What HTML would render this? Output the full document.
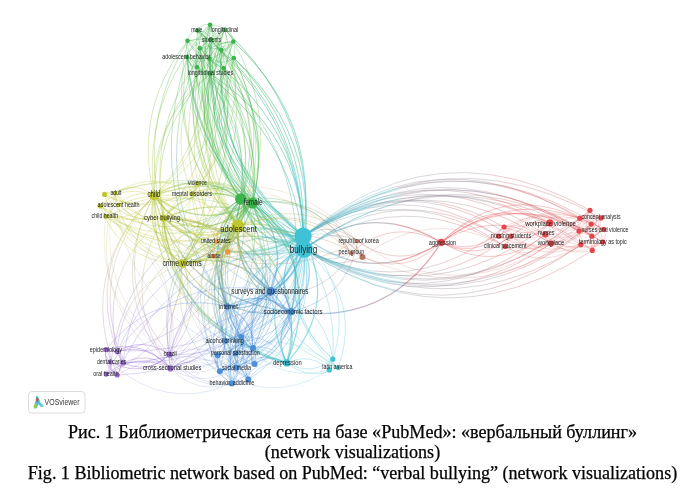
<!DOCTYPE html>
<html><head><meta charset="utf-8">
<style>
html,body{margin:0;padding:0;background:#fff;}
body{width:698px;height:502px;position:relative;overflow:hidden;}
svg{position:absolute;left:0;top:0;}
#net{filter:blur(0.65px);}
.cap{position:absolute;left:3.5px;width:698px;text-align:center;font-family:"Liberation Serif",serif;font-size:18.1px;line-height:20px;color:#000;white-space:nowrap;filter:blur(0.3px);-webkit-text-stroke:0.25px #000;}
</style></head><body>
<svg id="net" width="698" height="420" viewBox="0 0 698 420">
<g fill="none" stroke-width="0.7" stroke-opacity="0.28">
<path d="M210.1 24.7Q207.3 24.2 205 24.7" stroke="#3cb44b" stroke-opacity="0.42"/>
<path d="M205 24.7Q202.7 25.2 200.8 26.7" stroke="#3cb44b" stroke-opacity="0.42"/>
<path d="M200.8 26.7Q198.9 28.1 197.5 30.5" stroke="#3cb44b" stroke-opacity="0.42"/>
<path d="M210.1 24.7Q208.2 30 205 33.5" stroke="#3cb44b" stroke-opacity="0.42"/>
<path d="M205 33.5Q201.9 37.1 197.5 38.9" stroke="#3cb44b" stroke-opacity="0.42"/>
<path d="M197.5 38.9Q193.1 40.7 187.5 40.8" stroke="#3cb44b" stroke-opacity="0.42"/>
<path d="M210.1 24.7Q211.9 27.1 212.6 29.5" stroke="#3cb44b" stroke-opacity="0.42"/>
<path d="M212.6 29.5Q213.3 31.9 212.9 34.4" stroke="#3cb44b" stroke-opacity="0.42"/>
<path d="M212.9 34.4Q212.4 36.9 210.9 39.4" stroke="#3cb44b" stroke-opacity="0.42"/>
<path d="M210.1 24.7Q215.7 25.1 220.2 27" stroke="#3cb44b" stroke-opacity="0.42"/>
<path d="M220.2 27Q224.7 29 228 32.6" stroke="#3cb44b" stroke-opacity="0.42"/>
<path d="M228 32.6Q231.3 36.3 233.4 41.5" stroke="#3cb44b" stroke-opacity="0.42"/>
<path d="M210.1 24.7Q205.8 27.5 203.3 31" stroke="#3cb44b" stroke-opacity="0.42"/>
<path d="M203.3 31Q200.7 34.6 199.8 38.9" stroke="#3cb44b" stroke-opacity="0.42"/>
<path d="M199.8 38.9Q199 43.2 199.8 48.2" stroke="#3cb44b" stroke-opacity="0.42"/>
<path d="M210.1 24.7Q214.8 27.7 217.6 31.5" stroke="#3cb44b" stroke-opacity="0.42"/>
<path d="M217.6 31.5Q220.3 35.4 221.3 40" stroke="#3cb44b" stroke-opacity="0.42"/>
<path d="M221.3 40Q222.2 44.6 221.3 50.1" stroke="#3cb44b" stroke-opacity="0.42"/>
<path d="M210.1 24.7Q206.1 30.3 204.6 35.9" stroke="#3cb44b" stroke-opacity="0.42"/>
<path d="M204.6 35.9Q203.2 41.6 204.4 47.3" stroke="#3cb44b" stroke-opacity="0.42"/>
<path d="M204.4 47.3Q205.6 53 209.4 58.7" stroke="#3cb44b" stroke-opacity="0.42"/>
<path d="M210.1 24.7Q215.5 32.9 217.3 41" stroke="#3cb44b" stroke-opacity="0.42"/>
<path d="M217.3 41Q219.1 49.2 217.3 57.4" stroke="#3cb44b" stroke-opacity="0.42"/>
<path d="M217.3 57.4Q215.5 65.5 210.1 73.7" stroke="#3cb44b" stroke-opacity="0.42"/>
<path d="M210.1 24.7Q201.4 56.2 201.9 86" stroke="#3cb44b" stroke-width="0.8" stroke-opacity="0.42"/>
<path d="M201.9 86Q202.5 115.9 212.2 144.1" stroke="#3cb44b" stroke-width="0.8" stroke-opacity="0.42"/>
<path d="M212.2 144.1Q221.9 172.4 240.8 199" stroke="#3cb44b" stroke-width="0.8" stroke-opacity="0.42"/>
<path d="M210.1 24.7Q202.1 58 204.1 88.9" stroke="#3cb44b" stroke-width="0.8" stroke-opacity="0.42"/>
<path d="M204.1 88.9Q206.2 119.8 218.3 148.3" stroke="#3cb44b" stroke-width="0.8" stroke-opacity="0.42"/>
<path d="M218.3 148.3Q230.4 176.9 252.5 203" stroke="#3cb44b" stroke-width="0.8" stroke-opacity="0.42"/>
<path d="M210.1 24.7Q187.6 48.9 173.8 75.9" stroke="#52b746" stroke-width="0.8" stroke-opacity="0.42"/>
<path d="M173.8 75.9Q160 102.9 155.1 132.9" stroke="#7ebe3c" stroke-width="0.8" stroke-opacity="0.42"/>
<path d="M155.1 132.9Q150.1 162.8 153.9 195.6" stroke="#a9c431" stroke-width="0.8" stroke-opacity="0.42"/>
<path d="M210.1 24.7Q196.8 60.7 195.5 95.1" stroke="#52b746" stroke-width="0.8" stroke-opacity="0.42"/>
<path d="M195.5 95.1Q194.1 129.5 204.8 162.2" stroke="#7ebe3c" stroke-width="0.8" stroke-opacity="0.42"/>
<path d="M204.8 162.2Q215.4 194.9 238 226" stroke="#a9c431" stroke-width="0.8" stroke-opacity="0.42"/>
<path d="M210.1 24.7Q225.3 66.8 227.3 107.4" stroke="#52b746" stroke-width="0.8" stroke-opacity="0.42"/>
<path d="M227.3 107.4Q229.2 148 217.9 187" stroke="#7ebe3c" stroke-width="0.8" stroke-opacity="0.42"/>
<path d="M217.9 187Q206.6 226 182.1 263.5" stroke="#a9c431" stroke-width="0.8" stroke-opacity="0.42"/>
<path d="M210.1 24.7Q206.9 68.2 216.2 106.1" stroke="#3cb662" stroke-width="1.0" stroke-opacity="0.5"/>
<path d="M216.2 106.1Q225.4 144.1 247.2 176.6" stroke="#3ebb90" stroke-width="1.0" stroke-opacity="0.5"/>
<path d="M247.2 176.6Q268.9 209.1 303.1 236.1" stroke="#3ec0bf" stroke-width="1.0" stroke-opacity="0.5"/>
<path d="M197.5 30.5Q194.7 31.1 192.6 32.4" stroke="#3cb44b" stroke-opacity="0.42"/>
<path d="M192.6 32.4Q190.5 33.7 189.3 35.8" stroke="#3cb44b" stroke-opacity="0.42"/>
<path d="M189.3 35.8Q188 37.9 187.5 40.8" stroke="#3cb44b" stroke-opacity="0.42"/>
<path d="M197.5 30.5Q200.7 30.5 203.3 31.5" stroke="#3cb44b" stroke-opacity="0.42"/>
<path d="M203.3 31.5Q205.8 32.5 207.7 34.5" stroke="#3cb44b" stroke-opacity="0.42"/>
<path d="M207.7 34.5Q209.6 36.4 210.9 39.4" stroke="#3cb44b" stroke-opacity="0.42"/>
<path d="M197.5 30.5Q202.3 36.2 207.9 39.3" stroke="#3cb44b" stroke-opacity="0.42"/>
<path d="M207.9 39.3Q213.5 42.5 219.8 43" stroke="#3cb44b" stroke-opacity="0.42"/>
<path d="M219.8 43Q226.2 43.5 233.4 41.5" stroke="#3cb44b" stroke-opacity="0.42"/>
<path d="M197.5 30.5Q199.2 36.5 202.4 40.7" stroke="#3cb44b" stroke-opacity="0.42"/>
<path d="M202.4 40.7Q205.6 44.9 210.3 47.2" stroke="#3cb44b" stroke-opacity="0.42"/>
<path d="M210.3 47.2Q215.1 49.6 221.3 50.1" stroke="#3cb44b" stroke-opacity="0.42"/>
<path d="M197.5 30.5Q197.6 39.8 200.6 47.1" stroke="#3cb44b" stroke-opacity="0.42"/>
<path d="M200.6 47.1Q203.5 54.3 209.3 59.7" stroke="#3cb44b" stroke-opacity="0.42"/>
<path d="M209.3 59.7Q215.2 65 223.8 68.3" stroke="#3cb44b" stroke-opacity="0.42"/>
<path d="M197.5 30.5Q218.4 55.1 230.2 82" stroke="#3cb44b" stroke-width="0.8" stroke-opacity="0.42"/>
<path d="M230.2 82Q242 108.9 244.6 138.1" stroke="#3cb44b" stroke-width="0.8" stroke-opacity="0.42"/>
<path d="M244.6 138.1Q247.3 167.4 240.8 199" stroke="#3cb44b" stroke-width="0.8" stroke-opacity="0.42"/>
<path d="M197.5 30.5Q193.8 63.4 198.7 93.5" stroke="#3cb44b" stroke-width="0.8" stroke-opacity="0.42"/>
<path d="M198.7 93.5Q203.6 123.6 217 151" stroke="#3cb44b" stroke-width="0.8" stroke-opacity="0.42"/>
<path d="M217 151Q230.5 178.4 252.5 203" stroke="#3cb44b" stroke-width="0.8" stroke-opacity="0.42"/>
<path d="M197.5 30.5Q220.1 59.8 232.1 91.3" stroke="#52b746" stroke-width="0.8" stroke-opacity="0.42"/>
<path d="M232.1 91.3Q244.1 122.8 245.6 156.5" stroke="#7ebe3c" stroke-width="0.8" stroke-opacity="0.42"/>
<path d="M245.6 156.5Q247.1 190.1 238 226" stroke="#a9c431" stroke-width="0.8" stroke-opacity="0.42"/>
<path d="M197.5 30.5Q232.2 56 255.4 87.4" stroke="#3cb662" stroke-width="1.0" stroke-opacity="0.5"/>
<path d="M255.4 87.4Q278.7 118.7 290.6 155.9" stroke="#3ebb90" stroke-width="1.0" stroke-opacity="0.5"/>
<path d="M290.6 155.9Q302.6 193.1 303.1 236.1" stroke="#3ec0bf" stroke-width="1.0" stroke-opacity="0.5"/>
<path d="M197.5 30.5Q232.8 58.4 256.4 92" stroke="#3cb662" stroke-width="1.0" stroke-opacity="0.5"/>
<path d="M256.4 92Q280 125.6 291.9 164.8" stroke="#3ebb90" stroke-width="1.0" stroke-opacity="0.5"/>
<path d="M291.9 164.8Q303.9 204.1 304.1 249.1" stroke="#3ec0bf" stroke-width="1.0" stroke-opacity="0.5"/>
<path d="M224.5 29.6Q223.3 32.8 221.5 34.9" stroke="#3cb44b" stroke-opacity="0.42"/>
<path d="M221.5 34.9Q219.6 37.1 216.9 38.2" stroke="#3cb44b" stroke-opacity="0.42"/>
<path d="M216.9 38.2Q214.3 39.3 210.9 39.4" stroke="#3cb44b" stroke-opacity="0.42"/>
<path d="M224.5 29.6Q227.2 30.6 229.1 32.3" stroke="#3cb44b" stroke-opacity="0.42"/>
<path d="M229.1 32.3Q231 34 232.1 36.3" stroke="#3cb44b" stroke-opacity="0.42"/>
<path d="M232.1 36.3Q233.2 38.6 233.4 41.5" stroke="#3cb44b" stroke-opacity="0.42"/>
<path d="M224.5 29.6Q226.1 33.4 226.3 36.9" stroke="#3cb44b" stroke-opacity="0.42"/>
<path d="M226.3 36.9Q226.5 40.4 225.2 43.7" stroke="#3cb44b" stroke-opacity="0.42"/>
<path d="M225.2 43.7Q224 47 221.3 50.1" stroke="#3cb44b" stroke-opacity="0.42"/>
<path d="M224.5 29.6Q218.9 32.9 215.4 37.2" stroke="#3cb44b" stroke-opacity="0.42"/>
<path d="M215.4 37.2Q211.9 41.5 210.4 46.9" stroke="#3cb44b" stroke-opacity="0.42"/>
<path d="M210.4 46.9Q208.9 52.3 209.4 58.7" stroke="#3cb44b" stroke-opacity="0.42"/>
<path d="M224.5 29.6Q229 33.4 231.5 37.8" stroke="#3cb44b" stroke-opacity="0.42"/>
<path d="M231.5 37.8Q234.1 42.2 234.6 47.2" stroke="#3cb44b" stroke-opacity="0.42"/>
<path d="M234.6 47.2Q235.2 52.3 233.8 58" stroke="#3cb44b" stroke-opacity="0.42"/>
<path d="M224.5 29.6Q215.8 32.9 209.8 38.2" stroke="#3cb44b" stroke-opacity="0.42"/>
<path d="M209.8 38.2Q203.9 43.4 200.7 50.7" stroke="#3cb44b" stroke-opacity="0.42"/>
<path d="M200.7 50.7Q197.5 58 197 67.3" stroke="#3cb44b" stroke-opacity="0.42"/>
<path d="M224.5 29.6Q217.4 35.4 213.5 42.3" stroke="#3cb44b" stroke-opacity="0.42"/>
<path d="M213.5 42.3Q209.5 49.1 208.7 57" stroke="#3cb44b" stroke-opacity="0.42"/>
<path d="M208.7 57Q207.8 64.8 210.1 73.7" stroke="#3cb44b" stroke-opacity="0.42"/>
<path d="M224.5 29.6Q211.4 59.4 208.9 88.1" stroke="#3cb44b" stroke-width="0.8" stroke-opacity="0.42"/>
<path d="M208.9 88.1Q206.3 116.8 214.3 144.6" stroke="#3cb44b" stroke-width="0.8" stroke-opacity="0.42"/>
<path d="M214.3 144.6Q222.3 172.3 240.8 199" stroke="#3cb44b" stroke-width="0.8" stroke-opacity="0.42"/>
<path d="M224.5 29.6Q213.7 61 213.1 90.7" stroke="#3cb44b" stroke-width="0.8" stroke-opacity="0.42"/>
<path d="M213.1 90.7Q212.6 120.5 222.5 148.5" stroke="#3cb44b" stroke-width="0.8" stroke-opacity="0.42"/>
<path d="M222.5 148.5Q232.3 176.6 252.5 203" stroke="#3cb44b" stroke-width="0.8" stroke-opacity="0.42"/>
<path d="M224.5 29.6Q197.8 55.6 182.1 85.2" stroke="#52b746" stroke-width="0.8" stroke-opacity="0.42"/>
<path d="M182.1 85.2Q166.4 114.9 161.7 148" stroke="#7ebe3c" stroke-width="0.8" stroke-opacity="0.42"/>
<path d="M161.7 148Q157 181.2 163.4 218" stroke="#a9c431" stroke-width="0.8" stroke-opacity="0.42"/>
<path d="M224.5 29.6Q209.1 63.5 205.5 96.7" stroke="#52b746" stroke-width="0.8" stroke-opacity="0.42"/>
<path d="M205.5 96.7Q201.8 129.8 210 162.2" stroke="#7ebe3c" stroke-width="0.8" stroke-opacity="0.42"/>
<path d="M210 162.2Q218.1 194.5 238 226" stroke="#a9c431" stroke-width="0.8" stroke-opacity="0.42"/>
<path d="M224.5 29.6Q236.9 72.1 236.4 112.3" stroke="#52b746" stroke-width="0.8" stroke-opacity="0.42"/>
<path d="M236.4 112.3Q235.8 152.4 222.2 190.2" stroke="#7ebe3c" stroke-width="0.8" stroke-opacity="0.42"/>
<path d="M222.2 190.2Q208.7 228.1 182.1 263.5" stroke="#a9c431" stroke-width="0.8" stroke-opacity="0.42"/>
<path d="M224.5 29.6Q256.4 59.4 275.9 93.7" stroke="#3cb662" stroke-width="1.0" stroke-opacity="0.5"/>
<path d="M275.9 93.7Q295.4 128.1 302.4 166.9" stroke="#3ebb90" stroke-width="1.0" stroke-opacity="0.5"/>
<path d="M302.4 166.9Q309.5 205.8 304.1 249.1" stroke="#3ec0bf" stroke-width="1.0" stroke-opacity="0.5"/>
<path d="M187.5 40.8Q195.1 46.2 202.7 48.1" stroke="#3cb44b" stroke-opacity="0.42"/>
<path d="M202.7 48.1Q210.3 49.9 218 48.3" stroke="#3cb44b" stroke-opacity="0.42"/>
<path d="M218 48.3Q225.7 46.7 233.4 41.5" stroke="#3cb44b" stroke-opacity="0.42"/>
<path d="M187.5 40.8Q190.4 40.7 192.7 41.4" stroke="#3cb44b" stroke-opacity="0.42"/>
<path d="M192.7 41.4Q195 42.2 196.8 43.9" stroke="#3cb44b" stroke-opacity="0.42"/>
<path d="M196.8 43.9Q198.6 45.6 199.8 48.2" stroke="#3cb44b" stroke-opacity="0.42"/>
<path d="M187.5 40.8Q197.1 38.6 205.5 39.8" stroke="#3cb44b" stroke-opacity="0.42"/>
<path d="M205.5 39.8Q213.8 40.9 220.9 45.5" stroke="#3cb44b" stroke-opacity="0.42"/>
<path d="M220.9 45.5Q228 50 233.8 58" stroke="#3cb44b" stroke-opacity="0.42"/>
<path d="M187.5 40.8Q186.3 46.2 187 50.9" stroke="#3cb44b" stroke-opacity="0.42"/>
<path d="M187 50.9Q187.7 55.7 190.2 59.8" stroke="#3cb44b" stroke-opacity="0.42"/>
<path d="M190.2 59.8Q192.7 63.9 197 67.3" stroke="#3cb44b" stroke-opacity="0.42"/>
<path d="M187.5 40.8Q187.5 48.9 190 55.2" stroke="#3cb44b" stroke-opacity="0.42"/>
<path d="M190 55.2Q192.5 61.6 197.5 66.2" stroke="#3cb44b" stroke-opacity="0.42"/>
<path d="M197.5 66.2Q202.5 70.8 210.1 73.7" stroke="#3cb44b" stroke-opacity="0.42"/>
<path d="M187.5 40.8Q208.7 63 221.7 88" stroke="#3cb44b" stroke-width="0.8" stroke-opacity="0.42"/>
<path d="M221.7 88Q234.7 113 239.4 140.7" stroke="#3cb44b" stroke-width="0.8" stroke-opacity="0.42"/>
<path d="M239.4 140.7Q244.2 168.5 240.8 199" stroke="#3cb44b" stroke-width="0.8" stroke-opacity="0.42"/>
<path d="M187.5 40.8Q169.4 63.9 159.7 88.8" stroke="#52b746" stroke-width="0.8" stroke-opacity="0.42"/>
<path d="M159.7 88.8Q149.9 113.7 148.5 140.4" stroke="#7ebe3c" stroke-width="0.8" stroke-opacity="0.42"/>
<path d="M148.5 140.4Q147 167.1 153.9 195.6" stroke="#a9c431" stroke-width="0.8" stroke-opacity="0.42"/>
<path d="M187.5 40.8Q179.4 76.2 182.3 108.5" stroke="#52b746" stroke-width="0.8" stroke-opacity="0.42"/>
<path d="M182.3 108.5Q185.2 140.9 199.2 170.3" stroke="#7ebe3c" stroke-width="0.8" stroke-opacity="0.42"/>
<path d="M199.2 170.3Q213.1 199.6 238 226" stroke="#a9c431" stroke-width="0.8" stroke-opacity="0.42"/>
<path d="M187.5 40.8Q166.2 77.4 158.5 114.4" stroke="#52b746" stroke-width="0.8" stroke-opacity="0.42"/>
<path d="M158.5 114.4Q150.9 151.3 156.7 188.6" stroke="#7ebe3c" stroke-width="0.8" stroke-opacity="0.42"/>
<path d="M156.7 188.6Q162.6 225.9 182.1 263.5" stroke="#a9c431" stroke-width="0.8" stroke-opacity="0.42"/>
<path d="M187.5 40.8Q217.3 81.6 231.7 124.7" stroke="#3eae62" stroke-width="0.8" stroke-opacity="0.42"/>
<path d="M231.7 124.7Q246.1 167.8 245.1 213.2" stroke="#44a292" stroke-width="0.8" stroke-opacity="0.42"/>
<path d="M245.1 213.2Q244 258.6 227.6 306.4" stroke="#4895c0" stroke-width="0.8" stroke-opacity="0.42"/>
<path d="M210.9 39.4Q213.9 40 216 41.4" stroke="#3cb44b" stroke-opacity="0.42"/>
<path d="M216 41.4Q218.2 42.8 219.5 44.9" stroke="#3cb44b" stroke-opacity="0.42"/>
<path d="M219.5 44.9Q220.8 47.1 221.3 50.1" stroke="#3cb44b" stroke-opacity="0.42"/>
<path d="M210.9 39.4Q205 39.7 200.3 41.9" stroke="#3cb44b" stroke-opacity="0.42"/>
<path d="M200.3 41.9Q195.7 44 192.4 47.8" stroke="#3cb44b" stroke-opacity="0.42"/>
<path d="M192.4 47.8Q189.2 51.7 187.2 57.3" stroke="#3cb44b" stroke-opacity="0.42"/>
<path d="M210.9 39.4Q205.3 42.4 202 46.6" stroke="#3cb44b" stroke-opacity="0.42"/>
<path d="M202 46.6Q198.6 50.7 197.3 55.9" stroke="#3cb44b" stroke-opacity="0.42"/>
<path d="M197.3 55.9Q196.1 61 197 67.3" stroke="#3cb44b" stroke-opacity="0.42"/>
<path d="M210.9 39.4Q230.4 63.3 240.2 89" stroke="#3cb44b" stroke-width="0.8" stroke-opacity="0.42"/>
<path d="M240.2 89Q250 114.7 250.2 142.2" stroke="#3cb44b" stroke-width="0.8" stroke-opacity="0.42"/>
<path d="M250.2 142.2Q250.3 169.7 240.8 199" stroke="#3cb44b" stroke-width="0.8" stroke-opacity="0.42"/>
<path d="M210.9 39.4Q232.6 62.9 244.4 88.9" stroke="#3cb44b" stroke-width="0.8" stroke-opacity="0.42"/>
<path d="M244.4 88.9Q256.3 114.9 258.3 143.5" stroke="#3cb44b" stroke-width="0.8" stroke-opacity="0.42"/>
<path d="M258.3 143.5Q260.3 172 252.5 203" stroke="#3cb44b" stroke-width="0.8" stroke-opacity="0.42"/>
<path d="M210.9 39.4Q198.4 73 197.3 104.9" stroke="#52b746" stroke-width="0.8" stroke-opacity="0.42"/>
<path d="M197.3 104.9Q196.2 136.8 206.3 167.1" stroke="#7ebe3c" stroke-width="0.8" stroke-opacity="0.42"/>
<path d="M206.3 167.1Q216.5 197.4 238 226" stroke="#a9c431" stroke-width="0.8" stroke-opacity="0.42"/>
<path d="M210.9 39.4Q195.1 73.6 190.4 107.5" stroke="#5aae48" stroke-opacity="0.42"/>
<path d="M190.4 107.5Q185.8 141.4 192.3 175" stroke="#96a342" stroke-opacity="0.42"/>
<path d="M192.3 175Q198.8 208.5 216.5 241.8" stroke="#d2983d" stroke-opacity="0.42"/>
<path d="M210.9 39.4Q211.3 79.2 221.6 114.3" stroke="#3cb662" stroke-width="1.0" stroke-opacity="0.5"/>
<path d="M221.6 114.3Q232 149.5 252.4 179.9" stroke="#3ebb90" stroke-width="1.0" stroke-opacity="0.5"/>
<path d="M252.4 179.9Q272.7 210.3 303.1 236.1" stroke="#3ec0bf" stroke-width="1.0" stroke-opacity="0.5"/>
<path d="M210.9 39.4Q208.4 82.4 217.9 120" stroke="#3cb662" stroke-width="1.0" stroke-opacity="0.5"/>
<path d="M217.9 120Q227.5 157.6 249 189.9" stroke="#3ebb90" stroke-width="1.0" stroke-opacity="0.5"/>
<path d="M249 189.9Q270.5 222.2 304.1 249.1" stroke="#3ec0bf" stroke-width="1.0" stroke-opacity="0.5"/>
<path d="M233.4 41.5Q232.3 44.3 230.6 46.1" stroke="#3cb44b" stroke-opacity="0.42"/>
<path d="M230.6 46.1Q228.9 48 226.6 49" stroke="#3cb44b" stroke-opacity="0.42"/>
<path d="M226.6 49Q224.3 50 221.3 50.1" stroke="#3cb44b" stroke-opacity="0.42"/>
<path d="M233.4 41.5Q227.5 49.4 220.4 53.8" stroke="#3cb44b" stroke-opacity="0.42"/>
<path d="M220.4 53.8Q213.3 58.1 205 59" stroke="#3cb44b" stroke-opacity="0.42"/>
<path d="M205 59Q196.7 59.9 187.2 57.3" stroke="#3cb44b" stroke-opacity="0.42"/>
<path d="M233.4 41.5Q227.4 41.6 222.8 43.6" stroke="#3cb44b" stroke-opacity="0.42"/>
<path d="M222.8 43.6Q218.1 45.5 214.8 49.3" stroke="#3cb44b" stroke-opacity="0.42"/>
<path d="M214.8 49.3Q211.4 53.1 209.4 58.7" stroke="#3cb44b" stroke-opacity="0.42"/>
<path d="M233.4 41.5Q224.5 41.8 217.5 44.8" stroke="#3cb44b" stroke-opacity="0.42"/>
<path d="M217.5 44.8Q210.5 47.8 205.4 53.4" stroke="#3cb44b" stroke-opacity="0.42"/>
<path d="M205.4 53.4Q200.3 59 197 67.3" stroke="#3cb44b" stroke-opacity="0.42"/>
<path d="M233.4 41.5Q228.8 44.9 226.2 49" stroke="#3cb44b" stroke-opacity="0.42"/>
<path d="M226.2 49Q223.6 53.1 223 57.9" stroke="#3cb44b" stroke-opacity="0.42"/>
<path d="M223 57.9Q222.4 62.7 223.8 68.3" stroke="#3cb44b" stroke-opacity="0.42"/>
<path d="M233.4 41.5Q222.8 68.3 220.1 94.7" stroke="#3cb44b" stroke-width="0.8" stroke-opacity="0.42"/>
<path d="M220.1 94.7Q217.4 121.2 222.6 147.2" stroke="#3cb44b" stroke-width="0.8" stroke-opacity="0.42"/>
<path d="M222.6 147.2Q227.8 173.3 240.8 199" stroke="#3cb44b" stroke-width="0.8" stroke-opacity="0.42"/>
<path d="M233.4 41.5Q222.5 70.1 221 97.6" stroke="#3cb44b" stroke-width="0.8" stroke-opacity="0.42"/>
<path d="M221 97.6Q219.5 125 227.4 151.4" stroke="#3cb44b" stroke-width="0.8" stroke-opacity="0.42"/>
<path d="M227.4 151.4Q235.2 177.7 252.5 203" stroke="#3cb44b" stroke-width="0.8" stroke-opacity="0.42"/>
<path d="M233.4 41.5Q208 60.9 190.7 84.5" stroke="#52b746" stroke-width="0.8" stroke-opacity="0.42"/>
<path d="M190.7 84.5Q173.4 108.1 164.2 135.9" stroke="#7ebe3c" stroke-width="0.8" stroke-opacity="0.42"/>
<path d="M164.2 135.9Q155 163.7 153.9 195.6" stroke="#a9c431" stroke-width="0.8" stroke-opacity="0.42"/>
<path d="M233.4 41.5Q216.5 62.4 206.9 85.1" stroke="#52b746" stroke-opacity="0.42"/>
<path d="M206.9 85.1Q197.3 107.9 195 132.4" stroke="#7ebe3c" stroke-opacity="0.42"/>
<path d="M195 132.4Q192.8 157 197.8 183.4" stroke="#a9c431" stroke-opacity="0.42"/>
<path d="M233.4 41.5Q250.7 71.8 257 102.4" stroke="#52b746" stroke-width="0.8" stroke-opacity="0.42"/>
<path d="M257 102.4Q263.3 133.1 258.5 163.9" stroke="#7ebe3c" stroke-width="0.8" stroke-opacity="0.42"/>
<path d="M258.5 163.9Q253.8 194.8 238 226" stroke="#a9c431" stroke-width="0.8" stroke-opacity="0.42"/>
<path d="M233.4 41.5Q262.2 67.8 279.5 98.2" stroke="#3cb662" stroke-width="1.0" stroke-opacity="0.5"/>
<path d="M279.5 98.2Q296.9 128.5 302.8 163" stroke="#3ebb90" stroke-width="1.0" stroke-opacity="0.5"/>
<path d="M302.8 163Q308.7 197.5 303.1 236.1" stroke="#3ec0bf" stroke-width="1.0" stroke-opacity="0.5"/>
<path d="M199.8 48.2Q202.6 48.9 204.6 50.3" stroke="#3cb44b" stroke-opacity="0.42"/>
<path d="M204.6 50.3Q206.6 51.6 207.8 53.8" stroke="#3cb44b" stroke-opacity="0.42"/>
<path d="M207.8 53.8Q209 55.9 209.4 58.7" stroke="#3cb44b" stroke-opacity="0.42"/>
<path d="M199.8 48.2Q206.6 46 212.6 46.4" stroke="#3cb44b" stroke-opacity="0.42"/>
<path d="M212.6 46.4Q218.6 46.8 223.9 49.7" stroke="#3cb44b" stroke-opacity="0.42"/>
<path d="M223.9 49.7Q229.2 52.6 233.8 58" stroke="#3cb44b" stroke-opacity="0.42"/>
<path d="M199.8 48.2Q197.1 51.1 195.9 54.1" stroke="#3cb44b" stroke-opacity="0.42"/>
<path d="M195.9 54.1Q194.7 57.2 195 60.5" stroke="#3cb44b" stroke-opacity="0.42"/>
<path d="M195 60.5Q195.3 63.8 197 67.3" stroke="#3cb44b" stroke-opacity="0.42"/>
<path d="M199.8 48.2Q204.2 51.4 206.8 55.3" stroke="#3cb44b" stroke-opacity="0.42"/>
<path d="M206.8 55.3Q209.4 59.2 210.2 63.8" stroke="#3cb44b" stroke-opacity="0.42"/>
<path d="M210.2 63.8Q211 68.4 210.1 73.7" stroke="#3cb44b" stroke-opacity="0.42"/>
<path d="M199.8 48.2Q221 69.8 233.9 94.2" stroke="#3cb44b" stroke-width="0.8" stroke-opacity="0.42"/>
<path d="M233.9 94.2Q246.8 118.6 251.5 145.8" stroke="#3cb44b" stroke-width="0.8" stroke-opacity="0.42"/>
<path d="M251.5 145.8Q256.1 173 252.5 203" stroke="#3cb44b" stroke-width="0.8" stroke-opacity="0.42"/>
<path d="M199.8 48.2Q204.9 76.7 201.5 102.6" stroke="#52b746" stroke-width="0.8" stroke-opacity="0.42"/>
<path d="M201.5 102.6Q198.1 128.5 186.2 151.8" stroke="#7ebe3c" stroke-width="0.8" stroke-opacity="0.42"/>
<path d="M186.2 151.8Q174.3 175 153.9 195.6" stroke="#a9c431" stroke-width="0.8" stroke-opacity="0.42"/>
<path d="M199.8 48.2Q209.3 79.8 208.4 109.2" stroke="#52b746" stroke-width="0.8" stroke-opacity="0.42"/>
<path d="M208.4 109.2Q207.5 138.6 196.2 165.8" stroke="#7ebe3c" stroke-width="0.8" stroke-opacity="0.42"/>
<path d="M196.2 165.8Q185 193 163.4 218" stroke="#a9c431" stroke-width="0.8" stroke-opacity="0.42"/>
<path d="M199.8 48.2Q191.6 81 193.1 111.6" stroke="#52b746" stroke-width="0.8" stroke-opacity="0.42"/>
<path d="M193.1 111.6Q194.6 142.3 205.9 170.9" stroke="#7ebe3c" stroke-width="0.8" stroke-opacity="0.42"/>
<path d="M205.9 170.9Q217.1 199.5 238 226" stroke="#a9c431" stroke-width="0.8" stroke-opacity="0.42"/>
<path d="M199.8 48.2Q202.5 87.5 214.8 121.5" stroke="#3cb662" stroke-width="1.0" stroke-opacity="0.5"/>
<path d="M214.8 121.5Q227.2 155.5 249.3 184.1" stroke="#3ebb90" stroke-width="1.0" stroke-opacity="0.5"/>
<path d="M249.3 184.1Q271.3 212.8 303.1 236.1" stroke="#3ec0bf" stroke-width="1.0" stroke-opacity="0.5"/>
<path d="M199.8 48.2Q180.5 93.8 177.2 137.7" stroke="#3eae62" stroke-width="0.8" stroke-opacity="0.42"/>
<path d="M177.2 137.7Q173.8 181.6 186.4 223.8" stroke="#44a292" stroke-width="0.8" stroke-opacity="0.42"/>
<path d="M186.4 223.8Q199 265.9 227.6 306.4" stroke="#4895c0" stroke-width="0.8" stroke-opacity="0.42"/>
<path d="M221.3 50.1Q222.5 52.8 224.3 54.6" stroke="#3cb44b" stroke-opacity="0.42"/>
<path d="M224.3 54.6Q226 56.4 228.4 57.3" stroke="#3cb44b" stroke-opacity="0.42"/>
<path d="M228.4 57.3Q230.8 58.1 233.8 58" stroke="#3cb44b" stroke-opacity="0.42"/>
<path d="M221.3 50.1Q219.8 53.4 219.6 56.5" stroke="#3cb44b" stroke-opacity="0.42"/>
<path d="M219.6 56.5Q219.4 59.6 220.5 62.6" stroke="#3cb44b" stroke-opacity="0.42"/>
<path d="M220.5 62.6Q221.5 65.5 223.8 68.3" stroke="#3cb44b" stroke-opacity="0.42"/>
<path d="M221.3 50.1Q211.3 76.7 210.1 102.1" stroke="#3cb44b" stroke-width="0.8" stroke-opacity="0.42"/>
<path d="M210.1 102.1Q208.9 127.4 216.6 151.7" stroke="#3cb44b" stroke-width="0.8" stroke-opacity="0.42"/>
<path d="M216.6 151.7Q224.3 175.9 240.8 199" stroke="#3cb44b" stroke-width="0.8" stroke-opacity="0.42"/>
<path d="M221.3 50.1Q239.1 73 248.5 97.6" stroke="#3cb44b" stroke-width="0.8" stroke-opacity="0.42"/>
<path d="M248.5 97.6Q257.9 122.3 258.9 148.6" stroke="#3cb44b" stroke-width="0.8" stroke-opacity="0.42"/>
<path d="M258.9 148.6Q259.9 174.9 252.5 203" stroke="#3cb44b" stroke-width="0.8" stroke-opacity="0.42"/>
<path d="M221.3 50.1Q228.9 76.7 228.1 101.5" stroke="#52b746" stroke-opacity="0.42"/>
<path d="M228.1 101.5Q227.4 126.4 218.3 149.5" stroke="#7ebe3c" stroke-opacity="0.42"/>
<path d="M218.3 149.5Q209.2 172.7 191.8 194.1" stroke="#a9c431" stroke-opacity="0.42"/>
<path d="M221.3 50.1Q238.5 78.1 246.1 106.9" stroke="#52b746" stroke-width="0.8" stroke-opacity="0.42"/>
<path d="M246.1 106.9Q253.6 135.8 251.6 165.5" stroke="#7ebe3c" stroke-width="0.8" stroke-opacity="0.42"/>
<path d="M251.6 165.5Q249.6 195.3 238 226" stroke="#a9c431" stroke-width="0.8" stroke-opacity="0.42"/>
<path d="M221.3 50.1Q218.3 88.4 226.4 121.8" stroke="#3cb662" stroke-width="1.0" stroke-opacity="0.5"/>
<path d="M226.4 121.8Q234.5 155.3 253.7 183.8" stroke="#3ebb90" stroke-width="1.0" stroke-opacity="0.5"/>
<path d="M253.7 183.8Q272.9 212.4 303.1 236.1" stroke="#3ec0bf" stroke-width="1.0" stroke-opacity="0.5"/>
<path d="M221.3 50.1Q219.3 89.9 227.8 125.2" stroke="#3cb662" stroke-width="1.0" stroke-opacity="0.5"/>
<path d="M227.8 125.2Q236.3 160.6 255.4 191.6" stroke="#3ebb90" stroke-width="1.0" stroke-opacity="0.5"/>
<path d="M255.4 191.6Q274.5 222.5 304.1 249.1" stroke="#3ec0bf" stroke-width="1.0" stroke-opacity="0.5"/>
<path d="M187.2 57.3Q190.7 60 194.4 61.1" stroke="#3cb44b" stroke-opacity="0.42"/>
<path d="M194.4 61.1Q198 62.1 201.8 61.5" stroke="#3cb44b" stroke-opacity="0.42"/>
<path d="M201.8 61.5Q205.5 60.9 209.4 58.7" stroke="#3cb44b" stroke-opacity="0.42"/>
<path d="M187.2 57.3Q187.8 60 189 62" stroke="#3cb44b" stroke-opacity="0.42"/>
<path d="M189 62Q190.3 64 192.3 65.4" stroke="#3cb44b" stroke-opacity="0.42"/>
<path d="M192.3 65.4Q194.3 66.7 197 67.3" stroke="#3cb44b" stroke-opacity="0.42"/>
<path d="M187.2 57.3Q189.1 62.6 192.3 66.2" stroke="#3cb44b" stroke-opacity="0.42"/>
<path d="M192.3 66.2Q195.5 69.9 200 71.7" stroke="#3cb44b" stroke-opacity="0.42"/>
<path d="M200 71.7Q204.4 73.6 210.1 73.7" stroke="#3cb44b" stroke-opacity="0.42"/>
<path d="M187.2 57.3Q187.3 86.4 194.6 112.3" stroke="#3cb44b" stroke-width="0.8" stroke-opacity="0.42"/>
<path d="M194.6 112.3Q201.9 138.2 216.4 160.9" stroke="#3cb44b" stroke-width="0.8" stroke-opacity="0.42"/>
<path d="M216.4 160.9Q230.8 183.6 252.5 203" stroke="#3cb44b" stroke-width="0.8" stroke-opacity="0.42"/>
<path d="M187.2 57.3Q199.9 79.7 204.6 102.4" stroke="#52b746" stroke-opacity="0.42"/>
<path d="M204.6 102.4Q209.4 125 206.2 148" stroke="#7ebe3c" stroke-opacity="0.42"/>
<path d="M206.2 148Q203 170.9 191.8 194.1" stroke="#a9c431" stroke-opacity="0.42"/>
<path d="M187.2 57.3Q181.3 89.7 185 119.3" stroke="#52b746" stroke-width="0.8" stroke-opacity="0.42"/>
<path d="M185 119.3Q188.6 148.9 201.9 175.5" stroke="#7ebe3c" stroke-width="0.8" stroke-opacity="0.42"/>
<path d="M201.9 175.5Q215.2 202.2 238 226" stroke="#a9c431" stroke-width="0.8" stroke-opacity="0.42"/>
<path d="M187.2 57.3Q203.4 92.1 208.3 126.6" stroke="#52b746" stroke-width="0.8" stroke-opacity="0.42"/>
<path d="M208.3 126.6Q213.1 161.1 206.6 195.3" stroke="#7ebe3c" stroke-width="0.8" stroke-opacity="0.42"/>
<path d="M206.6 195.3Q200 229.6 182.1 263.5" stroke="#a9c431" stroke-width="0.8" stroke-opacity="0.42"/>
<path d="M187.2 57.3Q190.1 97.8 203.9 131.1" stroke="#3cb662" stroke-width="1.0" stroke-opacity="0.5"/>
<path d="M203.9 131.1Q217.8 164.5 242.6 190.7" stroke="#3ebb90" stroke-width="1.0" stroke-opacity="0.5"/>
<path d="M242.6 190.7Q267.4 217 303.1 236.1" stroke="#3ec0bf" stroke-width="1.0" stroke-opacity="0.5"/>
<path d="M187.2 57.3Q191.5 98.5 205.9 133.6" stroke="#3cb662" stroke-width="1.0" stroke-opacity="0.5"/>
<path d="M205.9 133.6Q220.3 168.7 244.8 197.5" stroke="#3ebb90" stroke-width="1.0" stroke-opacity="0.5"/>
<path d="M244.8 197.5Q269.4 226.4 304.1 249.1" stroke="#3ec0bf" stroke-width="1.0" stroke-opacity="0.5"/>
<path d="M187.2 57.3Q171.9 102.4 171.3 145.1" stroke="#3eae62" stroke-width="0.8" stroke-opacity="0.42"/>
<path d="M171.3 145.1Q170.7 187.8 184.8 228.1" stroke="#44a292" stroke-width="0.8" stroke-opacity="0.42"/>
<path d="M184.8 228.1Q198.8 268.5 227.6 306.4" stroke="#4895c0" stroke-width="0.8" stroke-opacity="0.42"/>
<path d="M209.4 58.7Q213.5 61.3 217.6 62" stroke="#3cb44b" stroke-opacity="0.42"/>
<path d="M217.6 62Q221.7 62.8 225.8 61.8" stroke="#3cb44b" stroke-opacity="0.42"/>
<path d="M225.8 61.8Q229.8 60.8 233.8 58" stroke="#3cb44b" stroke-opacity="0.42"/>
<path d="M209.4 58.7Q212.8 58.8 215.6 59.9" stroke="#3cb44b" stroke-opacity="0.42"/>
<path d="M215.6 59.9Q218.3 60.9 220.4 63.1" stroke="#3cb44b" stroke-opacity="0.42"/>
<path d="M220.4 63.1Q222.4 65.2 223.8 68.3" stroke="#3cb44b" stroke-opacity="0.42"/>
<path d="M209.4 58.7Q207.8 61.3 207.4 63.8" stroke="#3cb44b" stroke-opacity="0.42"/>
<path d="M207.4 63.8Q206.9 66.3 207.6 68.8" stroke="#3cb44b" stroke-opacity="0.42"/>
<path d="M207.6 68.8Q208.3 71.3 210.1 73.7" stroke="#3cb44b" stroke-opacity="0.42"/>
<path d="M209.4 58.7Q202.7 84.8 203.9 109" stroke="#3cb44b" stroke-width="0.8" stroke-opacity="0.42"/>
<path d="M203.9 109Q205.1 133.3 214.4 155.8" stroke="#3cb44b" stroke-width="0.8" stroke-opacity="0.42"/>
<path d="M214.4 155.8Q223.6 178.3 240.8 199" stroke="#3cb44b" stroke-width="0.8" stroke-opacity="0.42"/>
<path d="M209.4 58.7Q211.4 86.1 205.9 110.4" stroke="#52b746" stroke-width="0.8" stroke-opacity="0.42"/>
<path d="M205.9 110.4Q200.4 134.8 187.4 156.1" stroke="#7ebe3c" stroke-width="0.8" stroke-opacity="0.42"/>
<path d="M187.4 156.1Q174.4 177.4 153.9 195.6" stroke="#a9c431" stroke-width="0.8" stroke-opacity="0.42"/>
<path d="M209.4 58.7Q216.7 80.3 217.9 101.4" stroke="#52b746" stroke-opacity="0.42"/>
<path d="M217.9 101.4Q219 122.5 214 143" stroke="#7ebe3c" stroke-opacity="0.42"/>
<path d="M214 143Q209 163.5 197.8 183.4" stroke="#a9c431" stroke-opacity="0.42"/>
<path d="M209.4 58.7Q194.1 79.7 187 101.7" stroke="#52b746" stroke-opacity="0.42"/>
<path d="M187 101.7Q179.9 123.7 181.1 146.8" stroke="#7ebe3c" stroke-opacity="0.42"/>
<path d="M181.1 146.8Q182.3 169.9 191.8 194.1" stroke="#a9c431" stroke-opacity="0.42"/>
<path d="M209.4 58.7Q239.7 80.5 260.3 107.5" stroke="#3cb662" stroke-width="1.0" stroke-opacity="0.5"/>
<path d="M260.3 107.5Q280.8 134.4 291.5 166.6" stroke="#3ebb90" stroke-width="1.0" stroke-opacity="0.5"/>
<path d="M291.5 166.6Q302.2 198.8 303.1 236.1" stroke="#3ec0bf" stroke-width="1.0" stroke-opacity="0.5"/>
<path d="M209.4 58.7Q209.1 98.4 219.6 132.8" stroke="#3cb662" stroke-width="1.0" stroke-opacity="0.5"/>
<path d="M219.6 132.8Q230 167.2 251.1 196.3" stroke="#3ebb90" stroke-width="1.0" stroke-opacity="0.5"/>
<path d="M251.1 196.3Q272.3 225.4 304.1 249.1" stroke="#3ec0bf" stroke-width="1.0" stroke-opacity="0.5"/>
<path d="M209.4 58.7Q246.1 93.4 267.4 133.1" stroke="#3eae62" stroke-width="0.8" stroke-opacity="0.42"/>
<path d="M267.4 133.1Q288.7 172.8 294.7 217.4" stroke="#44a292" stroke-width="0.8" stroke-opacity="0.42"/>
<path d="M294.7 217.4Q300.7 262.1 291.3 311.7" stroke="#4895c0" stroke-width="0.8" stroke-opacity="0.42"/>
<path d="M233.8 58Q245.9 81 250.8 104.3" stroke="#3cb44b" stroke-width="0.8" stroke-opacity="0.42"/>
<path d="M250.8 104.3Q255.6 127.6 253.1 151.3" stroke="#3cb44b" stroke-width="0.8" stroke-opacity="0.42"/>
<path d="M253.1 151.3Q250.6 175 240.8 199" stroke="#3cb44b" stroke-width="0.8" stroke-opacity="0.42"/>
<path d="M233.8 58Q224.9 83.7 224 108.4" stroke="#3cb44b" stroke-width="0.8" stroke-opacity="0.42"/>
<path d="M224 108.4Q223.1 133.1 230.3 156.7" stroke="#3cb44b" stroke-width="0.8" stroke-opacity="0.42"/>
<path d="M230.3 156.7Q237.4 180.4 252.5 203" stroke="#3cb44b" stroke-width="0.8" stroke-opacity="0.42"/>
<path d="M233.8 58Q231 87 221.2 112" stroke="#52b746" stroke-width="0.8" stroke-opacity="0.42"/>
<path d="M221.2 112Q211.4 137 194.6 157.9" stroke="#7ebe3c" stroke-width="0.8" stroke-opacity="0.42"/>
<path d="M194.6 157.9Q177.7 178.8 153.9 195.6" stroke="#a9c431" stroke-width="0.8" stroke-opacity="0.42"/>
<path d="M233.8 58Q237.1 83.9 233.5 107.6" stroke="#52b746" stroke-opacity="0.42"/>
<path d="M233.5 107.6Q230 131.3 219.5 153" stroke="#7ebe3c" stroke-opacity="0.42"/>
<path d="M219.5 153Q209.1 174.6 191.8 194.1" stroke="#a9c431" stroke-opacity="0.42"/>
<path d="M233.8 58Q247.8 85.7 253 113.6" stroke="#52b746" stroke-width="0.8" stroke-opacity="0.42"/>
<path d="M253 113.6Q258.1 141.4 254.4 169.6" stroke="#7ebe3c" stroke-width="0.8" stroke-opacity="0.42"/>
<path d="M254.4 169.6Q250.6 197.7 238 226" stroke="#a9c431" stroke-width="0.8" stroke-opacity="0.42"/>
<path d="M233.8 58Q258.4 82.6 274.3 110.6" stroke="#3cb662" stroke-width="1.0" stroke-opacity="0.5"/>
<path d="M274.3 110.6Q290.2 138.6 297.4 170" stroke="#3ebb90" stroke-width="1.0" stroke-opacity="0.5"/>
<path d="M297.4 170Q304.6 201.3 303.1 236.1" stroke="#3ec0bf" stroke-width="1.0" stroke-opacity="0.5"/>
<path d="M233.8 58Q261.9 83.8 279.1 113.7" stroke="#3cb662" stroke-width="1.0" stroke-opacity="0.5"/>
<path d="M279.1 113.7Q296.2 143.5 302.5 177.4" stroke="#3ebb90" stroke-width="1.0" stroke-opacity="0.5"/>
<path d="M302.5 177.4Q308.8 211.2 304.1 249.1" stroke="#3ec0bf" stroke-width="1.0" stroke-opacity="0.5"/>
<path d="M197 67.3Q201.4 70.6 205.8 71.8" stroke="#3cb44b" stroke-opacity="0.42"/>
<path d="M205.8 71.8Q210.2 73 214.7 72.1" stroke="#3cb44b" stroke-opacity="0.42"/>
<path d="M214.7 72.1Q219.2 71.2 223.8 68.3" stroke="#3cb44b" stroke-opacity="0.42"/>
<path d="M197 67.3Q215 85.7 225.8 106.5" stroke="#3cb44b" stroke-width="0.8" stroke-opacity="0.42"/>
<path d="M225.8 106.5Q236.7 127.2 240.4 150.4" stroke="#3cb44b" stroke-width="0.8" stroke-opacity="0.42"/>
<path d="M240.4 150.4Q244.2 173.5 240.8 199" stroke="#3cb44b" stroke-width="0.8" stroke-opacity="0.42"/>
<path d="M197 67.3Q217.9 85.1 231.1 106.2" stroke="#3cb44b" stroke-width="0.8" stroke-opacity="0.42"/>
<path d="M231.1 106.2Q244.2 127.2 249.6 151.4" stroke="#3cb44b" stroke-width="0.8" stroke-opacity="0.42"/>
<path d="M249.6 151.4Q254.9 175.6 252.5 203" stroke="#3cb44b" stroke-width="0.8" stroke-opacity="0.42"/>
<path d="M197 67.3Q191 97.1 193.6 124.6" stroke="#52b746" stroke-width="0.8" stroke-opacity="0.42"/>
<path d="M193.6 124.6Q196.2 152.2 207.3 177.5" stroke="#7ebe3c" stroke-width="0.8" stroke-opacity="0.42"/>
<path d="M207.3 177.5Q218.4 202.9 238 226" stroke="#a9c431" stroke-width="0.8" stroke-opacity="0.42"/>
<path d="M197 67.3Q229.1 89.2 251.7 116.7" stroke="#3cb662" stroke-width="1.0" stroke-opacity="0.5"/>
<path d="M251.7 116.7Q274.3 144.2 287.4 177.3" stroke="#3ebb90" stroke-width="1.0" stroke-opacity="0.5"/>
<path d="M287.4 177.3Q300.5 210.4 304.1 249.1" stroke="#3ec0bf" stroke-width="1.0" stroke-opacity="0.5"/>
<path d="M223.8 68.3Q215.3 91.6 214.4 113.8" stroke="#3cb44b" stroke-width="0.8" stroke-opacity="0.42"/>
<path d="M214.4 113.8Q213.5 136.1 220.1 157.4" stroke="#3cb44b" stroke-width="0.8" stroke-opacity="0.42"/>
<path d="M220.1 157.4Q226.7 178.7 240.8 199" stroke="#3cb44b" stroke-width="0.8" stroke-opacity="0.42"/>
<path d="M223.8 68.3Q240.1 88.3 248.7 109.9" stroke="#3cb44b" stroke-width="0.8" stroke-opacity="0.42"/>
<path d="M248.7 109.9Q257.3 131.6 258.3 154.8" stroke="#3cb44b" stroke-width="0.8" stroke-opacity="0.42"/>
<path d="M258.3 154.8Q259.2 178.1 252.5 203" stroke="#3cb44b" stroke-width="0.8" stroke-opacity="0.42"/>
<path d="M223.8 68.3Q229.6 92.1 227.9 114" stroke="#52b746" stroke-opacity="0.42"/>
<path d="M227.9 114Q226.3 135.9 217.3 155.9" stroke="#7ebe3c" stroke-opacity="0.42"/>
<path d="M217.3 155.9Q208.2 176 191.8 194.1" stroke="#a9c431" stroke-opacity="0.42"/>
<path d="M223.8 68.3Q214 95.7 212.4 122.3" stroke="#52b746" stroke-width="0.8" stroke-opacity="0.42"/>
<path d="M212.4 122.3Q210.7 149 217.1 174.9" stroke="#7ebe3c" stroke-width="0.8" stroke-opacity="0.42"/>
<path d="M217.1 174.9Q223.5 200.8 238 226" stroke="#a9c431" stroke-width="0.8" stroke-opacity="0.42"/>
<path d="M210.1 73.7Q205.9 96.9 207.9 118.5" stroke="#3cb44b" stroke-width="0.8" stroke-opacity="0.42"/>
<path d="M207.9 118.5Q210 140.1 218.2 160.3" stroke="#3cb44b" stroke-width="0.8" stroke-opacity="0.42"/>
<path d="M218.2 160.3Q226.4 180.4 240.8 199" stroke="#3cb44b" stroke-width="0.8" stroke-opacity="0.42"/>
<path d="M210.1 73.7Q228.2 91.6 238.9 112" stroke="#3cb44b" stroke-width="0.8" stroke-opacity="0.42"/>
<path d="M238.9 112Q249.6 132.3 253 155.1" stroke="#3cb44b" stroke-width="0.8" stroke-opacity="0.42"/>
<path d="M253 155.1Q256.4 177.8 252.5 203" stroke="#3cb44b" stroke-width="0.8" stroke-opacity="0.42"/>
<path d="M210.1 73.7Q190.5 89.3 177.7 108" stroke="#52b746" stroke-width="0.8" stroke-opacity="0.42"/>
<path d="M177.7 108Q164.9 126.8 159 148.7" stroke="#7ebe3c" stroke-width="0.8" stroke-opacity="0.42"/>
<path d="M159 148.7Q153 170.6 153.9 195.6" stroke="#a9c431" stroke-width="0.8" stroke-opacity="0.42"/>
<path d="M210.1 73.7Q189 93.4 176.8 116.1" stroke="#52b746" stroke-width="0.8" stroke-opacity="0.42"/>
<path d="M176.8 116.1Q164.5 138.7 161.2 164.2" stroke="#7ebe3c" stroke-width="0.8" stroke-opacity="0.42"/>
<path d="M161.2 164.2Q157.9 189.6 163.4 218" stroke="#a9c431" stroke-width="0.8" stroke-opacity="0.42"/>
<path d="M210.1 73.7Q203.3 101.2 204.1 127.3" stroke="#52b746" stroke-width="0.8" stroke-opacity="0.42"/>
<path d="M204.1 127.3Q204.9 153.4 213.4 178" stroke="#7ebe3c" stroke-width="0.8" stroke-opacity="0.42"/>
<path d="M213.4 178Q221.9 202.7 238 226" stroke="#a9c431" stroke-width="0.8" stroke-opacity="0.42"/>
<path d="M210.1 73.7Q241.8 94.3 262.8 120.7" stroke="#3cb662" stroke-width="1.0" stroke-opacity="0.5"/>
<path d="M262.8 120.7Q283.9 147.1 294.2 179.2" stroke="#3ebb90" stroke-width="1.0" stroke-opacity="0.5"/>
<path d="M294.2 179.2Q304.5 211.3 304.1 249.1" stroke="#3ec0bf" stroke-width="1.0" stroke-opacity="0.5"/>
<path d="M240.8 199Q243.2 198.4 245.3 198.7" stroke="#3cb44b" stroke-width="1.3" stroke-opacity="0.5"/>
<path d="M245.3 198.7Q247.4 198.9 249.2 200" stroke="#3cb44b" stroke-width="1.3" stroke-opacity="0.5"/>
<path d="M249.2 200Q251 201.1 252.5 203" stroke="#3cb44b" stroke-width="1.3" stroke-opacity="0.5"/>
<path d="M240.8 199Q226.7 188.9 212.3 185.2" stroke="#52b746" stroke-width="1.3" stroke-opacity="0.5"/>
<path d="M212.3 185.2Q198 181.4 183.4 184" stroke="#7ebe3c" stroke-width="1.3" stroke-opacity="0.5"/>
<path d="M183.4 184Q168.8 186.6 153.9 195.6" stroke="#a9c431" stroke-width="1.3" stroke-opacity="0.5"/>
<path d="M240.8 199Q218.2 216.1 195 222.6" stroke="#52b746" stroke-width="0.8" stroke-opacity="0.38"/>
<path d="M195 222.6Q171.9 229.1 148.2 224.9" stroke="#7ebe3c" stroke-width="0.8" stroke-opacity="0.38"/>
<path d="M148.2 224.9Q124.5 220.8 100.3 206" stroke="#a9c431" stroke-width="0.8" stroke-opacity="0.38"/>
<path d="M240.8 199Q225.7 193.4 212.1 193.6" stroke="#52b746" stroke-width="1.3" stroke-opacity="0.5"/>
<path d="M212.1 193.6Q198.5 193.9 186.3 200" stroke="#7ebe3c" stroke-width="1.3" stroke-opacity="0.5"/>
<path d="M186.3 200Q174.1 206.1 163.4 218" stroke="#a9c431" stroke-width="1.3" stroke-opacity="0.5"/>
<path d="M240.8 199Q235.3 191.8 228.7 187.7" stroke="#52b746" stroke-width="0.8" stroke-opacity="0.38"/>
<path d="M228.7 187.7Q222.1 183.6 214.3 182.5" stroke="#7ebe3c" stroke-width="0.8" stroke-opacity="0.38"/>
<path d="M214.3 182.5Q206.6 181.4 197.8 183.4" stroke="#a9c431" stroke-width="0.8" stroke-opacity="0.38"/>
<path d="M240.8 199Q233.2 192.7 225.2 190.1" stroke="#52b746" stroke-width="0.8" stroke-opacity="0.38"/>
<path d="M225.2 190.1Q217.2 187.4 208.9 188.4" stroke="#7ebe3c" stroke-width="0.8" stroke-opacity="0.38"/>
<path d="M208.9 188.4Q200.5 189.5 191.8 194.1" stroke="#a9c431" stroke-width="0.8" stroke-opacity="0.38"/>
<path d="M240.8 199Q243.2 203.8 243.6 208.4" stroke="#52b746" stroke-width="1.3" stroke-opacity="0.5"/>
<path d="M243.6 208.4Q244.1 213 242.7 217.4" stroke="#7ebe3c" stroke-width="1.3" stroke-opacity="0.5"/>
<path d="M242.7 217.4Q241.3 221.8 238 226" stroke="#a9c431" stroke-width="1.3" stroke-opacity="0.5"/>
<path d="M240.8 199Q238.5 216.5 231.2 229.5" stroke="#52b746" stroke-width="1.3" stroke-opacity="0.5"/>
<path d="M231.2 229.5Q223.9 242.6 211.6 251" stroke="#7ebe3c" stroke-width="1.3" stroke-opacity="0.5"/>
<path d="M211.6 251Q199.3 259.5 182.1 263.5" stroke="#a9c431" stroke-width="1.3" stroke-opacity="0.5"/>
<path d="M240.8 199Q233.1 206.5 229.1 214.9" stroke="#5aae48" stroke-width="0.8" stroke-opacity="0.38"/>
<path d="M229.1 214.9Q225.1 223.2 224.8 232.5" stroke="#96a342" stroke-width="0.8" stroke-opacity="0.38"/>
<path d="M224.8 232.5Q224.4 241.8 227.8 252" stroke="#d2983d" stroke-width="0.8" stroke-opacity="0.38"/>
<path d="M240.8 199Q229.9 205.5 223.3 214.1" stroke="#5aae48" stroke-width="0.8" stroke-opacity="0.38"/>
<path d="M223.3 214.1Q216.6 222.6 214.2 233.2" stroke="#96a342" stroke-width="0.8" stroke-opacity="0.38"/>
<path d="M214.2 233.2Q211.8 243.7 213.6 256.3" stroke="#d2983d" stroke-width="0.8" stroke-opacity="0.38"/>
<path d="M240.8 199Q247.1 212 256.1 220.5" stroke="#3cb662" stroke-width="1.3" stroke-opacity="0.5"/>
<path d="M256.1 220.5Q265.1 229 276.9 232.9" stroke="#3ebb90" stroke-width="1.3" stroke-opacity="0.5"/>
<path d="M276.9 232.9Q288.6 236.8 303.1 236.1" stroke="#3ec0bf" stroke-width="1.3" stroke-opacity="0.5"/>
<path d="M240.8 199Q245.7 214.5 254.4 225.2" stroke="#3cb662" stroke-width="1.3" stroke-opacity="0.5"/>
<path d="M254.4 225.2Q263 235.9 275.5 241.9" stroke="#3ebb90" stroke-width="1.3" stroke-opacity="0.5"/>
<path d="M275.5 241.9Q287.9 247.9 304.1 249.1" stroke="#3ec0bf" stroke-width="1.3" stroke-opacity="0.5"/>
<path d="M240.8 199Q273.7 215.6 294.8 239" stroke="#3cb662" stroke-width="0.8" stroke-opacity="0.38"/>
<path d="M294.8 239Q316 262.3 325.5 292.4" stroke="#3ebb90" stroke-width="0.8" stroke-opacity="0.38"/>
<path d="M325.5 292.4Q335 322.4 332.8 359.2" stroke="#3ec0bf" stroke-width="0.8" stroke-opacity="0.38"/>
<path d="M240.8 199Q235.6 217.7 237.2 234.2" stroke="#3eae62" stroke-width="1.3" stroke-opacity="0.5"/>
<path d="M237.2 234.2Q238.8 250.6 247.2 264.9" stroke="#44a292" stroke-width="1.3" stroke-opacity="0.5"/>
<path d="M247.2 264.9Q255.6 279.2 270.8 291.2" stroke="#4895c0" stroke-width="1.3" stroke-opacity="0.5"/>
<path d="M240.8 199Q227.5 215.5 221.6 233" stroke="#3eae62" stroke-width="1.3" stroke-opacity="0.5"/>
<path d="M221.6 233Q215.6 250.4 217.2 268.8" stroke="#44a292" stroke-width="1.3" stroke-opacity="0.5"/>
<path d="M217.2 268.8Q218.7 287.1 227.6 306.4" stroke="#4895c0" stroke-width="1.3" stroke-opacity="0.5"/>
<path d="M240.8 199Q255.5 222 260.5 245" stroke="#3eae62" stroke-width="0.8" stroke-opacity="0.38"/>
<path d="M260.5 245Q265.4 268 260.6 291" stroke="#44a292" stroke-width="0.8" stroke-opacity="0.38"/>
<path d="M260.6 291Q255.8 314 241.2 337.1" stroke="#4895c0" stroke-width="0.8" stroke-opacity="0.38"/>
<path d="M240.8 199Q226.1 225.2 222.5 250.5" stroke="#3eae62" stroke-width="0.8" stroke-opacity="0.38"/>
<path d="M222.5 250.5Q219 275.8 226.6 300.2" stroke="#44a292" stroke-width="0.8" stroke-opacity="0.38"/>
<path d="M226.6 300.2Q234.2 324.6 253 348.1" stroke="#4895c0" stroke-width="0.8" stroke-opacity="0.38"/>
<path d="M240.8 199Q218.1 225.4 208.2 253.3" stroke="#3eae62" stroke-width="0.8" stroke-opacity="0.38"/>
<path d="M208.2 253.3Q198.3 281.3 201.3 310.8" stroke="#44a292" stroke-width="0.8" stroke-opacity="0.38"/>
<path d="M201.3 310.8Q204.2 340.3 219.9 371.3" stroke="#4895c0" stroke-width="0.8" stroke-opacity="0.38"/>
<path d="M240.8 199Q222.1 229.9 216.7 260.3" stroke="#3eae62" stroke-width="0.8" stroke-opacity="0.38"/>
<path d="M216.7 260.3Q211.3 290.7 219.2 320.5" stroke="#44a292" stroke-width="0.8" stroke-opacity="0.38"/>
<path d="M219.2 320.5Q227.1 350.3 248.3 379.6" stroke="#4895c0" stroke-width="0.8" stroke-opacity="0.38"/>
<path d="M240.8 199Q260 230.8 265.5 261.9" stroke="#3eae62" stroke-width="0.8" stroke-opacity="0.38"/>
<path d="M265.5 261.9Q270.9 293 262.5 323.4" stroke="#44a292" stroke-width="0.8" stroke-opacity="0.38"/>
<path d="M262.5 323.4Q254 353.8 231.8 383.6" stroke="#4895c0" stroke-width="0.8" stroke-opacity="0.38"/>
<path d="M240.8 199Q211.3 216.9 193.5 240.1" stroke="#4ca862" stroke-width="0.8" stroke-opacity="0.38"/>
<path d="M193.5 240.1Q175.8 263.3 169.7 292" stroke="#6c9090" stroke-width="0.8" stroke-opacity="0.38"/>
<path d="M169.7 292Q163.7 320.6 169.4 354.6" stroke="#8c78bd" stroke-width="0.8" stroke-opacity="0.38"/>
<path d="M240.8 199Q211.3 219.9 193.7 245.7" stroke="#4ca862" stroke-width="0.8" stroke-opacity="0.38"/>
<path d="M193.7 245.7Q176 271.5 170.2 302.2" stroke="#6c9090" stroke-width="0.8" stroke-opacity="0.38"/>
<path d="M170.2 302.2Q164.3 332.9 170.3 368.5" stroke="#8c78bd" stroke-width="0.8" stroke-opacity="0.38"/>
<path d="M240.8 199Q265.2 195.8 285.5 200.7" stroke="#51a94f" stroke-width="0.8" stroke-opacity="0.38"/>
<path d="M285.5 200.7Q305.9 205.7 322.3 218.8" stroke="#7a9456" stroke-width="0.8" stroke-opacity="0.38"/>
<path d="M322.3 218.8Q338.6 231.9 351 253.1" stroke="#a37f5e" stroke-width="0.8" stroke-opacity="0.38"/>
<path d="M252.5 203Q235.3 212.4 218.6 214.6" stroke="#52b746" stroke-width="1.3" stroke-opacity="0.5"/>
<path d="M218.6 214.6Q201.9 216.9 185.7 212.2" stroke="#7ebe3c" stroke-width="1.3" stroke-opacity="0.5"/>
<path d="M185.7 212.2Q169.5 207.4 153.9 195.6" stroke="#a9c431" stroke-width="1.3" stroke-opacity="0.5"/>
<path d="M252.5 203Q229.5 220.7 205.5 228" stroke="#52b746" stroke-width="0.8" stroke-opacity="0.38"/>
<path d="M205.5 228Q181.5 235.4 156.6 232.5" stroke="#7ebe3c" stroke-width="0.8" stroke-opacity="0.38"/>
<path d="M156.6 232.5Q131.7 229.5 105.8 216.3" stroke="#a9c431" stroke-width="0.8" stroke-opacity="0.38"/>
<path d="M252.5 203Q239.4 215.6 225.1 221.5" stroke="#52b746" stroke-width="1.3" stroke-opacity="0.5"/>
<path d="M225.1 221.5Q210.8 227.4 195.4 226.5" stroke="#7ebe3c" stroke-width="1.3" stroke-opacity="0.5"/>
<path d="M195.4 226.5Q180 225.6 163.4 218" stroke="#a9c431" stroke-width="1.3" stroke-opacity="0.5"/>
<path d="M252.5 203Q245.4 194 237 188.9" stroke="#52b746" stroke-width="0.8" stroke-opacity="0.38"/>
<path d="M237 188.9Q228.6 183.7 218.8 182.3" stroke="#7ebe3c" stroke-width="0.8" stroke-opacity="0.38"/>
<path d="M218.8 182.3Q209 181 197.8 183.4" stroke="#a9c431" stroke-width="0.8" stroke-opacity="0.38"/>
<path d="M252.5 203Q243.3 195.2 233.5 191.5" stroke="#52b746" stroke-width="0.8" stroke-opacity="0.38"/>
<path d="M233.5 191.5Q223.7 187.9 213.3 188.6" stroke="#7ebe3c" stroke-width="0.8" stroke-opacity="0.38"/>
<path d="M213.3 188.6Q202.8 189.2 191.8 194.1" stroke="#a9c431" stroke-width="0.8" stroke-opacity="0.38"/>
<path d="M252.5 203Q247.5 205.2 244.3 208.5" stroke="#52b746" stroke-width="1.3" stroke-opacity="0.5"/>
<path d="M244.3 208.5Q241 211.8 239.5 216.2" stroke="#7ebe3c" stroke-width="1.3" stroke-opacity="0.5"/>
<path d="M239.5 216.2Q237.9 220.6 238 226" stroke="#a9c431" stroke-width="1.3" stroke-opacity="0.5"/>
<path d="M252.5 203Q247.8 221.3 238.4 234.1" stroke="#52b746" stroke-width="1.3" stroke-opacity="0.5"/>
<path d="M238.4 234.1Q229 246.9 215 254.3" stroke="#7ebe3c" stroke-width="1.3" stroke-opacity="0.5"/>
<path d="M215 254.3Q200.9 261.6 182.1 263.5" stroke="#a9c431" stroke-width="1.3" stroke-opacity="0.5"/>
<path d="M252.5 203Q242 205.3 234.5 210.4" stroke="#5aae48" stroke-width="0.8" stroke-opacity="0.38"/>
<path d="M234.5 210.4Q227 215.5 222.5 223.3" stroke="#96a342" stroke-width="0.8" stroke-opacity="0.38"/>
<path d="M222.5 223.3Q218 231.2 216.5 241.8" stroke="#d2983d" stroke-width="0.8" stroke-opacity="0.38"/>
<path d="M252.5 203Q242.7 208.3 236.7 215.5" stroke="#5aae48" stroke-width="0.8" stroke-opacity="0.38"/>
<path d="M236.7 215.5Q230.7 222.7 228.5 231.9" stroke="#96a342" stroke-width="0.8" stroke-opacity="0.38"/>
<path d="M228.5 231.9Q226.3 241 227.8 252" stroke="#d2983d" stroke-width="0.8" stroke-opacity="0.38"/>
<path d="M252.5 203Q240 207.5 231.5 214.9" stroke="#5aae48" stroke-width="0.8" stroke-opacity="0.38"/>
<path d="M231.5 214.9Q223 222.3 218.5 232.7" stroke="#96a342" stroke-width="0.8" stroke-opacity="0.38"/>
<path d="M218.5 232.7Q214.1 243 213.6 256.3" stroke="#d2983d" stroke-width="0.8" stroke-opacity="0.38"/>
<path d="M252.5 203Q257.2 214.2 264.4 221.6" stroke="#3cb662" stroke-width="1.3" stroke-opacity="0.5"/>
<path d="M264.4 221.6Q271.6 229 281.3 232.6" stroke="#3ebb90" stroke-width="1.3" stroke-opacity="0.5"/>
<path d="M281.3 232.6Q291 236.3 303.1 236.1" stroke="#3ec0bf" stroke-width="1.3" stroke-opacity="0.5"/>
<path d="M252.5 203Q255.8 216.6 262.7 226.3" stroke="#3cb662" stroke-width="1.3" stroke-opacity="0.5"/>
<path d="M262.7 226.3Q269.5 235.9 279.9 241.6" stroke="#3ebb90" stroke-width="1.3" stroke-opacity="0.5"/>
<path d="M279.9 241.6Q290.2 247.3 304.1 249.1" stroke="#3ec0bf" stroke-width="1.3" stroke-opacity="0.5"/>
<path d="M252.5 203Q276.4 225.7 288.2 251.1" stroke="#3cb662" stroke-width="1.3" stroke-opacity="0.5"/>
<path d="M288.2 251.1Q300 276.4 299.7 304.4" stroke="#3ebb90" stroke-width="1.3" stroke-opacity="0.5"/>
<path d="M299.7 304.4Q299.3 332.3 286.8 362.9" stroke="#3ec0bf" stroke-width="1.3" stroke-opacity="0.5"/>
<path d="M252.5 203Q249.4 239.6 257.8 270.1" stroke="#3cb662" stroke-width="0.8" stroke-opacity="0.38"/>
<path d="M257.8 270.1Q266.3 300.6 286.4 325.1" stroke="#3ebb90" stroke-width="0.8" stroke-opacity="0.38"/>
<path d="M286.4 325.1Q306.6 349.6 338.3 368" stroke="#3ec0bf" stroke-width="0.8" stroke-opacity="0.38"/>
<path d="M252.5 203Q265.2 215.7 271.4 229.7" stroke="#3eae62" stroke-width="1.3" stroke-opacity="0.5"/>
<path d="M271.4 229.7Q277.7 243.8 277.5 259.1" stroke="#44a292" stroke-width="1.3" stroke-opacity="0.5"/>
<path d="M277.5 259.1Q277.4 274.5 270.8 291.2" stroke="#4895c0" stroke-width="1.3" stroke-opacity="0.5"/>
<path d="M252.5 203Q237.3 217.6 229.5 233.9" stroke="#3eae62" stroke-width="1.3" stroke-opacity="0.5"/>
<path d="M229.5 233.9Q221.7 250.3 221.2 268.4" stroke="#44a292" stroke-width="1.3" stroke-opacity="0.5"/>
<path d="M221.2 268.4Q220.7 286.5 227.6 306.4" stroke="#4895c0" stroke-width="1.3" stroke-opacity="0.5"/>
<path d="M252.5 203Q271.4 216.7 282 233.3" stroke="#3eae62" stroke-width="1.3" stroke-opacity="0.5"/>
<path d="M282 233.3Q292.7 249.9 295 269.5" stroke="#44a292" stroke-width="1.3" stroke-opacity="0.5"/>
<path d="M295 269.5Q297.3 289.1 291.3 311.7" stroke="#4895c0" stroke-width="1.3" stroke-opacity="0.5"/>
<path d="M252.5 203Q233.1 223 223.6 245" stroke="#3eae62" stroke-width="0.8" stroke-opacity="0.38"/>
<path d="M223.6 245Q214 266.9 214.4 290.9" stroke="#44a292" stroke-width="0.8" stroke-opacity="0.38"/>
<path d="M214.4 290.9Q214.8 314.8 225 340.7" stroke="#4895c0" stroke-width="0.8" stroke-opacity="0.38"/>
<path d="M252.5 203Q236.5 224.2 229.9 246.1" stroke="#3eae62" stroke-width="0.8" stroke-opacity="0.38"/>
<path d="M229.9 246.1Q223.3 268.1 226.1 290.8" stroke="#44a292" stroke-width="0.8" stroke-opacity="0.38"/>
<path d="M226.1 290.8Q228.9 313.6 241.2 337.1" stroke="#4895c0" stroke-width="0.8" stroke-opacity="0.38"/>
<path d="M252.5 203Q235.7 227.2 230.1 251.4" stroke="#3eae62" stroke-width="0.8" stroke-opacity="0.38"/>
<path d="M230.1 251.4Q224.6 275.6 230.3 299.8" stroke="#44a292" stroke-width="0.8" stroke-opacity="0.38"/>
<path d="M230.3 299.8Q236 324 253 348.1" stroke="#4895c0" stroke-width="0.8" stroke-opacity="0.38"/>
<path d="M252.5 203Q266.8 230 269.6 255.6" stroke="#3eae62" stroke-width="0.8" stroke-opacity="0.38"/>
<path d="M269.6 255.6Q272.5 281.3 264 305.7" stroke="#44a292" stroke-width="0.8" stroke-opacity="0.38"/>
<path d="M264 305.7Q255.6 330.2 235.7 353.3" stroke="#4895c0" stroke-width="0.8" stroke-opacity="0.38"/>
<path d="M252.5 203Q265.1 234.5 265.6 263.8" stroke="#3eae62" stroke-width="0.8" stroke-opacity="0.38"/>
<path d="M265.6 263.8Q266.2 293 254.8 319.9" stroke="#44a292" stroke-width="0.8" stroke-opacity="0.38"/>
<path d="M254.8 319.9Q243.3 346.7 219.9 371.3" stroke="#4895c0" stroke-width="0.8" stroke-opacity="0.38"/>
<path d="M252.5 203Q232.8 228.8 224.4 255.7" stroke="#3eae62" stroke-width="0.8" stroke-opacity="0.38"/>
<path d="M224.4 255.7Q216.1 282.6 219.1 310.7" stroke="#44a292" stroke-width="0.8" stroke-opacity="0.38"/>
<path d="M219.1 310.7Q222.1 338.7 236.5 367.8" stroke="#4895c0" stroke-width="0.8" stroke-opacity="0.38"/>
<path d="M252.5 203Q211.7 214.2 182.4 235.6" stroke="#4ca862" stroke-width="0.8" stroke-opacity="0.38"/>
<path d="M182.4 235.6Q153 257 135.1 288.6" stroke="#6c9090" stroke-width="0.8" stroke-opacity="0.38"/>
<path d="M135.1 288.6Q117.2 320.2 110.7 362" stroke="#8c78bd" stroke-width="0.8" stroke-opacity="0.38"/>
<path d="M252.5 203Q257.9 240.1 250.6 270.8" stroke="#4ca862" stroke-width="0.8" stroke-opacity="0.38"/>
<path d="M250.6 270.8Q243.3 301.6 223.2 326" stroke="#6c9090" stroke-width="0.8" stroke-opacity="0.38"/>
<path d="M223.2 326Q203.1 350.4 170.3 368.5" stroke="#8c78bd" stroke-width="0.8" stroke-opacity="0.38"/>
<path d="M252.5 203Q274.7 200.1 293 204.7" stroke="#51a94f" stroke-width="0.8" stroke-opacity="0.38"/>
<path d="M293 204.7Q311.3 209.3 325.8 221.4" stroke="#7a9456" stroke-width="0.8" stroke-opacity="0.38"/>
<path d="M325.8 221.4Q340.3 233.5 351 253.1" stroke="#a37f5e" stroke-width="0.8" stroke-opacity="0.38"/>
<path d="M252.5 203Q277 199.4 297.4 204.2" stroke="#51a94f" stroke-width="0.8" stroke-opacity="0.38"/>
<path d="M297.4 204.2Q317.8 209 334.1 222.2" stroke="#7a9456" stroke-width="0.8" stroke-opacity="0.38"/>
<path d="M334.1 222.2Q350.4 235.4 362.5 257" stroke="#a37f5e" stroke-width="0.8" stroke-opacity="0.38"/>
<path d="M153.9 195.6Q145.6 200.5 137.3 202" stroke="#bfc72c" stroke-width="0.8" stroke-opacity="0.42"/>
<path d="M137.3 202Q129 203.5 120.9 201.6" stroke="#bfc72c" stroke-width="0.8" stroke-opacity="0.42"/>
<path d="M120.9 201.6Q112.7 199.7 104.6 194.4" stroke="#bfc72c" stroke-width="0.8" stroke-opacity="0.42"/>
<path d="M153.9 195.6Q147.7 190.7 141.4 188.8" stroke="#bfc72c" stroke-width="0.8" stroke-opacity="0.42"/>
<path d="M141.4 188.8Q135 186.9 128.5 187.9" stroke="#bfc72c" stroke-width="0.8" stroke-opacity="0.42"/>
<path d="M128.5 187.9Q121.9 189 115.2 193" stroke="#bfc72c" stroke-width="0.8" stroke-opacity="0.42"/>
<path d="M153.9 195.6Q143.8 191.4 134.5 191.2" stroke="#bfc72c" stroke-width="0.8" stroke-opacity="0.42"/>
<path d="M134.5 191.2Q125.2 190.9 116.6 194.6" stroke="#bfc72c" stroke-width="0.8" stroke-opacity="0.42"/>
<path d="M116.6 194.6Q108.1 198.3 100.3 206" stroke="#bfc72c" stroke-width="0.8" stroke-opacity="0.42"/>
<path d="M153.9 195.6Q147.1 193.4 140.9 193.7" stroke="#bfc72c" stroke-width="0.8" stroke-opacity="0.42"/>
<path d="M140.9 193.7Q134.7 194 129.2 196.7" stroke="#bfc72c" stroke-width="0.8" stroke-opacity="0.42"/>
<path d="M129.2 196.7Q123.6 199.4 118.7 204.6" stroke="#bfc72c" stroke-width="0.8" stroke-opacity="0.42"/>
<path d="M153.9 195.6Q148.1 204.3 140.9 209.5" stroke="#bfc72c" stroke-width="0.8" stroke-opacity="0.42"/>
<path d="M140.9 209.5Q133.6 214.7 124.8 216.4" stroke="#bfc72c" stroke-width="0.8" stroke-opacity="0.42"/>
<path d="M124.8 216.4Q116.1 218.1 105.8 216.3" stroke="#bfc72c" stroke-width="0.8" stroke-opacity="0.42"/>
<path d="M153.9 195.6Q157.9 198.3 160.3 201.7" stroke="#bfc72c" stroke-width="1.3" stroke-opacity="0.5"/>
<path d="M160.3 201.7Q162.7 205.1 163.5 209.2" stroke="#bfc72c" stroke-width="1.3" stroke-opacity="0.5"/>
<path d="M163.5 209.2Q164.2 213.2 163.4 218" stroke="#bfc72c" stroke-width="1.3" stroke-opacity="0.5"/>
<path d="M153.9 195.6Q162.6 198.7 170.4 198.3" stroke="#bfc72c" stroke-width="0.8" stroke-opacity="0.42"/>
<path d="M170.4 198.3Q178.2 198 185.1 194.3" stroke="#bfc72c" stroke-width="0.8" stroke-opacity="0.42"/>
<path d="M185.1 194.3Q191.9 190.5 197.8 183.4" stroke="#bfc72c" stroke-width="0.8" stroke-opacity="0.42"/>
<path d="M153.9 195.6Q160.4 199.4 166.7 200.5" stroke="#bfc72c" stroke-width="0.8" stroke-opacity="0.42"/>
<path d="M166.7 200.5Q173.1 201.6 179.4 200" stroke="#bfc72c" stroke-width="0.8" stroke-opacity="0.42"/>
<path d="M179.4 200Q185.6 198.4 191.8 194.1" stroke="#bfc72c" stroke-width="0.8" stroke-opacity="0.42"/>
<path d="M153.9 195.6Q164.5 210.1 177.4 218.3" stroke="#bfc72c" stroke-width="1.3" stroke-opacity="0.5"/>
<path d="M177.4 218.3Q190.3 226.5 205.4 228.4" stroke="#bfc72c" stroke-width="1.3" stroke-opacity="0.5"/>
<path d="M205.4 228.4Q220.6 230.4 238 226" stroke="#bfc72c" stroke-width="1.3" stroke-opacity="0.5"/>
<path d="M153.9 195.6Q150.7 210.2 152.8 222.6" stroke="#bfc72c" stroke-width="1.3" stroke-opacity="0.5"/>
<path d="M152.8 222.6Q154.9 235 162.2 245.2" stroke="#bfc72c" stroke-width="1.3" stroke-opacity="0.5"/>
<path d="M162.2 245.2Q169.5 255.5 182.1 263.5" stroke="#bfc72c" stroke-width="1.3" stroke-opacity="0.5"/>
<path d="M153.9 195.6Q183.5 185.1 209.9 186.1" stroke="#aac648" stroke-width="1.3" stroke-opacity="0.5"/>
<path d="M209.9 186.1Q236.3 187.1 259.6 199.6" stroke="#7fc481" stroke-width="1.3" stroke-opacity="0.5"/>
<path d="M259.6 199.6Q282.9 212.1 303.1 236.1" stroke="#54c3ba" stroke-width="1.3" stroke-opacity="0.5"/>
<path d="M153.9 195.6Q172.9 221.3 196 235.9" stroke="#aac648" stroke-width="1.3" stroke-opacity="0.5"/>
<path d="M196 235.9Q219 250.4 246 253.7" stroke="#7fc481" stroke-width="1.3" stroke-opacity="0.5"/>
<path d="M246 253.7Q273.1 257 304.1 249.1" stroke="#54c3ba" stroke-width="1.3" stroke-opacity="0.5"/>
<path d="M153.9 195.6Q158.1 237.7 174.3 270.4" stroke="#aac648" stroke-width="1.3" stroke-opacity="0.5"/>
<path d="M174.3 270.4Q190.5 303 218.6 326.1" stroke="#7fc481" stroke-width="1.3" stroke-opacity="0.5"/>
<path d="M218.6 326.1Q246.7 349.3 286.8 362.9" stroke="#54c3ba" stroke-width="1.3" stroke-opacity="0.5"/>
<path d="M153.9 195.6Q163.7 230.5 182.2 255" stroke="#acbe49" stroke-width="1.3" stroke-opacity="0.5"/>
<path d="M182.2 255Q200.8 279.5 228 293.7" stroke="#85ab82" stroke-width="1.3" stroke-opacity="0.5"/>
<path d="M228 293.7Q255.3 307.9 291.3 311.7" stroke="#5e98bb" stroke-width="1.3" stroke-opacity="0.5"/>
<path d="M153.9 195.6Q182.1 211.8 199.4 233.3" stroke="#acbe49" stroke-width="0.8" stroke-opacity="0.38"/>
<path d="M199.4 233.3Q216.7 254.8 223.1 281.6" stroke="#85ab82" stroke-width="0.8" stroke-opacity="0.38"/>
<path d="M223.1 281.6Q229.5 308.5 225 340.7" stroke="#5e98bb" stroke-width="0.8" stroke-opacity="0.38"/>
<path d="M153.9 195.6Q152.7 228.9 162 255.7" stroke="#acbe49" stroke-width="0.8" stroke-opacity="0.38"/>
<path d="M162 255.7Q171.3 282.6 191.1 302.9" stroke="#85ab82" stroke-width="0.8" stroke-opacity="0.38"/>
<path d="M191.1 302.9Q210.9 323.2 241.2 337.1" stroke="#5e98bb" stroke-width="0.8" stroke-opacity="0.38"/>
<path d="M153.9 195.6Q153.3 232.2 164 261.3" stroke="#acbe49" stroke-width="0.8" stroke-opacity="0.38"/>
<path d="M164 261.3Q174.8 290.4 197.1 312.1" stroke="#85ab82" stroke-width="0.8" stroke-opacity="0.38"/>
<path d="M197.1 312.1Q219.3 333.8 253 348.1" stroke="#5e98bb" stroke-width="0.8" stroke-opacity="0.38"/>
<path d="M153.9 195.6Q184.8 217.4 202.5 244.2" stroke="#acbe49" stroke-width="0.8" stroke-opacity="0.38"/>
<path d="M202.5 244.2Q220.1 271 224.5 302.8" stroke="#85ab82" stroke-width="0.8" stroke-opacity="0.38"/>
<path d="M224.5 302.8Q228.8 334.5 219.9 371.3" stroke="#5e98bb" stroke-width="0.8" stroke-opacity="0.38"/>
<path d="M153.9 195.6Q131 217.6 119.3 242.3" stroke="#b9b848" stroke-width="0.8" stroke-opacity="0.38"/>
<path d="M119.3 242.3Q107.5 266.9 107 294.2" stroke="#ae9a80" stroke-width="0.8" stroke-opacity="0.38"/>
<path d="M107 294.2Q106.5 321.5 117.2 351.4" stroke="#a27bb8" stroke-width="0.8" stroke-opacity="0.38"/>
<path d="M153.9 195.6Q131.3 220.3 120.3 247.1" stroke="#b9b848" stroke-width="0.8" stroke-opacity="0.38"/>
<path d="M120.3 247.1Q109.4 273.9 110.1 302.9" stroke="#ae9a80" stroke-width="0.8" stroke-opacity="0.38"/>
<path d="M110.1 302.9Q110.8 331.8 123.2 362.9" stroke="#a27bb8" stroke-width="0.8" stroke-opacity="0.38"/>
<path d="M153.9 195.6Q127.7 221.4 114.9 249.9" stroke="#b9b848" stroke-width="0.8" stroke-opacity="0.38"/>
<path d="M114.9 249.9Q102.1 278.5 102.7 309.7" stroke="#ae9a80" stroke-width="0.8" stroke-opacity="0.38"/>
<path d="M102.7 309.7Q103.2 341 117.2 375" stroke="#a27bb8" stroke-width="0.8" stroke-opacity="0.38"/>
<path d="M153.9 195.6Q138.7 223.8 135.3 250.9" stroke="#b9b848" stroke-width="0.8" stroke-opacity="0.38"/>
<path d="M135.3 250.9Q131.9 278 140.5 303.9" stroke="#ae9a80" stroke-width="0.8" stroke-opacity="0.38"/>
<path d="M140.5 303.9Q149 329.8 169.4 354.6" stroke="#a27bb8" stroke-width="0.8" stroke-opacity="0.38"/>
<path d="M153.9 195.6Q137.2 226.3 133.4 255.7" stroke="#b9b848" stroke-width="0.8" stroke-opacity="0.38"/>
<path d="M133.4 255.7Q129.7 285.1 138.9 313.3" stroke="#ae9a80" stroke-width="0.8" stroke-opacity="0.38"/>
<path d="M138.9 313.3Q148.1 341.5 170.3 368.5" stroke="#a27bb8" stroke-width="0.8" stroke-opacity="0.38"/>
<path d="M104.6 194.4Q106.2 193.1 107.9 192.5" stroke="#bfc72c" stroke-opacity="0.42"/>
<path d="M107.9 192.5Q109.7 191.9 111.5 192" stroke="#bfc72c" stroke-opacity="0.42"/>
<path d="M111.5 192Q113.3 192.1 115.2 193" stroke="#bfc72c" stroke-opacity="0.42"/>
<path d="M104.6 194.4Q111.8 204.8 120.7 210.9" stroke="#bfc72c" stroke-width="0.8" stroke-opacity="0.42"/>
<path d="M120.7 210.9Q129.7 217 140.3 218.8" stroke="#bfc72c" stroke-width="0.8" stroke-opacity="0.42"/>
<path d="M140.3 218.8Q151 220.6 163.4 218" stroke="#bfc72c" stroke-width="0.8" stroke-opacity="0.42"/>
<path d="M104.6 194.4Q121.3 202.6 137.3 204.2" stroke="#bfc72c" stroke-opacity="0.42"/>
<path d="M137.3 204.2Q153.2 205.7 168.3 200.5" stroke="#bfc72c" stroke-opacity="0.42"/>
<path d="M168.3 200.5Q183.5 195.3 197.8 183.4" stroke="#bfc72c" stroke-opacity="0.42"/>
<path d="M104.6 194.4Q109.9 214.5 120.2 228.9" stroke="#bfc72c" stroke-width="0.8" stroke-opacity="0.42"/>
<path d="M120.2 228.9Q130.6 243.3 146.1 251.9" stroke="#bfc72c" stroke-width="0.8" stroke-opacity="0.42"/>
<path d="M146.1 251.9Q161.5 260.6 182.1 263.5" stroke="#bfc72c" stroke-width="0.8" stroke-opacity="0.42"/>
<path d="M104.6 194.4Q144 181.2 179.3 182.8" stroke="#aac648" stroke-width="0.8" stroke-opacity="0.38"/>
<path d="M179.3 182.8Q214.6 184.5 245.8 201.1" stroke="#7fc481" stroke-width="0.8" stroke-opacity="0.38"/>
<path d="M245.8 201.1Q277 217.6 304.1 249.1" stroke="#54c3ba" stroke-width="0.8" stroke-opacity="0.38"/>
<path d="M115.2 193Q114.2 196.9 112.2 199.6" stroke="#bfc72c" stroke-opacity="0.42"/>
<path d="M112.2 199.6Q110.3 202.4 107.3 204" stroke="#bfc72c" stroke-opacity="0.42"/>
<path d="M107.3 204Q104.3 205.6 100.3 206" stroke="#bfc72c" stroke-opacity="0.42"/>
<path d="M115.2 193Q116.1 197.9 115.4 202.1" stroke="#bfc72c" stroke-opacity="0.42"/>
<path d="M115.4 202.1Q114.6 206.3 112.2 209.9" stroke="#bfc72c" stroke-opacity="0.42"/>
<path d="M112.2 209.9Q109.8 213.4 105.8 216.3" stroke="#bfc72c" stroke-opacity="0.42"/>
<path d="M115.2 193Q120.6 202.3 127.7 208.2" stroke="#bfc72c" stroke-width="0.8" stroke-opacity="0.42"/>
<path d="M127.7 208.2Q134.9 214.1 143.8 216.5" stroke="#bfc72c" stroke-width="0.8" stroke-opacity="0.42"/>
<path d="M143.8 216.5Q152.7 219 163.4 218" stroke="#bfc72c" stroke-width="0.8" stroke-opacity="0.42"/>
<path d="M115.2 193Q128.1 184.9 140.9 182.3" stroke="#bfc72c" stroke-opacity="0.42"/>
<path d="M140.9 182.3Q153.7 179.7 166.4 182.6" stroke="#bfc72c" stroke-opacity="0.42"/>
<path d="M166.4 182.6Q179.2 185.6 191.8 194.1" stroke="#bfc72c" stroke-opacity="0.42"/>
<path d="M115.2 193Q132.1 211.9 151.3 221.9" stroke="#bfc72c" stroke-width="0.8" stroke-opacity="0.42"/>
<path d="M151.3 221.9Q170.6 231.9 192.3 232.9" stroke="#bfc72c" stroke-width="0.8" stroke-opacity="0.42"/>
<path d="M192.3 232.9Q213.9 233.9 238 226" stroke="#bfc72c" stroke-width="0.8" stroke-opacity="0.42"/>
<path d="M115.2 193Q118.3 212.4 126.7 226.7" stroke="#bfc72c" stroke-width="0.8" stroke-opacity="0.42"/>
<path d="M126.7 226.7Q135.2 241.1 149 250.2" stroke="#bfc72c" stroke-width="0.8" stroke-opacity="0.42"/>
<path d="M149 250.2Q162.9 259.4 182.1 263.5" stroke="#bfc72c" stroke-width="0.8" stroke-opacity="0.42"/>
<path d="M115.2 193Q151.2 179.9 184 180.3" stroke="#aac648" stroke-width="0.8" stroke-opacity="0.38"/>
<path d="M184 180.3Q216.9 180.8 246.7 194.7" stroke="#7fc481" stroke-width="0.8" stroke-opacity="0.38"/>
<path d="M246.7 194.7Q276.4 208.6 303.1 236.1" stroke="#54c3ba" stroke-width="0.8" stroke-opacity="0.38"/>
<path d="M115.2 193Q118.7 232.2 133.2 263.1" stroke="#acbe49"/>
<path d="M133.2 263.1Q147.7 294 173.4 316.5" stroke="#85ab82"/>
<path d="M173.4 316.5Q199 339.1 235.7 353.3" stroke="#5e98bb"/>
<path d="M115.2 193Q107.3 225.6 110.7 254.4" stroke="#b9b848"/>
<path d="M110.7 254.4Q114.1 283.3 128.8 308.3" stroke="#ae9a80"/>
<path d="M128.8 308.3Q143.4 333.3 169.4 354.6" stroke="#a27bb8"/>
<path d="M115.2 193Q104.4 228.5 106.9 259.9" stroke="#b9b848"/>
<path d="M106.9 259.9Q109.4 291.2 125.2 318.4" stroke="#ae9a80"/>
<path d="M125.2 318.4Q141.1 345.5 170.3 368.5" stroke="#a27bb8"/>
<path d="M100.3 206Q102.3 207.1 103.6 208.6" stroke="#bfc72c" stroke-opacity="0.42"/>
<path d="M103.6 208.6Q104.9 210.2 105.4 212.1" stroke="#bfc72c" stroke-opacity="0.42"/>
<path d="M105.4 212.1Q106 214 105.8 216.3" stroke="#bfc72c" stroke-opacity="0.42"/>
<path d="M100.3 206Q121 225.1 143.1 233.7" stroke="#bfc72c" stroke-width="0.8" stroke-opacity="0.42"/>
<path d="M143.1 233.7Q165.3 242.3 189 240.4" stroke="#bfc72c" stroke-width="0.8" stroke-opacity="0.42"/>
<path d="M189 240.4Q212.8 238.4 238 226" stroke="#bfc72c" stroke-width="0.8" stroke-opacity="0.42"/>
<path d="M100.3 206Q107.3 225 118.7 237.8" stroke="#bfc72c" stroke-width="0.8" stroke-opacity="0.42"/>
<path d="M118.7 237.8Q130.1 250.5 146 256.9" stroke="#bfc72c" stroke-width="0.8" stroke-opacity="0.42"/>
<path d="M146 256.9Q161.8 263.4 182.1 263.5" stroke="#bfc72c" stroke-width="0.8" stroke-opacity="0.42"/>
<path d="M100.3 206Q130.7 234.1 163.3 246.8" stroke="#aac648" stroke-width="0.8" stroke-opacity="0.38"/>
<path d="M163.3 246.8Q196 259.5 230.9 256.8" stroke="#7fc481" stroke-width="0.8" stroke-opacity="0.38"/>
<path d="M230.9 256.8Q265.9 254.2 303.1 236.1" stroke="#54c3ba" stroke-width="0.8" stroke-opacity="0.38"/>
<path d="M100.3 206Q128.5 223 145.6 245.2" stroke="#b9b848"/>
<path d="M145.6 245.2Q162.6 267.4 168.6 294.7" stroke="#ae9a80"/>
<path d="M168.6 294.7Q174.5 322.1 169.4 354.6" stroke="#a27bb8"/>
<path d="M118.7 204.6Q124.8 211.5 131.7 215.3" stroke="#bfc72c" stroke-width="0.8" stroke-opacity="0.42"/>
<path d="M131.7 215.3Q138.7 219 146.6 219.7" stroke="#bfc72c" stroke-width="0.8" stroke-opacity="0.42"/>
<path d="M146.6 219.7Q154.6 220.4 163.4 218" stroke="#bfc72c" stroke-width="0.8" stroke-opacity="0.42"/>
<path d="M118.7 204.6Q140.8 195.7 161.5 195.1" stroke="#bfc72c" stroke-width="0.8" stroke-opacity="0.42"/>
<path d="M161.5 195.1Q182.1 194.5 201.2 202.2" stroke="#bfc72c" stroke-width="0.8" stroke-opacity="0.42"/>
<path d="M201.2 202.2Q220.4 210 238 226" stroke="#bfc72c" stroke-width="0.8" stroke-opacity="0.42"/>
<path d="M118.7 204.6Q146 229.8 175.6 241.8" stroke="#aac648" stroke-width="0.8" stroke-opacity="0.38"/>
<path d="M175.6 241.8Q205.2 253.7 237.1 252.3" stroke="#7fc481" stroke-width="0.8" stroke-opacity="0.38"/>
<path d="M237.1 252.3Q269 250.8 303.1 236.1" stroke="#54c3ba" stroke-width="0.8" stroke-opacity="0.38"/>
<path d="M105.8 216.3Q124.8 221 141.3 218.9" stroke="#bfc72c" stroke-opacity="0.42"/>
<path d="M141.3 218.9Q157.9 216.9 172 208" stroke="#bfc72c" stroke-opacity="0.42"/>
<path d="M172 208Q186.1 199.1 197.8 183.4" stroke="#bfc72c" stroke-opacity="0.42"/>
<path d="M105.8 216.3Q126.8 231.7 148.5 237.9" stroke="#bfc72c" stroke-width="0.8" stroke-opacity="0.42"/>
<path d="M148.5 237.9Q170.2 244.1 192.6 241.1" stroke="#bfc72c" stroke-width="0.8" stroke-opacity="0.42"/>
<path d="M192.6 241.1Q215 238.2 238 226" stroke="#bfc72c" stroke-width="0.8" stroke-opacity="0.42"/>
<path d="M105.8 216.3Q123.4 216.3 137.7 221.5" stroke="#bfc72c" stroke-width="0.8" stroke-opacity="0.42"/>
<path d="M137.7 221.5Q152.1 226.7 163.2 237.2" stroke="#bfc72c" stroke-width="0.8" stroke-opacity="0.42"/>
<path d="M163.2 237.2Q174.3 247.7 182.1 263.5" stroke="#bfc72c" stroke-width="0.8" stroke-opacity="0.42"/>
<path d="M105.8 216.3Q136.4 242.5 168.5 253.4" stroke="#aac648" stroke-width="0.8" stroke-opacity="0.38"/>
<path d="M168.5 253.4Q200.6 264.3 234.3 260" stroke="#7fc481" stroke-width="0.8" stroke-opacity="0.38"/>
<path d="M234.3 260Q267.9 255.7 303.1 236.1" stroke="#54c3ba" stroke-width="0.8" stroke-opacity="0.38"/>
<path d="M105.8 216.3Q142.4 200.3 176.6 198.6" stroke="#aac648" stroke-width="0.8" stroke-opacity="0.38"/>
<path d="M176.6 198.6Q210.9 196.9 242.7 209.6" stroke="#7fc481" stroke-width="0.8" stroke-opacity="0.38"/>
<path d="M242.7 209.6Q274.6 222.2 304.1 249.1" stroke="#54c3ba" stroke-width="0.8" stroke-opacity="0.38"/>
<path d="M105.8 216.3Q101.9 246 107.6 271.3" stroke="#b9b848"/>
<path d="M107.6 271.3Q113.4 296.6 128.8 317.4" stroke="#ae9a80"/>
<path d="M128.8 317.4Q144.3 338.2 169.4 354.6" stroke="#a27bb8"/>
<path d="M105.8 216.3Q133 234.7 149.3 257.7" stroke="#b9b848"/>
<path d="M149.3 257.7Q165.5 280.8 170.8 308.5" stroke="#ae9a80"/>
<path d="M170.8 308.5Q176 336.1 170.3 368.5" stroke="#a27bb8"/>
<path d="M163.4 218Q170.8 217.1 176.4 214.2" stroke="#bfc72c" stroke-width="0.8" stroke-opacity="0.42"/>
<path d="M176.4 214.2Q182 211.3 185.8 206.2" stroke="#bfc72c" stroke-width="0.8" stroke-opacity="0.42"/>
<path d="M185.8 206.2Q189.7 201.2 191.8 194.1" stroke="#bfc72c" stroke-width="0.8" stroke-opacity="0.42"/>
<path d="M163.4 218Q174.9 227.9 187 232.1" stroke="#bfc72c" stroke-width="1.3" stroke-opacity="0.5"/>
<path d="M187 232.1Q199.2 236.3 211.9 234.8" stroke="#bfc72c" stroke-width="1.3" stroke-opacity="0.5"/>
<path d="M211.9 234.8Q224.6 233.2 238 226" stroke="#bfc72c" stroke-width="1.3" stroke-opacity="0.5"/>
<path d="M163.4 218Q161.6 227.6 163.1 235.8" stroke="#bfc72c" stroke-width="1.3" stroke-opacity="0.5"/>
<path d="M163.1 235.8Q164.6 244.1 169.4 251" stroke="#bfc72c" stroke-width="1.3" stroke-opacity="0.5"/>
<path d="M169.4 251Q174.1 257.9 182.1 263.5" stroke="#bfc72c" stroke-width="1.3" stroke-opacity="0.5"/>
<path d="M163.4 218Q178.1 216.2 190.1 219.4" stroke="#c7be2e" stroke-width="0.8" stroke-opacity="0.38"/>
<path d="M190.1 219.4Q202.2 222.6 211.6 230.7" stroke="#d8ac33" stroke-width="0.8" stroke-opacity="0.38"/>
<path d="M211.6 230.7Q221 238.9 227.8 252" stroke="#e89b38" stroke-width="0.8" stroke-opacity="0.38"/>
<path d="M163.4 218Q167.7 229.7 174.7 237.9" stroke="#c7be2e" stroke-width="0.8" stroke-opacity="0.38"/>
<path d="M174.7 237.9Q181.7 246 191.4 250.6" stroke="#d8ac33" stroke-width="0.8" stroke-opacity="0.38"/>
<path d="M191.4 250.6Q201.2 255.3 213.6 256.3" stroke="#e89b38" stroke-width="0.8" stroke-opacity="0.38"/>
<path d="M163.4 218Q184.6 237.1 207.2 245.5" stroke="#aac648" stroke-width="1.3" stroke-opacity="0.5"/>
<path d="M207.2 245.5Q229.8 253.9 253.8 251.5" stroke="#7fc481" stroke-width="1.3" stroke-opacity="0.5"/>
<path d="M253.8 251.5Q277.7 249.2 303.1 236.1" stroke="#54c3ba" stroke-width="1.3" stroke-opacity="0.5"/>
<path d="M163.4 218Q190.4 207 215.1 206.8" stroke="#aac648" stroke-width="1.3" stroke-opacity="0.5"/>
<path d="M215.1 206.8Q239.7 206.7 262 217.2" stroke="#7fc481" stroke-width="1.3" stroke-opacity="0.5"/>
<path d="M262 217.2Q284.2 227.8 304.1 249.1" stroke="#54c3ba" stroke-width="1.3" stroke-opacity="0.5"/>
<path d="M163.4 218Q167.8 256 182.9 284.7" stroke="#aac648" stroke-width="1.3" stroke-opacity="0.5"/>
<path d="M182.9 284.7Q198.1 313.5 224.1 333" stroke="#7fc481" stroke-width="1.3" stroke-opacity="0.5"/>
<path d="M224.1 333Q250 352.6 286.8 362.9" stroke="#54c3ba" stroke-width="1.3" stroke-opacity="0.5"/>
<path d="M163.4 218Q189.1 218.7 209.6 227.1" stroke="#acbe49" stroke-width="1.3" stroke-opacity="0.5"/>
<path d="M209.6 227.1Q230.1 235.5 245.4 251.5" stroke="#85ab82" stroke-width="1.3" stroke-opacity="0.5"/>
<path d="M245.4 251.5Q260.7 267.5 270.8 291.2" stroke="#5e98bb" stroke-width="1.3" stroke-opacity="0.5"/>
<path d="M163.4 218Q164.9 239.4 172.5 256.4" stroke="#acbe49" stroke-width="1.3" stroke-opacity="0.5"/>
<path d="M172.5 256.4Q180.2 273.3 193.9 285.8" stroke="#85ab82" stroke-width="1.3" stroke-opacity="0.5"/>
<path d="M193.9 285.8Q207.7 298.3 227.6 306.4" stroke="#5e98bb" stroke-width="1.3" stroke-opacity="0.5"/>
<path d="M163.4 218Q195.4 219 220.3 229.7" stroke="#acbe49" stroke-width="1.3" stroke-opacity="0.5"/>
<path d="M220.3 229.7Q245.2 240.4 263 260.9" stroke="#85ab82" stroke-width="1.3" stroke-opacity="0.5"/>
<path d="M263 260.9Q280.7 281.4 291.3 311.7" stroke="#5e98bb" stroke-width="1.3" stroke-opacity="0.5"/>
<path d="M163.4 218Q164.4 249.3 174.7 274.2" stroke="#acbe49" stroke-width="0.8" stroke-opacity="0.38"/>
<path d="M174.7 274.2Q185 299 204.6 317.5" stroke="#85ab82" stroke-width="0.8" stroke-opacity="0.38"/>
<path d="M204.6 317.5Q224.1 336 253 348.1" stroke="#5e98bb" stroke-width="0.8" stroke-opacity="0.38"/>
<path d="M163.4 218Q191.9 235 209.6 257.3" stroke="#acbe49" stroke-width="0.8" stroke-opacity="0.38"/>
<path d="M209.6 257.3Q227.2 279.6 233.9 307.2" stroke="#85ab82" stroke-width="0.8" stroke-opacity="0.38"/>
<path d="M233.9 307.2Q240.7 334.9 236.5 367.8" stroke="#5e98bb" stroke-width="0.8" stroke-opacity="0.38"/>
<path d="M163.4 218Q141.7 235.4 129.4 256" stroke="#b9b848" stroke-width="0.8" stroke-opacity="0.38"/>
<path d="M129.4 256Q117 276.6 114 300.5" stroke="#ae9a80" stroke-width="0.8" stroke-opacity="0.38"/>
<path d="M114 300.5Q110.9 324.3 117.2 351.4" stroke="#a27bb8" stroke-width="0.8" stroke-opacity="0.38"/>
<path d="M163.4 218Q178.7 240.1 184.4 262.7" stroke="#b9b848" stroke-width="0.8" stroke-opacity="0.38"/>
<path d="M184.4 262.7Q190.2 285.3 186.4 308.2" stroke="#ae9a80" stroke-width="0.8" stroke-opacity="0.38"/>
<path d="M186.4 308.2Q182.7 331.2 169.4 354.6" stroke="#a27bb8" stroke-width="0.8" stroke-opacity="0.38"/>
<path d="M163.4 218Q148 243.8 143.7 269.2" stroke="#b9b848" stroke-width="0.8" stroke-opacity="0.38"/>
<path d="M143.7 269.2Q139.3 294.5 146 319.3" stroke="#ae9a80" stroke-width="0.8" stroke-opacity="0.38"/>
<path d="M146 319.3Q152.6 344.2 170.3 368.5" stroke="#a27bb8" stroke-width="0.8" stroke-opacity="0.38"/>
<path d="M163.4 218Q193.1 244.3 224.6 255.6" stroke="#beb935" stroke-width="0.8" stroke-opacity="0.38"/>
<path d="M224.6 255.6Q256.1 266.9 289.4 263.3" stroke="#bc9e47" stroke-width="0.8" stroke-opacity="0.38"/>
<path d="M289.4 263.3Q322.6 259.7 357.7 241.1" stroke="#b98259" stroke-width="0.8" stroke-opacity="0.38"/>
<path d="M197.8 183.4Q198 185.8 197.4 187.8" stroke="#bfc72c" stroke-opacity="0.42"/>
<path d="M197.4 187.8Q196.7 189.8 195.4 191.4" stroke="#bfc72c" stroke-opacity="0.42"/>
<path d="M195.4 191.4Q194 193 191.8 194.1" stroke="#bfc72c" stroke-opacity="0.42"/>
<path d="M197.8 183.4Q200 194.8 205.2 203.3" stroke="#bfc72c" stroke-width="0.8" stroke-opacity="0.42"/>
<path d="M205.2 203.3Q210.4 211.8 218.6 217.5" stroke="#bfc72c" stroke-width="0.8" stroke-opacity="0.42"/>
<path d="M218.6 217.5Q226.8 223.2 238 226" stroke="#bfc72c" stroke-width="0.8" stroke-opacity="0.42"/>
<path d="M197.8 183.4Q203.8 198.4 204.1 212.4" stroke="#bfc72c" stroke-width="0.8" stroke-opacity="0.42"/>
<path d="M204.1 212.4Q204.4 226.3 198.9 239.1" stroke="#bfc72c" stroke-width="0.8" stroke-opacity="0.42"/>
<path d="M198.9 239.1Q193.4 251.8 182.1 263.5" stroke="#bfc72c" stroke-width="0.8" stroke-opacity="0.42"/>
<path d="M197.8 183.4Q210.1 191.6 217.5 202" stroke="#c7be2e"/>
<path d="M217.5 202Q225 212.4 227.5 224.9" stroke="#d8ac33"/>
<path d="M227.5 224.9Q230.1 237.4 227.8 252" stroke="#e89b38"/>
<path d="M197.8 183.4Q222.8 182.6 242.9 189.6" stroke="#aac648" stroke-width="0.8" stroke-opacity="0.38"/>
<path d="M242.9 189.6Q263.1 196.6 278.4 211.5" stroke="#7fc481" stroke-width="0.8" stroke-opacity="0.38"/>
<path d="M278.4 211.5Q293.7 226.4 304.1 249.1" stroke="#54c3ba" stroke-width="0.8" stroke-opacity="0.38"/>
<path d="M197.8 183.4Q182.2 214.2 179.2 243.6" stroke="#acbe49"/>
<path d="M179.2 243.6Q176.2 272.9 185.8 300.8" stroke="#85ab82"/>
<path d="M185.8 300.8Q195.4 328.7 217.6 355.2" stroke="#5e98bb"/>
<path d="M191.8 194.1Q203.1 194.2 212 197.8" stroke="#bfc72c" stroke-width="0.8" stroke-opacity="0.42"/>
<path d="M212 197.8Q220.9 201.3 227.4 208.4" stroke="#bfc72c" stroke-width="0.8" stroke-opacity="0.42"/>
<path d="M227.4 208.4Q233.9 215.5 238 226" stroke="#bfc72c" stroke-width="0.8" stroke-opacity="0.42"/>
<path d="M191.8 194.1Q197.5 206.7 198.3 218.6" stroke="#bfc72c" stroke-width="0.8" stroke-opacity="0.42"/>
<path d="M198.3 218.6Q199.1 230.5 195 241.7" stroke="#bfc72c" stroke-width="0.8" stroke-opacity="0.42"/>
<path d="M195 241.7Q191 252.9 182.1 263.5" stroke="#bfc72c" stroke-width="0.8" stroke-opacity="0.42"/>
<path d="M191.8 194.1Q201.2 199.3 207.1 206.4" stroke="#c7be2e"/>
<path d="M207.1 206.4Q212.9 213.4 215.3 222.3" stroke="#d8ac33"/>
<path d="M215.3 222.3Q217.6 231.1 216.5 241.8" stroke="#e89b38"/>
<path d="M191.8 194.1Q188.6 206.9 189.9 218" stroke="#c7be2e"/>
<path d="M189.9 218Q191.3 229.2 197.2 238.8" stroke="#d8ac33"/>
<path d="M197.2 238.8Q203.1 248.3 213.6 256.3" stroke="#e89b38"/>
<path d="M191.8 194.1Q216.4 191.3 237 196.5" stroke="#aac648" stroke-width="0.8" stroke-opacity="0.38"/>
<path d="M237 196.5Q257.7 201.7 274.5 214.9" stroke="#7fc481" stroke-width="0.8" stroke-opacity="0.38"/>
<path d="M274.5 214.9Q291.2 228 304.1 249.1" stroke="#54c3ba" stroke-width="0.8" stroke-opacity="0.38"/>
<path d="M191.8 194.1Q194.3 218.9 203.9 238" stroke="#acbe49" stroke-width="0.8" stroke-opacity="0.38"/>
<path d="M203.9 238Q213.5 257.1 230.3 270.4" stroke="#85ab82" stroke-width="0.8" stroke-opacity="0.38"/>
<path d="M230.3 270.4Q247 283.7 270.8 291.2" stroke="#5e98bb" stroke-width="0.8" stroke-opacity="0.38"/>
<path d="M191.8 194.1Q224.4 184.5 253.7 186.5" stroke="#beb935"/>
<path d="M253.7 186.5Q283 188.6 309 202.2" stroke="#bc9e47"/>
<path d="M309 202.2Q335 215.8 357.7 241.1" stroke="#b98259"/>
<path d="M191.8 194.1Q224.7 186.9 253.3 191" stroke="#beb935"/>
<path d="M253.3 191Q281.9 195.1 306.4 210.7" stroke="#bc9e47"/>
<path d="M306.4 210.7Q330.8 226.2 351 253.1" stroke="#b98259"/>
<path d="M238 226Q233 238.7 225.1 247.1" stroke="#bfc72c" stroke-width="1.3" stroke-opacity="0.5"/>
<path d="M225.1 247.1Q217.3 255.5 206.5 259.6" stroke="#bfc72c" stroke-width="1.3" stroke-opacity="0.5"/>
<path d="M206.5 259.6Q195.8 263.7 182.1 263.5" stroke="#bfc72c" stroke-width="1.3" stroke-opacity="0.5"/>
<path d="M238 226Q236.2 231.1 233.2 234.5" stroke="#c7be2e" stroke-width="0.8" stroke-opacity="0.38"/>
<path d="M233.2 234.5Q230.2 238 226.1 239.8" stroke="#d8ac33" stroke-width="0.8" stroke-opacity="0.38"/>
<path d="M226.1 239.8Q221.9 241.6 216.5 241.8" stroke="#e89b38" stroke-width="0.8" stroke-opacity="0.38"/>
<path d="M238 226Q233.6 229.3 231 233.2" stroke="#c7be2e" stroke-width="0.8" stroke-opacity="0.38"/>
<path d="M231 233.2Q228.4 237.2 227.6 241.9" stroke="#d8ac33" stroke-width="0.8" stroke-opacity="0.38"/>
<path d="M227.6 241.9Q226.8 246.6 227.8 252" stroke="#e89b38" stroke-width="0.8" stroke-opacity="0.38"/>
<path d="M238 226Q237.3 233.8 234.4 239.7" stroke="#c7be2e" stroke-width="0.8" stroke-opacity="0.38"/>
<path d="M234.4 239.7Q231.4 245.7 226.2 249.8" stroke="#d8ac33" stroke-width="0.8" stroke-opacity="0.38"/>
<path d="M226.2 249.8Q221.1 254 213.6 256.3" stroke="#e89b38" stroke-width="0.8" stroke-opacity="0.38"/>
<path d="M238 226Q247.8 234.6 258.3 238.6" stroke="#aac648" stroke-width="1.3" stroke-opacity="0.5"/>
<path d="M258.3 238.6Q268.8 242.6 280 241.9" stroke="#7fc481" stroke-width="1.3" stroke-opacity="0.5"/>
<path d="M280 241.9Q291.2 241.3 303.1 236.1" stroke="#54c3ba" stroke-width="1.3" stroke-opacity="0.5"/>
<path d="M238 226Q251.4 223 263.2 224.5" stroke="#aac648" stroke-width="1.3" stroke-opacity="0.5"/>
<path d="M263.2 224.5Q275.1 226.1 285.3 232.2" stroke="#7fc481" stroke-width="1.3" stroke-opacity="0.5"/>
<path d="M285.3 232.2Q295.5 238.4 304.1 249.1" stroke="#54c3ba" stroke-width="1.3" stroke-opacity="0.5"/>
<path d="M238 226Q261.2 243.5 274.3 264.5" stroke="#aac648" stroke-width="1.3" stroke-opacity="0.5"/>
<path d="M274.3 264.5Q287.4 285.5 290.6 310.1" stroke="#7fc481" stroke-width="1.3" stroke-opacity="0.5"/>
<path d="M290.6 310.1Q293.7 334.7 286.8 362.9" stroke="#54c3ba" stroke-width="1.3" stroke-opacity="0.5"/>
<path d="M238 226Q239.1 260.7 250.6 288.1" stroke="#aac648" stroke-width="0.8" stroke-opacity="0.38"/>
<path d="M250.6 288.1Q262.1 315.4 284 335.4" stroke="#7fc481" stroke-width="0.8" stroke-opacity="0.38"/>
<path d="M284 335.4Q305.9 355.4 338.3 368" stroke="#54c3ba" stroke-width="0.8" stroke-opacity="0.38"/>
<path d="M238 226Q236.2 240.5 239.2 252.6" stroke="#acbe49" stroke-width="1.3" stroke-opacity="0.5"/>
<path d="M239.2 252.6Q242.2 264.7 250.1 274.4" stroke="#85ab82" stroke-width="1.3" stroke-opacity="0.5"/>
<path d="M250.1 274.4Q258 284 270.8 291.2" stroke="#5e98bb" stroke-width="1.3" stroke-opacity="0.5"/>
<path d="M238 226Q227.4 238.3 222.7 251.3" stroke="#acbe49" stroke-width="1.3" stroke-opacity="0.5"/>
<path d="M222.7 251.3Q218 264.3 219.2 278.1" stroke="#85ab82" stroke-width="1.3" stroke-opacity="0.5"/>
<path d="M219.2 278.1Q220.4 291.9 227.6 306.4" stroke="#5e98bb" stroke-width="1.3" stroke-opacity="0.5"/>
<path d="M238 226Q237.1 246.3 242.8 262.6" stroke="#acbe49" stroke-width="1.3" stroke-opacity="0.5"/>
<path d="M242.8 262.6Q248.4 278.9 260.5 291.2" stroke="#85ab82" stroke-width="1.3" stroke-opacity="0.5"/>
<path d="M260.5 291.2Q272.7 303.5 291.3 311.7" stroke="#5e98bb" stroke-width="1.3" stroke-opacity="0.5"/>
<path d="M238 226Q223 243.7 216.5 262.3" stroke="#acbe49" stroke-width="0.8" stroke-opacity="0.38"/>
<path d="M216.5 262.3Q210.1 280.9 212.2 300.5" stroke="#85ab82" stroke-width="0.8" stroke-opacity="0.38"/>
<path d="M212.2 300.5Q214.3 320.1 225 340.7" stroke="#5e98bb" stroke-width="0.8" stroke-opacity="0.38"/>
<path d="M238 226Q226.5 244.9 223 263.5" stroke="#acbe49" stroke-width="0.8" stroke-opacity="0.38"/>
<path d="M223 263.5Q219.5 282.1 224.1 300.5" stroke="#85ab82" stroke-width="0.8" stroke-opacity="0.38"/>
<path d="M224.1 300.5Q228.6 318.9 241.2 337.1" stroke="#5e98bb" stroke-width="0.8" stroke-opacity="0.38"/>
<path d="M238 226Q254.3 244.7 261.4 264.4" stroke="#acbe49" stroke-width="0.8" stroke-opacity="0.38"/>
<path d="M261.4 264.4Q268.5 284.2 266.4 305.1" stroke="#85ab82" stroke-width="0.8" stroke-opacity="0.38"/>
<path d="M266.4 305.1Q264.3 326.1 253 348.1" stroke="#5e98bb" stroke-width="0.8" stroke-opacity="0.38"/>
<path d="M238 226Q251.9 247.5 256.3 268.8" stroke="#acbe49" stroke-width="0.8" stroke-opacity="0.38"/>
<path d="M256.3 268.8Q260.6 290.1 255.5 311.2" stroke="#85ab82" stroke-width="0.8" stroke-opacity="0.38"/>
<path d="M255.5 311.2Q250.4 332.3 235.7 353.3" stroke="#5e98bb" stroke-width="0.8" stroke-opacity="0.38"/>
<path d="M238 226Q225.2 250.9 222.8 274.5" stroke="#acbe49" stroke-width="0.8" stroke-opacity="0.38"/>
<path d="M222.8 274.5Q220.4 298.1 228.4 320.4" stroke="#85ab82" stroke-width="0.8" stroke-opacity="0.38"/>
<path d="M228.4 320.4Q236.3 342.8 254.6 363.9" stroke="#5e98bb" stroke-width="0.8" stroke-opacity="0.38"/>
<path d="M238 226Q218.8 248.2 210.4 271.7" stroke="#acbe49" stroke-width="0.8" stroke-opacity="0.38"/>
<path d="M210.4 271.7Q202 295.3 204.4 320.2" stroke="#85ab82" stroke-width="0.8" stroke-opacity="0.38"/>
<path d="M204.4 320.2Q206.7 345.1 219.9 371.3" stroke="#5e98bb" stroke-width="0.8" stroke-opacity="0.38"/>
<path d="M238 226Q222.2 249.5 216.8 273" stroke="#acbe49" stroke-width="0.8" stroke-opacity="0.38"/>
<path d="M216.8 273Q211.4 296.6 216.3 320.3" stroke="#85ab82" stroke-width="0.8" stroke-opacity="0.38"/>
<path d="M216.3 320.3Q221.2 344 236.5 367.8" stroke="#5e98bb" stroke-width="0.8" stroke-opacity="0.38"/>
<path d="M238 226Q223.3 252.7 219.5 278.7" stroke="#acbe49" stroke-width="0.8" stroke-opacity="0.38"/>
<path d="M219.5 278.7Q215.7 304.6 222.9 329.9" stroke="#85ab82" stroke-width="0.8" stroke-opacity="0.38"/>
<path d="M222.9 329.9Q230.1 355.1 248.3 379.6" stroke="#5e98bb" stroke-width="0.8" stroke-opacity="0.38"/>
<path d="M238 226Q218.9 251.6 211.9 277.6" stroke="#acbe49" stroke-width="0.8" stroke-opacity="0.38"/>
<path d="M211.9 277.6Q204.8 303.6 209.8 330.1" stroke="#85ab82" stroke-width="0.8" stroke-opacity="0.38"/>
<path d="M209.8 330.1Q214.8 356.6 231.8 383.6" stroke="#5e98bb" stroke-width="0.8" stroke-opacity="0.38"/>
<path d="M238 226Q232.1 260.6 216.7 286.1" stroke="#b9b848" stroke-width="0.8" stroke-opacity="0.38"/>
<path d="M216.7 286.1Q201.3 311.5 176.4 327.9" stroke="#ae9a80" stroke-width="0.8" stroke-opacity="0.38"/>
<path d="M176.4 327.9Q151.5 344.2 117.2 351.4" stroke="#a27bb8" stroke-width="0.8" stroke-opacity="0.38"/>
<path d="M238 226Q203 235.5 178.6 253.9" stroke="#b9b848" stroke-width="0.8" stroke-opacity="0.38"/>
<path d="M178.6 253.9Q154.2 272.3 140.3 299.5" stroke="#ae9a80" stroke-width="0.8" stroke-opacity="0.38"/>
<path d="M140.3 299.5Q126.5 326.8 123.2 362.9" stroke="#a27bb8" stroke-width="0.8" stroke-opacity="0.38"/>
<path d="M238 226Q239.9 254.5 232.9 278.3" stroke="#b9b848" stroke-width="0.8" stroke-opacity="0.38"/>
<path d="M232.9 278.3Q225.9 302.2 210 321.2" stroke="#ae9a80" stroke-width="0.8" stroke-opacity="0.38"/>
<path d="M210 321.2Q194.2 340.3 169.4 354.6" stroke="#a27bb8" stroke-width="0.8" stroke-opacity="0.38"/>
<path d="M238 226Q212 242.7 195.8 264.2" stroke="#b9b848" stroke-width="0.8" stroke-opacity="0.38"/>
<path d="M195.8 264.2Q179.6 285.6 173.2 311.7" stroke="#ae9a80" stroke-width="0.8" stroke-opacity="0.38"/>
<path d="M173.2 311.7Q166.8 337.7 170.3 368.5" stroke="#a27bb8" stroke-width="0.8" stroke-opacity="0.38"/>
<path d="M238 226Q259.6 215.8 280 214" stroke="#beb935" stroke-width="0.8" stroke-opacity="0.38"/>
<path d="M280 214Q300.5 212.3 319.9 219.1" stroke="#bc9e47" stroke-width="0.8" stroke-opacity="0.38"/>
<path d="M319.9 219.1Q339.4 225.8 357.7 241.1" stroke="#b98259" stroke-width="0.8" stroke-opacity="0.38"/>
<path d="M238 226Q259.8 218.3 279.6 218.7" stroke="#beb935" stroke-width="0.8" stroke-opacity="0.38"/>
<path d="M279.6 218.7Q299.4 219.2 317.2 227.7" stroke="#bc9e47" stroke-width="0.8" stroke-opacity="0.38"/>
<path d="M317.2 227.7Q335.1 236.3 351 253.1" stroke="#b98259" stroke-width="0.8" stroke-opacity="0.38"/>
<path d="M238 226Q262.2 217.2 284.1 217.7" stroke="#beb935" stroke-width="0.8" stroke-opacity="0.38"/>
<path d="M284.1 217.7Q306.1 218.2 325.6 228" stroke="#bc9e47" stroke-width="0.8" stroke-opacity="0.38"/>
<path d="M325.6 228Q345.2 237.9 362.5 257" stroke="#b98259" stroke-width="0.8" stroke-opacity="0.38"/>
<path d="M182.1 263.5Q190.3 263.7 196.8 261.4" stroke="#c7be2e" stroke-width="0.8" stroke-opacity="0.38"/>
<path d="M196.8 261.4Q203.3 259 208.3 254.2" stroke="#d8ac33" stroke-width="0.8" stroke-opacity="0.38"/>
<path d="M208.3 254.2Q213.2 249.3 216.5 241.8" stroke="#e89b38" stroke-width="0.8" stroke-opacity="0.38"/>
<path d="M182.1 263.5Q190.9 266.4 199 266.1" stroke="#c7be2e" stroke-width="0.8" stroke-opacity="0.38"/>
<path d="M199 266.1Q207 265.8 214.2 262.3" stroke="#d8ac33" stroke-width="0.8" stroke-opacity="0.38"/>
<path d="M214.2 262.3Q221.4 258.8 227.8 252" stroke="#e89b38" stroke-width="0.8" stroke-opacity="0.38"/>
<path d="M182.1 263.5Q199.4 246.1 218.6 237.3" stroke="#aac648" stroke-width="1.3" stroke-opacity="0.5"/>
<path d="M218.6 237.3Q237.8 228.4 258.9 228.1" stroke="#7fc481" stroke-width="1.3" stroke-opacity="0.5"/>
<path d="M258.9 228.1Q280 227.8 303.1 236.1" stroke="#54c3ba" stroke-width="1.3" stroke-opacity="0.5"/>
<path d="M182.1 263.5Q200.9 248.1 220.7 241.3" stroke="#aac648" stroke-width="1.3" stroke-opacity="0.5"/>
<path d="M220.7 241.3Q240.5 234.6 261.4 236.5" stroke="#7fc481" stroke-width="1.3" stroke-opacity="0.5"/>
<path d="M261.4 236.5Q282.2 238.5 304.1 249.1" stroke="#54c3ba" stroke-width="1.3" stroke-opacity="0.5"/>
<path d="M182.1 263.5Q199.8 258.9 215.5 260.5" stroke="#acbe49" stroke-width="1.3" stroke-opacity="0.5"/>
<path d="M215.5 260.5Q231.2 262 245.1 269.7" stroke="#85ab82" stroke-width="1.3" stroke-opacity="0.5"/>
<path d="M245.1 269.7Q258.9 277.4 270.8 291.2" stroke="#5e98bb" stroke-width="1.3" stroke-opacity="0.5"/>
<path d="M182.1 263.5Q195.1 283.3 211.6 295.3" stroke="#acbe49" stroke-width="1.3" stroke-opacity="0.5"/>
<path d="M211.6 295.3Q228 307.2 248 311.3" stroke="#85ab82" stroke-width="1.3" stroke-opacity="0.5"/>
<path d="M248 311.3Q267.9 315.5 291.3 311.7" stroke="#5e98bb" stroke-width="1.3" stroke-opacity="0.5"/>
<path d="M182.1 263.5Q180.7 281.1 185 295.6" stroke="#acbe49" stroke-width="0.8" stroke-opacity="0.38"/>
<path d="M185 295.6Q189.3 310 199.3 321.3" stroke="#85ab82" stroke-width="0.8" stroke-opacity="0.38"/>
<path d="M199.3 321.3Q209.3 332.6 225 340.7" stroke="#5e98bb" stroke-width="0.8" stroke-opacity="0.38"/>
<path d="M182.1 263.5Q177.6 288.8 181.6 310.6" stroke="#acbe49" stroke-width="0.8" stroke-opacity="0.38"/>
<path d="M181.6 310.6Q185.6 332.4 198.2 350.6" stroke="#85ab82" stroke-width="0.8" stroke-opacity="0.38"/>
<path d="M198.2 350.6Q210.7 368.9 231.8 383.6" stroke="#5e98bb" stroke-width="0.8" stroke-opacity="0.38"/>
<path d="M182.1 263.5Q162 271.3 148.1 283.7" stroke="#b9b848" stroke-width="0.8" stroke-opacity="0.38"/>
<path d="M148.1 283.7Q134.2 296 126.5 313" stroke="#ae9a80" stroke-width="0.8" stroke-opacity="0.38"/>
<path d="M126.5 313Q118.8 329.9 117.2 351.4" stroke="#a27bb8" stroke-width="0.8" stroke-opacity="0.38"/>
<path d="M182.1 263.5Q181.8 290.4 173.2 311.7" stroke="#b9b848" stroke-width="0.8" stroke-opacity="0.38"/>
<path d="M173.2 311.7Q164.6 332.9 147.9 348.5" stroke="#ae9a80" stroke-width="0.8" stroke-opacity="0.38"/>
<path d="M147.9 348.5Q131.1 364.1 106.1 374.1" stroke="#a27bb8" stroke-width="0.8" stroke-opacity="0.38"/>
<path d="M182.1 263.5Q190.1 280.1 191.3 295.7" stroke="#b9b848" stroke-width="0.8" stroke-opacity="0.38"/>
<path d="M191.3 295.7Q192.6 311.4 187.1 326.1" stroke="#ae9a80" stroke-width="0.8" stroke-opacity="0.38"/>
<path d="M187.1 326.1Q181.6 340.8 169.4 354.6" stroke="#a27bb8" stroke-width="0.8" stroke-opacity="0.38"/>
<path d="M182.1 263.5Q211.5 243.4 241.3 236" stroke="#beb935" stroke-width="0.8" stroke-opacity="0.38"/>
<path d="M241.3 236Q271.2 228.6 301.5 233.9" stroke="#bc9e47" stroke-width="0.8" stroke-opacity="0.38"/>
<path d="M301.5 233.9Q331.7 239.1 362.5 257" stroke="#b98259" stroke-width="0.8" stroke-opacity="0.38"/>
<path d="M216.5 241.8Q217.3 244.8 218.8 246.9" stroke="#f0923a"/>
<path d="M218.8 246.9Q220.3 249 222.5 250.3" stroke="#f0923a"/>
<path d="M222.5 250.3Q224.8 251.6 227.8 252" stroke="#f0923a"/>
<path d="M216.5 241.8Q217.7 244.6 217.8 247.1" stroke="#f0923a"/>
<path d="M217.8 247.1Q217.9 249.6 216.8 251.9" stroke="#f0923a"/>
<path d="M216.8 251.9Q215.8 254.2 213.6 256.3" stroke="#f0923a"/>
<path d="M216.5 241.8Q231.6 250.8 246.2 253.2" stroke="#d29a54" stroke-width="0.8" stroke-opacity="0.38"/>
<path d="M246.2 253.2Q260.9 255.6 275.1 251.3" stroke="#98aa88" stroke-width="0.8" stroke-opacity="0.38"/>
<path d="M275.1 251.3Q289.3 247 303.1 236.1" stroke="#5cbabc" stroke-width="0.8" stroke-opacity="0.38"/>
<path d="M216.5 241.8Q230.3 252.7 244.6 257.2" stroke="#d29a54" stroke-width="0.8" stroke-opacity="0.38"/>
<path d="M244.6 257.2Q258.9 261.7 273.8 259.6" stroke="#98aa88" stroke-width="0.8" stroke-opacity="0.38"/>
<path d="M273.8 259.6Q288.7 257.6 304.1 249.1" stroke="#5cbabc" stroke-width="0.8" stroke-opacity="0.38"/>
<path d="M216.5 241.8Q203.4 263.7 199.4 285.4" stroke="#d49254"/>
<path d="M199.4 285.4Q195.4 307.1 200.5 328.6" stroke="#9e9089"/>
<path d="M200.5 328.6Q205.7 350.1 219.9 371.3" stroke="#6690be"/>
<path d="M227.8 252Q225.9 254.2 223.7 255.4" stroke="#f0923a"/>
<path d="M223.7 255.4Q221.5 256.6 218.9 256.9" stroke="#f0923a"/>
<path d="M218.9 256.9Q216.4 257.1 213.6 256.3" stroke="#f0923a"/>
<path d="M227.8 252Q240.2 242.8 252.8 239.4" stroke="#d29a54" stroke-width="0.8" stroke-opacity="0.38"/>
<path d="M252.8 239.4Q265.4 236.1 278.2 238.5" stroke="#98aa88" stroke-width="0.8" stroke-opacity="0.38"/>
<path d="M278.2 238.5Q291.1 240.9 304.1 249.1" stroke="#5cbabc" stroke-width="0.8" stroke-opacity="0.38"/>
<path d="M213.6 256.3Q226.2 242.6 240.3 235.8" stroke="#d29a54" stroke-width="0.8" stroke-opacity="0.38"/>
<path d="M240.3 235.8Q254.5 229 270.2 229.1" stroke="#98aa88" stroke-width="0.8" stroke-opacity="0.38"/>
<path d="M270.2 229.1Q285.9 229.2 303.1 236.1" stroke="#5cbabc" stroke-width="0.8" stroke-opacity="0.38"/>
<path d="M213.6 256.3Q229.5 265.5 244.9 267.8" stroke="#d29a54" stroke-width="0.8" stroke-opacity="0.38"/>
<path d="M244.9 267.8Q260.2 270 275 265.4" stroke="#98aa88" stroke-width="0.8" stroke-opacity="0.38"/>
<path d="M275 265.4Q289.8 260.7 304.1 249.1" stroke="#5cbabc" stroke-width="0.8" stroke-opacity="0.38"/>
<path d="M213.6 256.3Q227.2 255.5 238.1 259.1" stroke="#d49254" stroke-width="0.8" stroke-opacity="0.38"/>
<path d="M238.1 259.1Q249 262.7 257.1 270.7" stroke="#9e9089" stroke-width="0.8" stroke-opacity="0.38"/>
<path d="M257.1 270.7Q265.3 278.7 270.8 291.2" stroke="#6690be" stroke-width="0.8" stroke-opacity="0.38"/>
<path d="M303.1 236.1Q304.6 238.2 305.2 240.3" stroke="#3fc2d6" stroke-width="1.3" stroke-opacity="0.5"/>
<path d="M305.2 240.3Q305.9 242.4 305.6 244.6" stroke="#3fc2d6" stroke-width="1.3" stroke-opacity="0.5"/>
<path d="M305.6 244.6Q305.3 246.8 304.1 249.1" stroke="#3fc2d6" stroke-width="1.3" stroke-opacity="0.5"/>
<path d="M303.1 236.1Q315 259.1 317.2 280.9" stroke="#3fc2d6" stroke-width="1.3" stroke-opacity="0.5"/>
<path d="M317.2 280.9Q319.4 302.6 311.8 323.1" stroke="#3fc2d6" stroke-width="1.3" stroke-opacity="0.5"/>
<path d="M311.8 323.1Q304.2 343.6 286.8 362.9" stroke="#3fc2d6" stroke-width="1.3" stroke-opacity="0.5"/>
<path d="M303.1 236.1Q293.7 260.1 293.9 281.7" stroke="#3fc2d6" stroke-width="0.8" stroke-opacity="0.38"/>
<path d="M293.9 281.7Q294.1 303.4 303.8 322.8" stroke="#3fc2d6" stroke-width="0.8" stroke-opacity="0.38"/>
<path d="M303.8 322.8Q313.5 342.1 332.8 359.2" stroke="#3fc2d6" stroke-width="0.8" stroke-opacity="0.38"/>
<path d="M303.1 236.1Q321.4 255.7 330.4 277.1" stroke="#3fc2d6" stroke-width="0.8" stroke-opacity="0.38"/>
<path d="M330.4 277.1Q339.5 298.4 339.2 321.7" stroke="#3fc2d6" stroke-width="0.8" stroke-opacity="0.38"/>
<path d="M339.2 321.7Q338.9 344.9 329.3 369.9" stroke="#3fc2d6" stroke-width="0.8" stroke-opacity="0.38"/>
<path d="M303.1 236.1Q293.8 262.1 294.6 285.5" stroke="#3fc2d6" stroke-width="0.8" stroke-opacity="0.38"/>
<path d="M294.6 285.5Q295.4 308.8 306.4 329.4" stroke="#3fc2d6" stroke-width="0.8" stroke-opacity="0.38"/>
<path d="M306.4 329.4Q317.3 350.1 338.3 368" stroke="#3fc2d6" stroke-width="0.8" stroke-opacity="0.38"/>
<path d="M303.1 236.1Q303.5 248.7 300 259" stroke="#41bad6" stroke-width="1.3" stroke-opacity="0.5"/>
<path d="M300 259Q296.5 269.3 289.2 277.3" stroke="#45a8d7" stroke-width="1.3" stroke-opacity="0.5"/>
<path d="M289.2 277.3Q281.9 285.4 270.8 291.2" stroke="#4998d8" stroke-width="1.3" stroke-opacity="0.5"/>
<path d="M303.1 236.1Q298.6 256.5 288.7 271.1" stroke="#41bad6" stroke-width="1.3" stroke-opacity="0.5"/>
<path d="M288.7 271.1Q278.8 285.7 263.5 294.5" stroke="#45a8d7" stroke-width="1.3" stroke-opacity="0.5"/>
<path d="M263.5 294.5Q248.2 303.3 227.6 306.4" stroke="#4998d8" stroke-width="1.3" stroke-opacity="0.5"/>
<path d="M303.1 236.1Q292.9 247.4 288.2 259.6" stroke="#41bad6" stroke-width="1.3" stroke-opacity="0.5"/>
<path d="M288.2 259.6Q283.4 271.8 284.2 284.8" stroke="#45a8d7" stroke-width="1.3" stroke-opacity="0.5"/>
<path d="M284.2 284.8Q285 297.8 291.3 311.7" stroke="#4998d8" stroke-width="1.3" stroke-opacity="0.5"/>
<path d="M303.1 236.1Q301.8 262.3 292.7 282.6" stroke="#41bad6" stroke-width="0.8" stroke-opacity="0.38"/>
<path d="M292.7 282.6Q283.6 303 266.7 317.5" stroke="#45a8d7" stroke-width="0.8" stroke-opacity="0.38"/>
<path d="M266.7 317.5Q249.7 332 225 340.7" stroke="#4998d8" stroke-width="0.8" stroke-opacity="0.38"/>
<path d="M303.1 236.1Q304.4 260.1 298 279.3" stroke="#41bad6" stroke-width="0.8" stroke-opacity="0.38"/>
<path d="M298 279.3Q291.6 298.5 277.4 313" stroke="#45a8d7" stroke-width="0.8" stroke-opacity="0.38"/>
<path d="M277.4 313Q263.2 327.4 241.2 337.1" stroke="#4998d8" stroke-width="0.8" stroke-opacity="0.38"/>
<path d="M303.1 236.1Q282.5 249.3 270.1 266.1" stroke="#41bad6" stroke-width="0.8" stroke-opacity="0.38"/>
<path d="M270.1 266.1Q257.7 283 253.4 303.5" stroke="#45a8d7" stroke-width="0.8" stroke-opacity="0.38"/>
<path d="M253.4 303.5Q249.1 324 253 348.1" stroke="#4998d8" stroke-width="0.8" stroke-opacity="0.38"/>
<path d="M303.1 236.1Q302.1 265.4 292.2 288.4" stroke="#41bad6" stroke-width="0.8" stroke-opacity="0.38"/>
<path d="M292.2 288.4Q282.4 311.5 263.7 328.1" stroke="#45a8d7" stroke-width="0.8" stroke-opacity="0.38"/>
<path d="M263.7 328.1Q245.1 344.8 217.6 355.2" stroke="#4998d8" stroke-width="0.8" stroke-opacity="0.38"/>
<path d="M303.1 236.1Q278.4 247.9 262.7 264.9" stroke="#41bad6" stroke-width="0.8" stroke-opacity="0.38"/>
<path d="M262.7 264.9Q247 281.8 240.2 303.9" stroke="#45a8d7" stroke-width="0.8" stroke-opacity="0.38"/>
<path d="M240.2 303.9Q233.5 326 235.7 353.3" stroke="#4998d8" stroke-width="0.8" stroke-opacity="0.38"/>
<path d="M303.1 236.1Q309.3 262.8 306 285.9" stroke="#41bad6" stroke-width="0.8" stroke-opacity="0.38"/>
<path d="M306 285.9Q302.7 309 289.8 328.5" stroke="#45a8d7" stroke-width="0.8" stroke-opacity="0.38"/>
<path d="M289.8 328.5Q277 348 254.6 363.9" stroke="#4998d8" stroke-width="0.8" stroke-opacity="0.38"/>
<path d="M303.1 236.1Q303.9 267.6 294.9 293.2" stroke="#41bad6" stroke-width="0.8" stroke-opacity="0.38"/>
<path d="M294.9 293.2Q285.9 318.7 267.1 338.2" stroke="#45a8d7" stroke-width="0.8" stroke-opacity="0.38"/>
<path d="M267.1 338.2Q248.4 357.8 219.9 371.3" stroke="#4998d8" stroke-width="0.8" stroke-opacity="0.38"/>
<path d="M303.1 236.1Q306.8 265.5 300.6 290" stroke="#41bad6" stroke-width="0.8" stroke-opacity="0.38"/>
<path d="M300.6 290Q294.5 314.4 278.4 333.9" stroke="#45a8d7" stroke-width="0.8" stroke-opacity="0.38"/>
<path d="M278.4 333.9Q262.4 353.3 236.5 367.8" stroke="#4998d8" stroke-width="0.8" stroke-opacity="0.38"/>
<path d="M303.1 236.1Q274.6 252.6 257.2 274.6" stroke="#41bad6" stroke-width="0.8" stroke-opacity="0.38"/>
<path d="M257.2 274.6Q239.7 296.5 233.4 323.7" stroke="#45a8d7" stroke-width="0.8" stroke-opacity="0.38"/>
<path d="M233.4 323.7Q227.1 351 231.8 383.6" stroke="#4998d8" stroke-width="0.8" stroke-opacity="0.38"/>
<path d="M303.1 236.1Q259.2 234.6 224 246.9" stroke="#4eb4d6" stroke-width="0.8" stroke-opacity="0.38"/>
<path d="M224 246.9Q188.7 259.2 162 285.3" stroke="#6e97d5" stroke-width="0.8" stroke-opacity="0.38"/>
<path d="M162 285.3Q135.3 311.4 117.2 351.4" stroke="#8c7ad4" stroke-width="0.8" stroke-opacity="0.38"/>
<path d="M303.1 236.1Q286.6 276.3 261.1 303.8" stroke="#4eb4d6" stroke-width="0.8" stroke-opacity="0.38"/>
<path d="M261.1 303.8Q235.6 331.3 201.1 346.1" stroke="#6e97d5" stroke-width="0.8" stroke-opacity="0.38"/>
<path d="M201.1 346.1Q166.6 360.9 123.2 362.9" stroke="#8c7ad4" stroke-width="0.8" stroke-opacity="0.38"/>
<path d="M303.1 236.1Q288 280.4 262.2 310.7" stroke="#4eb4d6" stroke-width="0.8" stroke-opacity="0.38"/>
<path d="M262.2 310.7Q236.5 340.9 200.3 357" stroke="#6e97d5" stroke-width="0.8" stroke-opacity="0.38"/>
<path d="M200.3 357Q164 373 117.2 375" stroke="#8c7ad4" stroke-width="0.8" stroke-opacity="0.38"/>
<path d="M303.1 236.1Q267.9 241.2 241.3 256.1" stroke="#4eb4d6" stroke-width="0.8" stroke-opacity="0.38"/>
<path d="M241.3 256.1Q214.7 271 196.7 295.6" stroke="#6e97d5" stroke-width="0.8" stroke-opacity="0.38"/>
<path d="M196.7 295.6Q178.7 320.2 169.4 354.6" stroke="#8c7ad4" stroke-width="0.8" stroke-opacity="0.38"/>
<path d="M303.1 236.1Q312.8 230.8 322 229.6" stroke="#53b5c3" stroke-width="0.8" stroke-opacity="0.38"/>
<path d="M322 229.6Q331.3 228.4 340.2 231.3" stroke="#7c9b9c" stroke-width="0.8" stroke-opacity="0.38"/>
<path d="M340.2 231.3Q349.2 234.1 357.7 241.1" stroke="#a48175" stroke-width="0.8" stroke-opacity="0.38"/>
<path d="M303.1 236.1Q309.2 244.2 316.6 248.8" stroke="#53b5c3" stroke-width="0.8" stroke-opacity="0.38"/>
<path d="M316.6 248.8Q323.9 253.3 332.6 254.4" stroke="#7c9b9c" stroke-width="0.8" stroke-opacity="0.38"/>
<path d="M332.6 254.4Q341.2 255.5 351 253.1" stroke="#a48175" stroke-width="0.8" stroke-opacity="0.38"/>
<path d="M303.1 236.1Q315.4 232.8 326.1 234.1" stroke="#53b5c3" stroke-width="0.8" stroke-opacity="0.38"/>
<path d="M326.1 234.1Q336.8 235.3 345.9 241" stroke="#7c9b9c" stroke-width="0.8" stroke-opacity="0.38"/>
<path d="M345.9 241Q355 246.8 362.5 257" stroke="#a48175" stroke-width="0.8" stroke-opacity="0.38"/>
<path d="M303.1 236.1Q325.4 253.2 348.2 259.6" stroke="#5aaebf" stroke-width="1.3" stroke-opacity="0.5"/>
<path d="M348.2 259.6Q371 266 394.3 261.7" stroke="#908490" stroke-width="1.3" stroke-opacity="0.5"/>
<path d="M394.3 261.7Q417.5 257.3 441.3 242.3" stroke="#c75c61" stroke-width="1.3" stroke-opacity="0.5"/>
<path d="M303.1 236.1Q335.7 213.7 368.8 205.2" stroke="#5aaebf" stroke-width="1.0" stroke-opacity="0.32"/>
<path d="M368.8 205.2Q402 196.7 435.8 202.2" stroke="#908490" stroke-width="1.0" stroke-opacity="0.32"/>
<path d="M435.8 202.2Q469.7 207.6 504.1 227" stroke="#c75c61" stroke-width="1.0" stroke-opacity="0.32"/>
<path d="M303.1 236.1Q335.7 215.2 368.3 208.3" stroke="#5aaebf" stroke-width="1.0" stroke-opacity="0.32"/>
<path d="M368.3 208.3Q401 201.3 433.6 208.3" stroke="#908490" stroke-width="1.0" stroke-opacity="0.32"/>
<path d="M433.6 208.3Q466.2 215.3 498.8 236.2" stroke="#c75c61" stroke-width="1.0" stroke-opacity="0.32"/>
<path d="M303.1 236.1Q337.7 212.9 372.4 205.1" stroke="#5aaebf" stroke-width="1.0" stroke-opacity="0.32"/>
<path d="M372.4 205.1Q407 197.4 441.6 205.2" stroke="#908490" stroke-width="1.0" stroke-opacity="0.32"/>
<path d="M441.6 205.2Q476.3 212.9 510.9 236.2" stroke="#c75c61" stroke-width="1.0" stroke-opacity="0.32"/>
<path d="M303.1 236.1Q337.9 216.8 371.9 211.5" stroke="#5aaebf" stroke-width="1.0" stroke-opacity="0.32"/>
<path d="M371.9 211.5Q406 206.2 439.3 215" stroke="#908490" stroke-width="1.0" stroke-opacity="0.32"/>
<path d="M439.3 215Q472.6 223.7 505.2 246.5" stroke="#c75c61" stroke-width="1.0" stroke-opacity="0.32"/>
<path d="M303.1 236.1Q342.8 207.7 383.5 196.8" stroke="#5aaebf" stroke-width="1.0" stroke-opacity="0.32"/>
<path d="M383.5 196.8Q424.2 185.9 465.8 192.4" stroke="#908490" stroke-width="1.0" stroke-opacity="0.32"/>
<path d="M465.8 192.4Q507.4 198.9 549.9 222.9" stroke="#c75c61" stroke-width="1.0" stroke-opacity="0.32"/>
<path d="M303.1 236.1Q343.3 208.5 383.6 199.1" stroke="#5aaebf" stroke-width="1.0" stroke-opacity="0.32"/>
<path d="M383.6 199.1Q423.9 189.7 464.3 198.6" stroke="#908490" stroke-width="1.0" stroke-opacity="0.32"/>
<path d="M464.3 198.6Q504.7 207.4 545.3 234.4" stroke="#c75c61" stroke-width="1.0" stroke-opacity="0.32"/>
<path d="M303.1 236.1Q345.2 210.9 386.8 203.4" stroke="#5aaebf" stroke-width="1.0" stroke-opacity="0.32"/>
<path d="M386.8 203.4Q428.4 195.8 469.5 205.9" stroke="#908490" stroke-width="1.0" stroke-opacity="0.32"/>
<path d="M469.5 205.9Q510.6 215.9 551.1 243.6" stroke="#c75c61" stroke-width="1.0" stroke-opacity="0.32"/>
<path d="M303.1 236.1Q347.9 198.6 394.7 183.2" stroke="#5aaebf" stroke-width="1.0" stroke-opacity="0.32"/>
<path d="M394.7 183.2Q441.6 167.8 490.4 174.6" stroke="#908490" stroke-width="1.0" stroke-opacity="0.32"/>
<path d="M490.4 174.6Q539.2 181.4 590 210.3" stroke="#c75c61" stroke-width="1.0" stroke-opacity="0.32"/>
<path d="M303.1 236.1Q347.2 201.3 392.6 187.7" stroke="#5aaebf" stroke-width="1.0" stroke-opacity="0.32"/>
<path d="M392.6 187.7Q438 174.1 484.8 181.8" stroke="#908490" stroke-width="1.0" stroke-opacity="0.32"/>
<path d="M484.8 181.8Q531.6 189.4 579.7 218.3" stroke="#c75c61" stroke-width="1.0" stroke-opacity="0.32"/>
<path d="M303.1 236.1Q350.8 201 399.8 187.2" stroke="#5aaebf" stroke-width="1.0" stroke-opacity="0.32"/>
<path d="M399.8 187.2Q448.8 173.5 499.1 181.2" stroke="#908490" stroke-width="1.0" stroke-opacity="0.32"/>
<path d="M499.1 181.2Q549.4 188.8 601 217.9" stroke="#c75c61" stroke-width="1.0" stroke-opacity="0.32"/>
<path d="M303.1 236.1Q349.8 201.4 397.3 188.5" stroke="#5aaebf" stroke-width="1.0" stroke-opacity="0.32"/>
<path d="M397.3 188.5Q444.9 175.6 493.4 184.5" stroke="#908490" stroke-width="1.0" stroke-opacity="0.32"/>
<path d="M493.4 184.5Q541.8 193.4 591.2 224.1" stroke="#c75c61" stroke-width="1.0" stroke-opacity="0.32"/>
<path d="M303.1 236.1Q348.5 204.5 394.3 193.5" stroke="#5aaebf" stroke-width="1.0" stroke-opacity="0.32"/>
<path d="M394.3 193.5Q440.1 182.4 486.3 191.8" stroke="#908490" stroke-width="1.0" stroke-opacity="0.32"/>
<path d="M486.3 191.8Q532.4 201.1 579 231" stroke="#c75c61" stroke-width="1.0" stroke-opacity="0.32"/>
<path d="M303.1 236.1Q352.4 200.6 402.3 188" stroke="#5aaebf" stroke-width="1.0" stroke-opacity="0.32"/>
<path d="M402.3 188Q452.2 175.4 502.5 185.7" stroke="#908490" stroke-width="1.0" stroke-opacity="0.32"/>
<path d="M502.5 185.7Q552.9 196 603.8 229.3" stroke="#c75c61" stroke-width="1.0" stroke-opacity="0.32"/>
<path d="M303.1 236.1Q351.2 204.9 399.4 194.5" stroke="#5aaebf" stroke-width="1.0" stroke-opacity="0.32"/>
<path d="M399.4 194.5Q447.5 184.1 495.6 194.5" stroke="#908490" stroke-width="1.0" stroke-opacity="0.32"/>
<path d="M495.6 194.5Q543.8 205 591.9 236.2" stroke="#c75c61" stroke-width="1.0" stroke-opacity="0.32"/>
<path d="M303.1 236.1Q350.3 207.8 396.9 199.3" stroke="#5aaebf" stroke-width="1.0" stroke-opacity="0.32"/>
<path d="M396.9 199.3Q443.5 190.8 489.5 202.2" stroke="#908490" stroke-width="1.0" stroke-opacity="0.32"/>
<path d="M489.5 202.2Q535.5 213.5 580.9 244.7" stroke="#c75c61" stroke-width="1.0" stroke-opacity="0.32"/>
<path d="M303.1 236.1Q353.7 204.3 403.8 194.4" stroke="#5aaebf" stroke-width="1.0" stroke-opacity="0.32"/>
<path d="M403.8 194.4Q453.9 184.5 503.6 196.4" stroke="#908490" stroke-width="1.0" stroke-opacity="0.32"/>
<path d="M503.6 196.4Q553.3 208.3 602.6 242" stroke="#c75c61" stroke-width="1.0" stroke-opacity="0.32"/>
<path d="M303.1 236.1Q352.9 206.8 401.6 198.6" stroke="#5aaebf" stroke-width="1.0" stroke-opacity="0.32"/>
<path d="M401.6 198.6Q450.3 190.4 498 203.4" stroke="#908490" stroke-width="1.0" stroke-opacity="0.32"/>
<path d="M498 203.4Q545.7 216.3 592.3 250.4" stroke="#c75c61" stroke-width="1.0" stroke-opacity="0.32"/>
<path d="M304.1 249.1Q288 266.1 280.7 284.4" stroke="#3fc2d6" stroke-width="1.3" stroke-opacity="0.5"/>
<path d="M280.7 284.4Q273.4 302.7 274.9 322.3" stroke="#3fc2d6" stroke-width="1.3" stroke-opacity="0.5"/>
<path d="M274.9 322.3Q276.5 341.9 286.8 362.9" stroke="#3fc2d6" stroke-width="1.3" stroke-opacity="0.5"/>
<path d="M304.1 249.1Q296.7 270.6 297.4 290" stroke="#3fc2d6" stroke-width="0.8" stroke-opacity="0.38"/>
<path d="M297.4 290Q298.2 309.4 307 326.7" stroke="#3fc2d6" stroke-width="0.8" stroke-opacity="0.38"/>
<path d="M307 326.7Q315.8 344 332.8 359.2" stroke="#3fc2d6" stroke-width="0.8" stroke-opacity="0.38"/>
<path d="M304.1 249.1Q323.6 264.9 333.9 283.4" stroke="#3fc2d6" stroke-width="0.8" stroke-opacity="0.38"/>
<path d="M333.9 283.4Q344.2 301.9 345.3 323.1" stroke="#3fc2d6" stroke-width="0.8" stroke-opacity="0.38"/>
<path d="M345.3 323.1Q346.4 344.2 338.3 368" stroke="#3fc2d6" stroke-width="0.8" stroke-opacity="0.38"/>
<path d="M304.1 249.1Q294 252.5 286.9 258.3" stroke="#41bad6" stroke-width="1.3" stroke-opacity="0.5"/>
<path d="M286.9 258.3Q279.9 264.1 275.8 272.4" stroke="#45a8d7" stroke-width="1.3" stroke-opacity="0.5"/>
<path d="M275.8 272.4Q271.8 280.6 270.8 291.2" stroke="#4998d8" stroke-width="1.3" stroke-opacity="0.5"/>
<path d="M304.1 249.1Q297.6 266.9 286.9 279.3" stroke="#41bad6" stroke-width="1.3" stroke-opacity="0.5"/>
<path d="M286.9 279.3Q276.2 291.6 261.4 298.4" stroke="#45a8d7" stroke-width="1.3" stroke-opacity="0.5"/>
<path d="M261.4 298.4Q246.6 305.1 227.6 306.4" stroke="#4998d8" stroke-width="1.3" stroke-opacity="0.5"/>
<path d="M304.1 249.1Q309.1 261 309.3 271.9" stroke="#41bad6" stroke-width="1.3" stroke-opacity="0.5"/>
<path d="M309.3 271.9Q309.5 282.8 305 292.8" stroke="#45a8d7" stroke-width="1.3" stroke-opacity="0.5"/>
<path d="M305 292.8Q300.5 302.7 291.3 311.7" stroke="#4998d8" stroke-width="1.3" stroke-opacity="0.5"/>
<path d="M304.1 249.1Q280.2 255.1 263.5 267.3" stroke="#41bad6" stroke-width="0.8" stroke-opacity="0.38"/>
<path d="M263.5 267.3Q246.7 279.5 237.1 297.9" stroke="#45a8d7" stroke-width="0.8" stroke-opacity="0.38"/>
<path d="M237.1 297.9Q227.5 316.2 225 340.7" stroke="#4998d8" stroke-width="0.8" stroke-opacity="0.38"/>
<path d="M304.1 249.1Q284.2 259.7 271.9 274.3" stroke="#41bad6" stroke-width="0.8" stroke-opacity="0.38"/>
<path d="M271.9 274.3Q259.6 288.8 254.8 307.3" stroke="#45a8d7" stroke-width="0.8" stroke-opacity="0.38"/>
<path d="M254.8 307.3Q250.1 325.7 253 348.1" stroke="#4998d8" stroke-width="0.8" stroke-opacity="0.38"/>
<path d="M304.1 249.1Q281.9 259.4 266.9 274.4" stroke="#41bad6" stroke-width="0.8" stroke-opacity="0.38"/>
<path d="M266.9 274.4Q251.9 289.4 244.1 309.1" stroke="#45a8d7" stroke-width="0.8" stroke-opacity="0.38"/>
<path d="M244.1 309.1Q236.3 328.8 235.7 353.3" stroke="#4998d8" stroke-width="0.8" stroke-opacity="0.38"/>
<path d="M304.1 249.1Q282.6 262.5 270 279.8" stroke="#41bad6" stroke-width="0.8" stroke-opacity="0.38"/>
<path d="M270 279.8Q257.3 297 253.5 318" stroke="#45a8d7" stroke-width="0.8" stroke-opacity="0.38"/>
<path d="M253.5 318Q249.6 339.1 254.6 363.9" stroke="#4998d8" stroke-width="0.8" stroke-opacity="0.38"/>
<path d="M304.1 249.1Q303.7 278.9 294.3 302.4" stroke="#41bad6" stroke-width="0.8" stroke-opacity="0.38"/>
<path d="M294.3 302.4Q284.8 325.9 266.2 343.1" stroke="#45a8d7" stroke-width="0.8" stroke-opacity="0.38"/>
<path d="M266.2 343.1Q247.6 360.4 219.9 371.3" stroke="#4998d8" stroke-width="0.8" stroke-opacity="0.38"/>
<path d="M304.1 249.1Q306 276.4 299.1 298.7" stroke="#41bad6" stroke-width="0.8" stroke-opacity="0.38"/>
<path d="M299.1 298.7Q292.3 321 276.6 338.2" stroke="#45a8d7" stroke-width="0.8" stroke-opacity="0.38"/>
<path d="M276.6 338.2Q261 355.5 236.5 367.8" stroke="#4998d8" stroke-width="0.8" stroke-opacity="0.38"/>
<path d="M304.1 249.1Q309.3 277 304.8 300.9" stroke="#41bad6" stroke-width="0.8" stroke-opacity="0.38"/>
<path d="M304.8 300.9Q300.3 324.7 286.2 344.4" stroke="#45a8d7" stroke-width="0.8" stroke-opacity="0.38"/>
<path d="M286.2 344.4Q272.1 364 248.3 379.6" stroke="#4998d8" stroke-width="0.8" stroke-opacity="0.38"/>
<path d="M304.1 249.1Q306.6 279.3 299.4 304.3" stroke="#41bad6" stroke-width="0.8" stroke-opacity="0.38"/>
<path d="M299.4 304.3Q292.1 329.4 275.3 349.2" stroke="#45a8d7" stroke-width="0.8" stroke-opacity="0.38"/>
<path d="M275.3 349.2Q258.4 369 231.8 383.6" stroke="#4998d8" stroke-width="0.8" stroke-opacity="0.38"/>
<path d="M304.1 249.1Q281.9 287.1 252.5 311" stroke="#4eb4d6" stroke-width="0.8" stroke-opacity="0.38"/>
<path d="M252.5 311Q223.1 334.8 186.5 344.4" stroke="#6e97d5" stroke-width="0.8" stroke-opacity="0.38"/>
<path d="M186.5 344.4Q149.9 354.1 106.1 349.5" stroke="#8c7ad4" stroke-width="0.8" stroke-opacity="0.38"/>
<path d="M304.1 249.1Q286.8 288.4 260.9 314.2" stroke="#4eb4d6" stroke-width="0.8" stroke-opacity="0.38"/>
<path d="M260.9 314.2Q235 339.9 200.6 352.1" stroke="#6e97d5" stroke-width="0.8" stroke-opacity="0.38"/>
<path d="M200.6 352.1Q166.2 364.3 123.2 362.9" stroke="#8c7ad4" stroke-width="0.8" stroke-opacity="0.38"/>
<path d="M304.1 249.1Q259.3 249.8 223.6 264" stroke="#4eb4d6" stroke-width="0.8" stroke-opacity="0.38"/>
<path d="M223.6 264Q187.9 278.2 161.3 306" stroke="#6e97d5" stroke-width="0.8" stroke-opacity="0.38"/>
<path d="M161.3 306Q134.7 333.7 117.2 375" stroke="#8c7ad4" stroke-width="0.8" stroke-opacity="0.38"/>
<path d="M304.1 249.1Q269.4 251 242.9 263.4" stroke="#4eb4d6" stroke-width="0.8" stroke-opacity="0.38"/>
<path d="M242.9 263.4Q216.3 275.8 198 298.6" stroke="#6e97d5" stroke-width="0.8" stroke-opacity="0.38"/>
<path d="M198 298.6Q179.6 321.4 169.4 354.6" stroke="#8c7ad4" stroke-width="0.8" stroke-opacity="0.38"/>
<path d="M304.1 249.1Q312.1 241.6 320.7 238.3" stroke="#53b5c3" stroke-width="0.8" stroke-opacity="0.38"/>
<path d="M320.7 238.3Q329.4 234.9 338.6 235.6" stroke="#7c9b9c" stroke-width="0.8" stroke-opacity="0.38"/>
<path d="M338.6 235.6Q347.9 236.3 357.7 241.1" stroke="#a48175" stroke-width="0.8" stroke-opacity="0.38"/>
<path d="M304.1 249.1Q311.5 255 319.1 257.4" stroke="#53b5c3" stroke-width="0.8" stroke-opacity="0.38"/>
<path d="M319.1 257.4Q326.8 259.8 334.8 258.8" stroke="#7c9b9c" stroke-width="0.8" stroke-opacity="0.38"/>
<path d="M334.8 258.8Q342.7 257.7 351 253.1" stroke="#a48175" stroke-width="0.8" stroke-opacity="0.38"/>
<path d="M304.1 249.1Q313 256.7 322.4 260.2" stroke="#53b5c3" stroke-width="0.8" stroke-opacity="0.38"/>
<path d="M322.4 260.2Q331.9 263.6 341.9 262.8" stroke="#7c9b9c" stroke-width="0.8" stroke-opacity="0.38"/>
<path d="M341.9 262.8Q351.9 262 362.5 257" stroke="#a48175" stroke-width="0.8" stroke-opacity="0.38"/>
<path d="M304.1 249.1Q326.2 232.6 348.8 226.3" stroke="#5aaebf" stroke-width="1.3" stroke-opacity="0.5"/>
<path d="M348.8 226.3Q371.4 220.1 394.6 224.1" stroke="#908490" stroke-width="1.3" stroke-opacity="0.5"/>
<path d="M394.6 224.1Q417.7 228.1 441.3 242.3" stroke="#c75c61" stroke-width="1.3" stroke-opacity="0.5"/>
<path d="M304.1 249.1Q339.9 267.4 374 271.1" stroke="#5aaebf" stroke-width="1.0" stroke-opacity="0.32"/>
<path d="M374 271.1Q408.2 274.7 440.7 263.7" stroke="#908490" stroke-width="1.0" stroke-opacity="0.32"/>
<path d="M440.7 263.7Q473.2 252.7 504.1 227" stroke="#c75c61" stroke-width="1.0" stroke-opacity="0.32"/>
<path d="M304.1 249.1Q335.1 225.3 367.1 216" stroke="#5aaebf" stroke-width="1.0" stroke-opacity="0.32"/>
<path d="M367.1 216Q399.1 206.6 432 211.7" stroke="#908490" stroke-width="1.0" stroke-opacity="0.32"/>
<path d="M432 211.7Q464.9 216.7 498.8 236.2" stroke="#c75c61" stroke-width="1.0" stroke-opacity="0.32"/>
<path d="M304.1 249.1Q339.9 268.8 374.8 273.9" stroke="#5aaebf" stroke-width="1.0" stroke-opacity="0.32"/>
<path d="M374.8 273.9Q409.8 279 443.8 269.6" stroke="#908490" stroke-width="1.0" stroke-opacity="0.32"/>
<path d="M443.8 269.6Q477.8 260.2 510.9 236.2" stroke="#c75c61" stroke-width="1.0" stroke-opacity="0.32"/>
<path d="M304.1 249.1Q337.3 227.6 370.8 220.2" stroke="#5aaebf" stroke-width="1.0" stroke-opacity="0.32"/>
<path d="M370.8 220.2Q404.2 212.8 437.8 219.3" stroke="#908490" stroke-width="1.0" stroke-opacity="0.32"/>
<path d="M437.8 219.3Q471.4 225.9 505.2 246.5" stroke="#c75c61" stroke-width="1.0" stroke-opacity="0.32"/>
<path d="M304.1 249.1Q347.8 270.8 389.7 275.1" stroke="#5aaebf" stroke-width="1.0" stroke-opacity="0.32"/>
<path d="M389.7 275.1Q431.6 279.4 471.7 266.3" stroke="#908490" stroke-width="1.0" stroke-opacity="0.32"/>
<path d="M471.7 266.3Q511.7 253.3 549.9 222.9" stroke="#c75c61" stroke-width="1.0" stroke-opacity="0.32"/>
<path d="M304.1 249.1Q346 274.3 386.7 281" stroke="#5aaebf" stroke-width="1.0" stroke-opacity="0.32"/>
<path d="M386.7 281Q427.5 287.8 467.1 276.1" stroke="#908490" stroke-width="1.0" stroke-opacity="0.32"/>
<path d="M467.1 276.1Q506.8 264.5 545.3 234.4" stroke="#c75c61" stroke-width="1.0" stroke-opacity="0.32"/>
<path d="M304.1 249.1Q345.9 275.1 387.2 283.2" stroke="#5aaebf" stroke-width="1.0" stroke-opacity="0.32"/>
<path d="M387.2 283.2Q428.6 291.2 469.6 281.3" stroke="#908490" stroke-width="1.0" stroke-opacity="0.32"/>
<path d="M469.6 281.3Q510.5 271.4 551.1 243.6" stroke="#c75c61" stroke-width="1.0" stroke-opacity="0.32"/>
<path d="M304.1 249.1Q356 274.1 405.1 278.2" stroke="#5aaebf" stroke-width="1.0" stroke-opacity="0.32"/>
<path d="M405.1 278.2Q454.2 282.2 500.4 265.2" stroke="#908490" stroke-width="1.0" stroke-opacity="0.32"/>
<path d="M500.4 265.2Q546.6 248.3 590 210.3" stroke="#c75c61" stroke-width="1.0" stroke-opacity="0.32"/>
<path d="M304.1 249.1Q353.4 274.1 400.5 279" stroke="#5aaebf" stroke-width="1.0" stroke-opacity="0.32"/>
<path d="M400.5 279Q447.5 283.9 492.3 268.7" stroke="#908490" stroke-width="1.0" stroke-opacity="0.32"/>
<path d="M492.3 268.7Q537.1 253.5 579.7 218.3" stroke="#c75c61" stroke-width="1.0" stroke-opacity="0.32"/>
<path d="M304.1 249.1Q357.2 278.2 407.9 284.4" stroke="#5aaebf" stroke-width="1.0" stroke-opacity="0.32"/>
<path d="M407.9 284.4Q458.6 290.6 506.8 274" stroke="#908490" stroke-width="1.0" stroke-opacity="0.32"/>
<path d="M506.8 274Q555.1 257.4 601 217.9" stroke="#c75c61" stroke-width="1.0" stroke-opacity="0.32"/>
<path d="M304.1 249.1Q354.7 276.3 403.4 282.6" stroke="#5aaebf" stroke-width="1.0" stroke-opacity="0.32"/>
<path d="M403.4 282.6Q452.2 288.9 499.1 274.3" stroke="#908490" stroke-width="1.0" stroke-opacity="0.32"/>
<path d="M499.1 274.3Q546.1 259.6 591.2 224.1" stroke="#c75c61" stroke-width="1.0" stroke-opacity="0.32"/>
<path d="M304.1 249.1Q348 217 393.2 204.2" stroke="#5aaebf" stroke-width="1.0" stroke-opacity="0.32"/>
<path d="M393.2 204.2Q438.4 191.5 484.8 198.2" stroke="#908490" stroke-width="1.0" stroke-opacity="0.32"/>
<path d="M484.8 198.2Q531.3 204.9 579 231" stroke="#c75c61" stroke-width="1.0" stroke-opacity="0.32"/>
<path d="M304.1 249.1Q356.2 278.6 406.9 286.2" stroke="#5aaebf" stroke-width="1.0" stroke-opacity="0.32"/>
<path d="M406.9 286.2Q457.6 293.9 506.8 279.6" stroke="#908490" stroke-width="1.0" stroke-opacity="0.32"/>
<path d="M506.8 279.6Q556 265.4 603.8 229.3" stroke="#c75c61" stroke-width="1.0" stroke-opacity="0.32"/>
<path d="M304.1 249.1Q350.7 280.6 397 290.6" stroke="#5aaebf" stroke-width="1.0" stroke-opacity="0.32"/>
<path d="M397 290.6Q443.4 300.6 489.3 289.1" stroke="#908490" stroke-width="1.0" stroke-opacity="0.32"/>
<path d="M489.3 289.1Q535.3 277.6 580.9 244.7" stroke="#c75c61" stroke-width="1.0" stroke-opacity="0.32"/>
<path d="M304.1 249.1Q353 213.8 402.5 201.3" stroke="#5aaebf" stroke-width="1.0" stroke-opacity="0.32"/>
<path d="M402.5 201.3Q452 188.8 502 198.9" stroke="#908490" stroke-width="1.0" stroke-opacity="0.32"/>
<path d="M502 198.9Q552 209.1 602.6 242" stroke="#c75c61" stroke-width="1.0" stroke-opacity="0.32"/>
<path d="M304.1 249.1Q352 281.4 400 292.4" stroke="#5aaebf" stroke-width="1.0" stroke-opacity="0.32"/>
<path d="M400 292.4Q448 303.3 496 292.8" stroke="#908490" stroke-width="1.0" stroke-opacity="0.32"/>
<path d="M496 292.8Q544.1 282.3 592.3 250.4" stroke="#c75c61" stroke-width="1.0" stroke-opacity="0.32"/>
<path d="M286.8 362.9Q294.9 367.5 302.7 368.7" stroke="#3fc2d6" stroke-width="0.8" stroke-opacity="0.38"/>
<path d="M302.7 368.7Q310.5 369.8 318 367.4" stroke="#3fc2d6" stroke-width="0.8" stroke-opacity="0.38"/>
<path d="M318 367.4Q325.6 365.1 332.8 359.2" stroke="#3fc2d6" stroke-width="0.8" stroke-opacity="0.38"/>
<path d="M286.8 362.9Q294.7 359.2 302 358.7" stroke="#3fc2d6" stroke-width="0.8" stroke-opacity="0.38"/>
<path d="M302 358.7Q309.4 358.3 316.2 361.1" stroke="#3fc2d6" stroke-width="0.8" stroke-opacity="0.38"/>
<path d="M316.2 361.1Q323 363.9 329.3 369.9" stroke="#3fc2d6" stroke-width="0.8" stroke-opacity="0.38"/>
<path d="M286.8 362.9Q294.8 369.2 303.2 371.9" stroke="#3fc2d6" stroke-width="0.8" stroke-opacity="0.38"/>
<path d="M303.2 371.9Q311.6 374.5 320.4 373.6" stroke="#3fc2d6" stroke-width="0.8" stroke-opacity="0.38"/>
<path d="M320.4 373.6Q329.2 372.6 338.3 368" stroke="#3fc2d6" stroke-width="0.8" stroke-opacity="0.38"/>
<path d="M286.8 362.9Q292.1 349.2 292.1 336.6" stroke="#41bad6" stroke-width="1.3" stroke-opacity="0.5"/>
<path d="M292.1 336.6Q292.1 324.1 286.8 312.7" stroke="#45a8d7" stroke-width="1.3" stroke-opacity="0.5"/>
<path d="M286.8 312.7Q281.4 301.4 270.8 291.2" stroke="#4998d8" stroke-width="1.3" stroke-opacity="0.5"/>
<path d="M286.8 362.9Q270.5 360.2 258.6 353" stroke="#41bad6" stroke-width="1.3" stroke-opacity="0.5"/>
<path d="M258.6 353Q246.6 345.8 238.8 334.2" stroke="#45a8d7" stroke-width="1.3" stroke-opacity="0.5"/>
<path d="M238.8 334.2Q231.1 322.5 227.6 306.4" stroke="#4998d8" stroke-width="1.3" stroke-opacity="0.5"/>
<path d="M286.8 362.9Q282.2 353.9 281.2 345.2" stroke="#41bad6" stroke-width="1.3" stroke-opacity="0.5"/>
<path d="M281.2 345.2Q280.2 336.5 282.7 328.1" stroke="#45a8d7" stroke-width="1.3" stroke-opacity="0.5"/>
<path d="M282.7 328.1Q285.2 319.8 291.3 311.7" stroke="#4998d8" stroke-width="1.3" stroke-opacity="0.5"/>
<path d="M286.8 362.9Q282.2 353.4 275.5 347.3" stroke="#41bad6" stroke-width="0.8" stroke-opacity="0.38"/>
<path d="M275.5 347.3Q268.9 341.3 260.3 338.7" stroke="#45a8d7" stroke-width="0.8" stroke-opacity="0.38"/>
<path d="M260.3 338.7Q251.8 336.2 241.2 337.1" stroke="#4998d8" stroke-width="0.8" stroke-opacity="0.38"/>
<path d="M286.8 362.9Q282.8 356.6 277.8 352.9" stroke="#41bad6" stroke-width="0.8" stroke-opacity="0.38"/>
<path d="M277.8 352.9Q272.7 349.2 266.5 348" stroke="#45a8d7" stroke-width="0.8" stroke-opacity="0.38"/>
<path d="M266.5 348Q260.3 346.8 253 348.1" stroke="#4998d8" stroke-width="0.8" stroke-opacity="0.38"/>
<path d="M286.8 362.9Q279.3 355.9 271.1 352.5" stroke="#41bad6" stroke-width="0.8" stroke-opacity="0.38"/>
<path d="M271.1 352.5Q262.9 349.1 254.1 349.3" stroke="#45a8d7" stroke-width="0.8" stroke-opacity="0.38"/>
<path d="M254.1 349.3Q245.2 349.5 235.7 353.3" stroke="#4998d8" stroke-width="0.8" stroke-opacity="0.38"/>
<path d="M286.8 362.9Q281.3 359.6 275.9 358.6" stroke="#41bad6" stroke-width="0.8" stroke-opacity="0.38"/>
<path d="M275.9 358.6Q270.5 357.7 265.2 359" stroke="#45a8d7" stroke-width="0.8" stroke-opacity="0.38"/>
<path d="M265.2 359Q259.9 360.3 254.6 363.9" stroke="#4998d8" stroke-width="0.8" stroke-opacity="0.38"/>
<path d="M286.8 362.9Q277.9 358.5 269.4 357.6" stroke="#41bad6" stroke-width="0.8" stroke-opacity="0.38"/>
<path d="M269.4 357.6Q260.8 356.7 252.6 359.2" stroke="#45a8d7" stroke-width="0.8" stroke-opacity="0.38"/>
<path d="M252.6 359.2Q244.4 361.8 236.5 367.8" stroke="#4998d8" stroke-width="0.8" stroke-opacity="0.38"/>
<path d="M286.8 362.9Q278.6 361.7 271.6 363.1" stroke="#41bad6" stroke-width="0.8" stroke-opacity="0.38"/>
<path d="M271.6 363.1Q264.6 364.5 258.8 368.7" stroke="#45a8d7" stroke-width="0.8" stroke-opacity="0.38"/>
<path d="M258.8 368.7Q253 372.8 248.3 379.6" stroke="#4998d8" stroke-width="0.8" stroke-opacity="0.38"/>
<path d="M332.8 359.2Q331 360.6 330 362.2" stroke="#3fc2d6"/>
<path d="M330 362.2Q329 363.9 328.8 365.8" stroke="#3fc2d6"/>
<path d="M328.8 365.8Q328.6 367.7 329.3 369.9" stroke="#3fc2d6"/>
<path d="M332.8 359.2Q332.8 361.3 333.3 362.9" stroke="#3fc2d6"/>
<path d="M333.3 362.9Q333.9 364.6 335.2 365.9" stroke="#3fc2d6"/>
<path d="M335.2 365.9Q336.4 367.1 338.3 368" stroke="#3fc2d6"/>
<path d="M332.8 359.2Q330 341 322.1 327.4" stroke="#41bad6" stroke-width="0.8" stroke-opacity="0.38"/>
<path d="M322.1 327.4Q314.3 313.8 301.5 304.7" stroke="#45a8d7" stroke-width="0.8" stroke-opacity="0.38"/>
<path d="M301.5 304.7Q288.6 295.7 270.8 291.2" stroke="#4998d8" stroke-width="0.8" stroke-opacity="0.38"/>
<path d="M329.3 369.9Q330.6 368.6 332 368" stroke="#3fc2d6"/>
<path d="M332 368Q333.5 367.3 335 367.3" stroke="#3fc2d6"/>
<path d="M335 367.3Q336.6 367.4 338.3 368" stroke="#3fc2d6"/>
<path d="M329.3 369.9Q310.8 374.6 294.9 372.5" stroke="#41bad6"/>
<path d="M294.9 372.5Q279 370.4 265.5 361.5" stroke="#45a8d7"/>
<path d="M265.5 361.5Q252.1 352.7 241.2 337.1" stroke="#4998d8"/>
<path d="M329.3 369.9Q311.2 381.5 293 385.5" stroke="#41bad6"/>
<path d="M293 385.5Q274.8 389.6 256.6 386" stroke="#45a8d7"/>
<path d="M256.6 386Q238.3 382.5 219.9 371.3" stroke="#4998d8"/>
<path d="M338.3 368Q319.6 353 299.9 346.5" stroke="#41bad6"/>
<path d="M299.9 346.5Q280.2 340.1 259.7 342.3" stroke="#45a8d7"/>
<path d="M259.7 342.3Q239.1 344.4 217.6 355.2" stroke="#4998d8"/>
<path d="M270.8 291.2Q265.2 298.2 258.5 302.3" stroke="#4b8fd8" stroke-width="1.3" stroke-opacity="0.5"/>
<path d="M258.5 302.3Q251.8 306.3 244.1 307.4" stroke="#4b8fd8" stroke-width="1.3" stroke-opacity="0.5"/>
<path d="M244.1 307.4Q236.4 308.4 227.6 306.4" stroke="#4b8fd8" stroke-width="1.3" stroke-opacity="0.5"/>
<path d="M270.8 291.2Q271.9 296.9 274.6 301.1" stroke="#4b8fd8" stroke-width="1.3" stroke-opacity="0.5"/>
<path d="M274.6 301.1Q277.2 305.3 281.4 307.9" stroke="#4b8fd8" stroke-width="1.3" stroke-opacity="0.5"/>
<path d="M281.4 307.9Q285.6 310.6 291.3 311.7" stroke="#4b8fd8" stroke-width="1.3" stroke-opacity="0.5"/>
<path d="M270.8 291.2Q268.4 304.3 262.5 314.1" stroke="#4b8fd8" stroke-width="0.8" stroke-opacity="0.4"/>
<path d="M262.5 314.1Q256.6 324 247.2 330.6" stroke="#4b8fd8" stroke-width="0.8" stroke-opacity="0.4"/>
<path d="M247.2 330.6Q237.8 337.3 225 340.7" stroke="#4b8fd8" stroke-width="0.8" stroke-opacity="0.4"/>
<path d="M270.8 291.2Q274 302.6 273.1 312.7" stroke="#4b8fd8" stroke-width="0.8" stroke-opacity="0.4"/>
<path d="M273.1 312.7Q272.1 322.9 267.1 331.7" stroke="#4b8fd8" stroke-width="0.8" stroke-opacity="0.4"/>
<path d="M267.1 331.7Q262.1 340.5 253 348.1" stroke="#4b8fd8" stroke-width="0.8" stroke-opacity="0.4"/>
<path d="M270.8 291.2Q268.7 307.5 262 320" stroke="#4b8fd8" stroke-width="0.8" stroke-opacity="0.4"/>
<path d="M262 320Q255.4 332.5 244.3 341.3" stroke="#4b8fd8" stroke-width="0.8" stroke-opacity="0.4"/>
<path d="M244.3 341.3Q233.2 350.1 217.6 355.2" stroke="#4b8fd8" stroke-width="0.8" stroke-opacity="0.4"/>
<path d="M270.8 291.2Q257.9 297.6 249.7 306.6" stroke="#4b8fd8" stroke-width="0.8" stroke-opacity="0.4"/>
<path d="M249.7 306.6Q241.5 315.6 238 327.3" stroke="#4b8fd8" stroke-width="0.8" stroke-opacity="0.4"/>
<path d="M238 327.3Q234.5 339 235.7 353.3" stroke="#4b8fd8" stroke-width="0.8" stroke-opacity="0.4"/>
<path d="M270.8 291.2Q271 310.1 265.4 325.3" stroke="#4b8fd8" stroke-width="0.8" stroke-opacity="0.4"/>
<path d="M265.4 325.3Q259.8 340.5 248.5 352" stroke="#4b8fd8" stroke-width="0.8" stroke-opacity="0.4"/>
<path d="M248.5 352Q237.1 363.5 219.9 371.3" stroke="#4b8fd8" stroke-width="0.8" stroke-opacity="0.4"/>
<path d="M270.8 291.2Q256.9 300.3 248.5 311.9" stroke="#4b8fd8" stroke-width="0.8" stroke-opacity="0.4"/>
<path d="M248.5 311.9Q240.1 323.4 237.1 337.4" stroke="#4b8fd8" stroke-width="0.8" stroke-opacity="0.4"/>
<path d="M237.1 337.4Q234.1 351.4 236.5 367.8" stroke="#4b8fd8" stroke-width="0.8" stroke-opacity="0.4"/>
<path d="M270.8 291.2Q257 303.4 249.9 317.2" stroke="#4b8fd8" stroke-width="0.8" stroke-opacity="0.4"/>
<path d="M249.9 317.2Q242.8 331.1 242.4 346.7" stroke="#4b8fd8" stroke-width="0.8" stroke-opacity="0.4"/>
<path d="M242.4 346.7Q242 362.3 248.3 379.6" stroke="#4b8fd8" stroke-width="0.8" stroke-opacity="0.4"/>
<path d="M270.8 291.2Q254.7 302.5 245 316.6" stroke="#4b8fd8" stroke-width="0.8" stroke-opacity="0.4"/>
<path d="M245 316.6Q235.3 330.6 232 347.4" stroke="#4b8fd8" stroke-width="0.8" stroke-opacity="0.4"/>
<path d="M232 347.4Q228.7 364.1 231.8 383.6" stroke="#4b8fd8" stroke-width="0.8" stroke-opacity="0.4"/>
<path d="M270.8 291.2Q238.8 285 211.1 289.6" stroke="#5889d7" stroke-width="0.8" stroke-opacity="0.38"/>
<path d="M211.1 289.6Q183.4 294.2 159.9 309.6" stroke="#747ed6" stroke-width="0.8" stroke-opacity="0.38"/>
<path d="M159.9 309.6Q136.4 325.1 117.2 351.4" stroke="#8e72d5" stroke-width="0.8" stroke-opacity="0.38"/>
<path d="M270.8 291.2Q261.1 313.3 246.6 327.8" stroke="#5889d7" stroke-width="0.8" stroke-opacity="0.38"/>
<path d="M246.6 327.8Q232.2 342.2 212.8 348.9" stroke="#747ed6" stroke-width="0.8" stroke-opacity="0.38"/>
<path d="M212.8 348.9Q193.5 355.6 169.4 354.6" stroke="#8e72d5" stroke-width="0.8" stroke-opacity="0.38"/>
<path d="M270.8 291.2Q288.4 293.8 303.2 290.4" stroke="#5d8ac4" stroke-width="0.8" stroke-opacity="0.38"/>
<path d="M303.2 290.4Q318 287.1 329.9 277.7" stroke="#82829d" stroke-width="0.8" stroke-opacity="0.38"/>
<path d="M329.9 277.7Q341.9 268.4 351 253.1" stroke="#a67876" stroke-width="0.8" stroke-opacity="0.38"/>
<path d="M227.6 306.4Q238.8 300.2 249.6 298.8" stroke="#4b8fd8" stroke-width="1.3" stroke-opacity="0.5"/>
<path d="M249.6 298.8Q260.4 297.3 270.9 300.5" stroke="#4b8fd8" stroke-width="1.3" stroke-opacity="0.5"/>
<path d="M270.9 300.5Q281.3 303.8 291.3 311.7" stroke="#4b8fd8" stroke-width="1.3" stroke-opacity="0.5"/>
<path d="M227.6 306.4Q223.6 311.8 222 317.5" stroke="#4b8fd8" stroke-width="0.8" stroke-opacity="0.4"/>
<path d="M222 317.5Q220.4 323.1 221.1 328.9" stroke="#4b8fd8" stroke-width="0.8" stroke-opacity="0.4"/>
<path d="M221.1 328.9Q221.9 334.7 225 340.7" stroke="#4b8fd8" stroke-width="0.8" stroke-opacity="0.4"/>
<path d="M227.6 306.4Q226.7 312.9 227.8 318.5" stroke="#4b8fd8" stroke-width="0.8" stroke-opacity="0.4"/>
<path d="M227.8 318.5Q229 324.1 232.4 328.8" stroke="#4b8fd8" stroke-width="0.8" stroke-opacity="0.4"/>
<path d="M232.4 328.8Q235.7 333.4 241.2 337.1" stroke="#4b8fd8" stroke-width="0.8" stroke-opacity="0.4"/>
<path d="M227.6 306.4Q236.3 310.6 242 316.7" stroke="#4b8fd8" stroke-width="0.8" stroke-opacity="0.4"/>
<path d="M242 316.7Q247.7 322.7 250.5 330.6" stroke="#4b8fd8" stroke-width="0.8" stroke-opacity="0.4"/>
<path d="M250.5 330.6Q253.2 338.4 253 348.1" stroke="#4b8fd8" stroke-width="0.8" stroke-opacity="0.4"/>
<path d="M227.6 306.4Q231.3 315.6 231.4 324.1" stroke="#4b8fd8" stroke-width="0.8" stroke-opacity="0.4"/>
<path d="M231.4 324.1Q231.5 332.6 228.1 340.4" stroke="#4b8fd8" stroke-width="0.8" stroke-opacity="0.4"/>
<path d="M228.1 340.4Q224.6 348.2 217.6 355.2" stroke="#4b8fd8" stroke-width="0.8" stroke-opacity="0.4"/>
<path d="M227.6 306.4Q238.6 312.9 245.3 321.5" stroke="#4b8fd8" stroke-width="0.8" stroke-opacity="0.4"/>
<path d="M245.3 321.5Q251.9 330.1 254.3 340.7" stroke="#4b8fd8" stroke-width="0.8" stroke-opacity="0.4"/>
<path d="M254.3 340.7Q256.6 351.3 254.6 363.9" stroke="#4b8fd8" stroke-width="0.8" stroke-opacity="0.4"/>
<path d="M227.6 306.4Q219.4 316.4 215.8 326.9" stroke="#4b8fd8" stroke-width="0.8" stroke-opacity="0.4"/>
<path d="M215.8 326.9Q212.2 337.5 213.3 348.6" stroke="#4b8fd8" stroke-width="0.8" stroke-opacity="0.4"/>
<path d="M213.3 348.6Q214.3 359.7 219.9 371.3" stroke="#4b8fd8" stroke-width="0.8" stroke-opacity="0.4"/>
<path d="M227.6 306.4Q222.6 317.6 221.9 328.1" stroke="#4b8fd8" stroke-width="0.8" stroke-opacity="0.4"/>
<path d="M221.9 328.1Q221.2 338.7 224.8 348.6" stroke="#4b8fd8" stroke-width="0.8" stroke-opacity="0.4"/>
<path d="M224.8 348.6Q228.5 358.5 236.5 367.8" stroke="#4b8fd8" stroke-width="0.8" stroke-opacity="0.4"/>
<path d="M227.6 306.4Q238.8 316.4 244.9 327.9" stroke="#4b8fd8" stroke-width="0.8" stroke-opacity="0.4"/>
<path d="M244.9 327.9Q250.9 339.3 251.8 352.3" stroke="#4b8fd8" stroke-width="0.8" stroke-opacity="0.4"/>
<path d="M251.8 352.3Q252.6 365.2 248.3 379.6" stroke="#4b8fd8" stroke-width="0.8" stroke-opacity="0.4"/>
<path d="M227.6 306.4Q236.9 318.8 240.5 331.5" stroke="#4b8fd8" stroke-width="0.8" stroke-opacity="0.4"/>
<path d="M240.5 331.5Q244.1 344.2 241.9 357.2" stroke="#4b8fd8" stroke-width="0.8" stroke-opacity="0.4"/>
<path d="M241.9 357.2Q239.7 370.3 231.8 383.6" stroke="#4b8fd8" stroke-width="0.8" stroke-opacity="0.4"/>
<path d="M227.6 306.4Q202.8 300.7 181 303.6" stroke="#5889d7" stroke-width="0.8" stroke-opacity="0.38"/>
<path d="M181 303.6Q159.2 306.5 140.5 318" stroke="#747ed6" stroke-width="0.8" stroke-opacity="0.38"/>
<path d="M140.5 318Q121.8 329.4 106.1 349.5" stroke="#8e72d5" stroke-width="0.8" stroke-opacity="0.38"/>
<path d="M227.6 306.4Q225.3 323.4 218.2 336" stroke="#5889d7" stroke-width="0.8" stroke-opacity="0.38"/>
<path d="M218.2 336Q211 348.6 199.1 356.7" stroke="#747ed6" stroke-width="0.8" stroke-opacity="0.38"/>
<path d="M199.1 356.7Q187.1 364.8 170.3 368.5" stroke="#8e72d5" stroke-width="0.8" stroke-opacity="0.38"/>
<path d="M291.3 311.7Q283.3 323.5 273.3 330.7" stroke="#4b8fd8" stroke-width="0.8" stroke-opacity="0.4"/>
<path d="M273.3 330.7Q263.2 337.8 251.2 340.3" stroke="#4b8fd8" stroke-width="0.8" stroke-opacity="0.4"/>
<path d="M251.2 340.3Q239.1 342.8 225 340.7" stroke="#4b8fd8" stroke-width="0.8" stroke-opacity="0.4"/>
<path d="M291.3 311.7Q280.2 310.6 271 313.1" stroke="#4b8fd8" stroke-width="0.8" stroke-opacity="0.4"/>
<path d="M271 313.1Q261.7 315.5 254.3 321.5" stroke="#4b8fd8" stroke-width="0.8" stroke-opacity="0.4"/>
<path d="M254.3 321.5Q246.8 327.5 241.2 337.1" stroke="#4b8fd8" stroke-width="0.8" stroke-opacity="0.4"/>
<path d="M291.3 311.7Q289.1 322.1 284.1 329.7" stroke="#4b8fd8" stroke-width="0.8" stroke-opacity="0.4"/>
<path d="M284.1 329.7Q279.1 337.2 271.3 341.8" stroke="#4b8fd8" stroke-width="0.8" stroke-opacity="0.4"/>
<path d="M271.3 341.8Q263.5 346.4 253 348.1" stroke="#4b8fd8" stroke-width="0.8" stroke-opacity="0.4"/>
<path d="M291.3 311.7Q286.6 324.7 278.8 333.6" stroke="#4b8fd8" stroke-width="0.8" stroke-opacity="0.4"/>
<path d="M278.8 333.6Q271 342.6 260.3 347.5" stroke="#4b8fd8" stroke-width="0.8" stroke-opacity="0.4"/>
<path d="M260.3 347.5Q249.5 352.4 235.7 353.3" stroke="#4b8fd8" stroke-width="0.8" stroke-opacity="0.4"/>
<path d="M291.3 311.7Q290.6 324.2 286.3 334.2" stroke="#4b8fd8" stroke-width="0.8" stroke-opacity="0.4"/>
<path d="M286.3 334.2Q282 344.2 274.1 351.6" stroke="#4b8fd8" stroke-width="0.8" stroke-opacity="0.4"/>
<path d="M274.1 351.6Q266.1 359 254.6 363.9" stroke="#4b8fd8" stroke-width="0.8" stroke-opacity="0.4"/>
<path d="M291.3 311.7Q288 326.8 280.9 338" stroke="#4b8fd8" stroke-width="0.8" stroke-opacity="0.4"/>
<path d="M280.9 338Q273.7 349.3 262.6 356.7" stroke="#4b8fd8" stroke-width="0.8" stroke-opacity="0.4"/>
<path d="M262.6 356.7Q251.5 364.2 236.5 367.8" stroke="#4b8fd8" stroke-width="0.8" stroke-opacity="0.4"/>
<path d="M291.3 311.7Q273.6 317.3 261.1 327.1" stroke="#4b8fd8" stroke-width="0.8" stroke-opacity="0.4"/>
<path d="M261.1 327.1Q248.6 337 241.3 351.1" stroke="#4b8fd8" stroke-width="0.8" stroke-opacity="0.4"/>
<path d="M241.3 351.1Q234 365.2 231.8 383.6" stroke="#4b8fd8" stroke-width="0.8" stroke-opacity="0.4"/>
<path d="M291.3 311.7Q265.1 308.4 243 313.6" stroke="#5889d7" stroke-width="0.8" stroke-opacity="0.38"/>
<path d="M243 313.6Q220.8 318.9 202.7 332.6" stroke="#747ed6" stroke-width="0.8" stroke-opacity="0.38"/>
<path d="M202.7 332.6Q184.5 346.3 170.3 368.5" stroke="#8e72d5" stroke-width="0.8" stroke-opacity="0.38"/>
<path d="M291.3 311.7Q310.1 307.2 323.7 297.9" stroke="#5d8ac4" stroke-width="0.8" stroke-opacity="0.38"/>
<path d="M323.7 297.9Q337.4 288.5 345.9 274.3" stroke="#82829d" stroke-width="0.8" stroke-opacity="0.38"/>
<path d="M345.9 274.3Q354.4 260.1 357.7 241.1" stroke="#a67876" stroke-width="0.8" stroke-opacity="0.38"/>
<path d="M291.3 311.7Q323.8 316.3 351.3 310.1" stroke="#6483c0" stroke-width="1.3" stroke-opacity="0.5"/>
<path d="M351.3 310.1Q378.7 303.9 401.3 287" stroke="#966b91" stroke-width="1.3" stroke-opacity="0.5"/>
<path d="M401.3 287Q423.8 270 441.3 242.3" stroke="#c95362" stroke-width="1.3" stroke-opacity="0.5"/>
<path d="M225 340.7Q225.4 343.9 224.7 346.6" stroke="#4b8fd8" stroke-opacity="0.4"/>
<path d="M224.7 346.6Q224 349.3 222.2 351.5" stroke="#4b8fd8" stroke-opacity="0.4"/>
<path d="M222.2 351.5Q220.5 353.6 217.6 355.2" stroke="#4b8fd8" stroke-opacity="0.4"/>
<path d="M225 340.7Q232.5 341.3 238.3 344.1" stroke="#4b8fd8" stroke-opacity="0.4"/>
<path d="M238.3 344.1Q244.1 346.9 248.1 351.8" stroke="#4b8fd8" stroke-opacity="0.4"/>
<path d="M248.1 351.8Q252.2 356.8 254.6 363.9" stroke="#4b8fd8" stroke-opacity="0.4"/>
<path d="M225 340.7Q220.9 345.3 219 350.2" stroke="#4b8fd8" stroke-opacity="0.4"/>
<path d="M219 350.2Q217.1 355.1 217.3 360.4" stroke="#4b8fd8" stroke-opacity="0.4"/>
<path d="M217.3 360.4Q217.5 365.7 219.9 371.3" stroke="#4b8fd8" stroke-opacity="0.4"/>
<path d="M225 340.7Q223.9 346.5 224.8 351.4" stroke="#4b8fd8" stroke-opacity="0.4"/>
<path d="M224.8 351.4Q225.7 356.4 228.6 360.5" stroke="#4b8fd8" stroke-opacity="0.4"/>
<path d="M228.6 360.5Q231.6 364.6 236.5 367.8" stroke="#4b8fd8" stroke-opacity="0.4"/>
<path d="M225 340.7Q233.2 344.6 238.5 350.3" stroke="#4b8fd8" stroke-opacity="0.4"/>
<path d="M238.5 350.3Q243.8 355.9 246.2 363.2" stroke="#4b8fd8" stroke-opacity="0.4"/>
<path d="M246.2 363.2Q248.7 370.6 248.3 379.6" stroke="#4b8fd8" stroke-opacity="0.4"/>
<path d="M225 340.7Q231 347.1 233.8 354" stroke="#4b8fd8" stroke-opacity="0.4"/>
<path d="M233.8 354Q236.6 360.9 236.1 368.3" stroke="#4b8fd8" stroke-opacity="0.4"/>
<path d="M236.1 368.3Q235.6 375.7 231.8 383.6" stroke="#4b8fd8" stroke-opacity="0.4"/>
<path d="M241.2 337.1Q242 340.2 243.5 342.5" stroke="#4b8fd8" stroke-opacity="0.4"/>
<path d="M243.5 342.5Q245.1 344.8 247.5 346.2" stroke="#4b8fd8" stroke-opacity="0.4"/>
<path d="M247.5 346.2Q249.8 347.6 253 348.1" stroke="#4b8fd8" stroke-opacity="0.4"/>
<path d="M241.2 337.1Q239.4 342.9 236.1 346.8" stroke="#4b8fd8" stroke-opacity="0.4"/>
<path d="M236.1 346.8Q232.9 350.7 228.3 352.8" stroke="#4b8fd8" stroke-opacity="0.4"/>
<path d="M228.3 352.8Q223.6 354.9 217.6 355.2" stroke="#4b8fd8" stroke-opacity="0.4"/>
<path d="M241.2 337.1Q242.1 340.4 241.8 343.3" stroke="#4b8fd8" stroke-opacity="0.4"/>
<path d="M241.8 343.3Q241.5 346.2 240 348.7" stroke="#4b8fd8" stroke-opacity="0.4"/>
<path d="M240 348.7Q238.5 351.2 235.7 353.3" stroke="#4b8fd8" stroke-opacity="0.4"/>
<path d="M241.2 337.1Q241.4 345.2 239.1 351.6" stroke="#4b8fd8" stroke-opacity="0.4"/>
<path d="M239.1 351.6Q236.8 358.1 232 363" stroke="#4b8fd8" stroke-opacity="0.4"/>
<path d="M232 363Q227.2 368 219.9 371.3" stroke="#4b8fd8" stroke-opacity="0.4"/>
<path d="M241.2 337.1Q243.8 342.7 244.2 348" stroke="#4b8fd8" stroke-opacity="0.4"/>
<path d="M244.2 348Q244.6 353.3 242.6 358.3" stroke="#4b8fd8" stroke-opacity="0.4"/>
<path d="M242.6 358.3Q240.7 363.2 236.5 367.8" stroke="#4b8fd8" stroke-opacity="0.4"/>
<path d="M241.2 337.1Q237.6 345 237.1 352.3" stroke="#4b8fd8" stroke-opacity="0.4"/>
<path d="M237.1 352.3Q236.7 359.7 239.5 366.5" stroke="#4b8fd8" stroke-opacity="0.4"/>
<path d="M239.5 366.5Q242.3 373.3 248.3 379.6" stroke="#4b8fd8" stroke-opacity="0.4"/>
<path d="M241.2 337.1Q234.4 343.8 231.1 351.2" stroke="#4b8fd8" stroke-opacity="0.4"/>
<path d="M231.1 351.2Q227.8 358.6 228 366.7" stroke="#4b8fd8" stroke-opacity="0.4"/>
<path d="M228 366.7Q228.2 374.8 231.8 383.6" stroke="#4b8fd8" stroke-opacity="0.4"/>
<path d="M241.2 337.1Q232.7 349.8 222 357.5" stroke="#5889d7"/>
<path d="M222 357.5Q211.3 365.2 198.3 368" stroke="#747ed6"/>
<path d="M198.3 368Q185.4 370.7 170.3 368.5" stroke="#8e72d5"/>
<path d="M253 348.1Q246.4 345.6 240.2 345.5" stroke="#4b8fd8" stroke-opacity="0.4"/>
<path d="M240.2 345.5Q234.1 345.5 228.4 347.9" stroke="#4b8fd8" stroke-opacity="0.4"/>
<path d="M228.4 347.9Q222.8 350.3 217.6 355.2" stroke="#4b8fd8" stroke-opacity="0.4"/>
<path d="M253 348.1Q249.6 347.1 246.5 347.4" stroke="#4b8fd8" stroke-opacity="0.4"/>
<path d="M246.5 347.4Q243.4 347.6 240.7 349.1" stroke="#4b8fd8" stroke-opacity="0.4"/>
<path d="M240.7 349.1Q238 350.6 235.7 353.3" stroke="#4b8fd8" stroke-opacity="0.4"/>
<path d="M253 348.1Q251.5 350.9 251.1 353.6" stroke="#4b8fd8" stroke-opacity="0.4"/>
<path d="M251.1 353.6Q250.8 356.3 251.7 358.9" stroke="#4b8fd8" stroke-opacity="0.4"/>
<path d="M251.7 358.9Q252.5 361.5 254.6 363.9" stroke="#4b8fd8" stroke-opacity="0.4"/>
<path d="M253 348.1Q250 355.6 245.3 360.7" stroke="#4b8fd8" stroke-opacity="0.4"/>
<path d="M245.3 360.7Q240.7 365.7 234.3 368.4" stroke="#4b8fd8" stroke-opacity="0.4"/>
<path d="M234.3 368.4Q227.9 371 219.9 371.3" stroke="#4b8fd8" stroke-opacity="0.4"/>
<path d="M253 348.1Q248.9 352.9 247 357.9" stroke="#4b8fd8" stroke-opacity="0.4"/>
<path d="M247 357.9Q245.1 363 245.4 368.4" stroke="#4b8fd8" stroke-opacity="0.4"/>
<path d="M245.4 368.4Q245.8 373.9 248.3 379.6" stroke="#4b8fd8" stroke-opacity="0.4"/>
<path d="M217.6 355.2Q216.2 358.1 215.9 360.9" stroke="#4b8fd8" stroke-opacity="0.4"/>
<path d="M215.9 360.9Q215.7 363.7 216.7 366.3" stroke="#4b8fd8" stroke-opacity="0.4"/>
<path d="M216.7 366.3Q217.7 368.9 219.9 371.3" stroke="#4b8fd8" stroke-opacity="0.4"/>
<path d="M217.6 355.2Q219.4 359.3 222.2 362" stroke="#4b8fd8" stroke-opacity="0.4"/>
<path d="M222.2 362Q224.9 364.8 228.5 366.2" stroke="#4b8fd8" stroke-opacity="0.4"/>
<path d="M228.5 366.2Q232 367.7 236.5 367.8" stroke="#4b8fd8" stroke-opacity="0.4"/>
<path d="M217.6 355.2Q216.8 361.5 218.2 366.8" stroke="#4b8fd8" stroke-opacity="0.4"/>
<path d="M218.2 366.8Q219.5 372 222.9 376.2" stroke="#4b8fd8" stroke-opacity="0.4"/>
<path d="M222.9 376.2Q226.3 380.4 231.8 383.6" stroke="#4b8fd8" stroke-opacity="0.4"/>
<path d="M235.7 353.3Q237.7 357.1 240.5 359.5" stroke="#4b8fd8" stroke-opacity="0.4"/>
<path d="M240.5 359.5Q243.3 362 246.8 363.1" stroke="#4b8fd8" stroke-opacity="0.4"/>
<path d="M246.8 363.1Q250.3 364.2 254.6 363.9" stroke="#4b8fd8" stroke-opacity="0.4"/>
<path d="M235.7 353.3Q235 358 233 361.5" stroke="#4b8fd8" stroke-opacity="0.4"/>
<path d="M233 361.5Q231 365.1 227.7 367.5" stroke="#4b8fd8" stroke-opacity="0.4"/>
<path d="M227.7 367.5Q224.4 370 219.9 371.3" stroke="#4b8fd8" stroke-opacity="0.4"/>
<path d="M235.7 353.3Q231.8 357.9 230 362.8" stroke="#4b8fd8" stroke-opacity="0.4"/>
<path d="M230 362.8Q228.3 367.7 228.7 372.9" stroke="#4b8fd8" stroke-opacity="0.4"/>
<path d="M228.7 372.9Q229.2 378.1 231.8 383.6" stroke="#4b8fd8" stroke-opacity="0.4"/>
<path d="M235.7 353.3Q224.8 361 213.8 363.7" stroke="#5889d7"/>
<path d="M213.8 363.7Q202.8 366.4 191.7 364.1" stroke="#747ed6"/>
<path d="M191.7 364.1Q180.6 361.9 169.4 354.6" stroke="#8e72d5"/>
<path d="M235.7 353.3Q226.4 362.7 216 367.5" stroke="#5889d7"/>
<path d="M216 367.5Q205.7 372.3 194.2 372.6" stroke="#747ed6"/>
<path d="M194.2 372.6Q182.8 372.8 170.3 368.5" stroke="#8e72d5"/>
<path d="M254.6 363.9Q251.2 362.6 248 362.6" stroke="#4b8fd8" stroke-opacity="0.4"/>
<path d="M248 362.6Q244.8 362.5 242 363.9" stroke="#4b8fd8" stroke-opacity="0.4"/>
<path d="M242 363.9Q239.1 365.2 236.5 367.8" stroke="#4b8fd8" stroke-opacity="0.4"/>
<path d="M254.6 363.9Q240.1 355.9 225.9 353.7" stroke="#5889d7"/>
<path d="M225.9 353.7Q211.6 351.5 197.8 355.2" stroke="#747ed6"/>
<path d="M197.8 355.2Q183.9 358.9 170.3 368.5" stroke="#8e72d5"/>
<path d="M219.9 371.3Q225.5 369.6 230.6 369.9" stroke="#4b8fd8" stroke-opacity="0.4"/>
<path d="M230.6 369.9Q235.6 370.3 240 372.7" stroke="#4b8fd8" stroke-opacity="0.4"/>
<path d="M240 372.7Q244.5 375.1 248.3 379.6" stroke="#4b8fd8" stroke-opacity="0.4"/>
<path d="M219.9 371.3Q211.9 365.3 203.8 363" stroke="#5889d7"/>
<path d="M203.8 363Q195.6 360.7 187.2 362.1" stroke="#747ed6"/>
<path d="M187.2 362.1Q178.9 363.4 170.3 368.5" stroke="#8e72d5"/>
<path d="M236.5 367.8Q239.8 368.4 242.2 369.9" stroke="#4b8fd8" stroke-opacity="0.4"/>
<path d="M242.2 369.9Q244.6 371.5 246.2 373.9" stroke="#4b8fd8" stroke-opacity="0.4"/>
<path d="M246.2 373.9Q247.7 376.3 248.3 379.6" stroke="#4b8fd8" stroke-opacity="0.4"/>
<path d="M236.5 367.8Q237.5 371 237.3 373.8" stroke="#4b8fd8" stroke-opacity="0.4"/>
<path d="M237.3 373.8Q237.1 376.6 235.7 379" stroke="#4b8fd8" stroke-opacity="0.4"/>
<path d="M235.7 379Q234.4 381.5 231.8 383.6" stroke="#4b8fd8" stroke-opacity="0.4"/>
<path d="M236.5 367.8Q226.8 358 216.1 353.3" stroke="#5889d7"/>
<path d="M216.1 353.3Q205.4 348.5 193.8 348.9" stroke="#747ed6"/>
<path d="M193.8 348.9Q182.1 349.2 169.4 354.6" stroke="#8e72d5"/>
<path d="M236.5 367.8Q225.5 374.9 214.5 377.3" stroke="#5889d7"/>
<path d="M214.5 377.3Q203.5 379.7 192.5 377.5" stroke="#747ed6"/>
<path d="M192.5 377.5Q181.4 375.3 170.3 368.5" stroke="#8e72d5"/>
<path d="M248.3 379.6Q246 382.1 243.4 383.4" stroke="#4b8fd8" stroke-opacity="0.4"/>
<path d="M243.4 383.4Q240.8 384.7 237.9 384.8" stroke="#4b8fd8" stroke-opacity="0.4"/>
<path d="M237.9 384.8Q235 384.8 231.8 383.6" stroke="#4b8fd8" stroke-opacity="0.4"/>
<path d="M248.3 379.6Q226.9 364.8 205.3 359.4" stroke="#5889d7"/>
<path d="M205.3 359.4Q183.6 354 161.6 357.9" stroke="#747ed6"/>
<path d="M161.6 357.9Q139.5 361.8 117.2 375" stroke="#8e72d5"/>
<path d="M248.3 379.6Q232.3 384.4 218.2 383.3" stroke="#5889d7"/>
<path d="M218.2 383.3Q204.1 382.1 191.9 374.9" stroke="#747ed6"/>
<path d="M191.9 374.9Q179.7 367.8 169.4 354.6" stroke="#8e72d5"/>
<path d="M248.3 379.6Q236.6 368.7 224 363.8" stroke="#5889d7"/>
<path d="M224 363.8Q211.5 358.9 198 360.1" stroke="#747ed6"/>
<path d="M198 360.1Q184.6 361.3 170.3 368.5" stroke="#8e72d5"/>
<path d="M231.8 383.6Q209.3 393 188.3 393.8" stroke="#5889d7"/>
<path d="M188.3 393.8Q167.4 394.5 148 386.6" stroke="#747ed6"/>
<path d="M148 386.6Q128.6 378.6 110.7 362" stroke="#8e72d5"/>
<path d="M231.8 383.6Q218.1 385.8 206.7 383.3" stroke="#5889d7"/>
<path d="M206.7 383.3Q195.2 380.8 185.9 373.6" stroke="#747ed6"/>
<path d="M185.9 373.6Q176.5 366.4 169.4 354.6" stroke="#8e72d5"/>
<path d="M231.8 383.6Q220 387.5 209.2 387.1" stroke="#5889d7"/>
<path d="M209.2 387.1Q198.4 386.7 188.7 382.1" stroke="#747ed6"/>
<path d="M188.7 382.1Q179 377.4 170.3 368.5" stroke="#8e72d5"/>
<path d="M106.1 349.5Q105.4 352.1 105.7 354.4" stroke="#9c6cd4" stroke-width="0.9" stroke-opacity="0.45"/>
<path d="M105.7 354.4Q106 356.6 107.3 358.5" stroke="#9c6cd4" stroke-width="0.9" stroke-opacity="0.45"/>
<path d="M107.3 358.5Q108.5 360.4 110.7 362" stroke="#9c6cd4" stroke-width="0.9" stroke-opacity="0.45"/>
<path d="M106.1 349.5Q110.3 350 113.6 351.6" stroke="#9c6cd4" stroke-width="0.9" stroke-opacity="0.45"/>
<path d="M113.6 351.6Q117 353.3 119.3 356.1" stroke="#9c6cd4" stroke-width="0.9" stroke-opacity="0.45"/>
<path d="M119.3 356.1Q121.7 358.9 123.2 362.9" stroke="#9c6cd4" stroke-width="0.9" stroke-opacity="0.45"/>
<path d="M106.1 349.5Q108.8 353.6 109.8 357.7" stroke="#9c6cd4" stroke-width="0.9" stroke-opacity="0.45"/>
<path d="M109.8 357.7Q110.7 361.8 109.8 365.9" stroke="#9c6cd4" stroke-width="0.9" stroke-opacity="0.45"/>
<path d="M109.8 365.9Q108.8 370 106.1 374.1" stroke="#9c6cd4" stroke-width="0.9" stroke-opacity="0.45"/>
<path d="M106.1 349.5Q105 355 105.9 359.7" stroke="#9c6cd4" stroke-width="0.9" stroke-opacity="0.45"/>
<path d="M105.9 359.7Q106.7 364.4 109.6 368.2" stroke="#9c6cd4" stroke-width="0.9" stroke-opacity="0.45"/>
<path d="M109.6 368.2Q112.4 372 117.2 375" stroke="#9c6cd4" stroke-width="0.9" stroke-opacity="0.45"/>
<path d="M106.1 349.5Q118.8 345.8 130.2 346.7" stroke="#9c6cd4" stroke-width="0.9" stroke-opacity="0.45"/>
<path d="M130.2 346.7Q141.6 347.6 151.6 353.1" stroke="#9c6cd4" stroke-width="0.9" stroke-opacity="0.45"/>
<path d="M151.6 353.1Q161.6 358.5 170.3 368.5" stroke="#9c6cd4" stroke-width="0.9" stroke-opacity="0.45"/>
<path d="M117.2 351.4Q117.3 353.9 116.6 355.9" stroke="#9c6cd4" stroke-width="0.9" stroke-opacity="0.45"/>
<path d="M116.6 355.9Q116 357.9 114.5 359.5" stroke="#9c6cd4" stroke-width="0.9" stroke-opacity="0.45"/>
<path d="M114.5 359.5Q113 361 110.7 362" stroke="#9c6cd4" stroke-width="0.9" stroke-opacity="0.45"/>
<path d="M117.2 351.4Q119.5 352.6 121 354.3" stroke="#9c6cd4" stroke-width="0.9" stroke-opacity="0.45"/>
<path d="M121 354.3Q122.4 356 123 358.1" stroke="#9c6cd4" stroke-width="0.9" stroke-opacity="0.45"/>
<path d="M123 358.1Q123.5 360.3 123.2 362.9" stroke="#9c6cd4" stroke-width="0.9" stroke-opacity="0.45"/>
<path d="M117.2 351.4Q119.8 355.3 120.6 359.3" stroke="#9c6cd4" stroke-width="0.9" stroke-opacity="0.45"/>
<path d="M120.6 359.3Q121.5 363.2 120.6 367.1" stroke="#9c6cd4" stroke-width="0.9" stroke-opacity="0.45"/>
<path d="M120.6 367.1Q119.8 371.1 117.2 375" stroke="#9c6cd4" stroke-width="0.9" stroke-opacity="0.45"/>
<path d="M117.2 351.4Q126.2 346.3 135.1 344.9" stroke="#9c6cd4" stroke-width="0.9" stroke-opacity="0.45"/>
<path d="M135.1 344.9Q143.9 343.6 152.5 346" stroke="#9c6cd4" stroke-width="0.9" stroke-opacity="0.45"/>
<path d="M152.5 346Q161 348.4 169.4 354.6" stroke="#9c6cd4" stroke-width="0.9" stroke-opacity="0.45"/>
<path d="M117.2 351.4Q127.8 348.7 137.3 349.7" stroke="#9c6cd4" stroke-width="0.9" stroke-opacity="0.45"/>
<path d="M137.3 349.7Q146.7 350.7 155 355.4" stroke="#9c6cd4" stroke-width="0.9" stroke-opacity="0.45"/>
<path d="M155 355.4Q163.2 360.1 170.3 368.5" stroke="#9c6cd4" stroke-width="0.9" stroke-opacity="0.45"/>
<path d="M110.7 362Q112.7 363.4 114.7 364" stroke="#9c6cd4" stroke-width="0.9" stroke-opacity="0.45"/>
<path d="M114.7 364Q116.8 364.6 118.9 364.3" stroke="#9c6cd4" stroke-width="0.9" stroke-opacity="0.45"/>
<path d="M118.9 364.3Q121 364 123.2 362.9" stroke="#9c6cd4" stroke-width="0.9" stroke-opacity="0.45"/>
<path d="M110.7 362Q111.3 364.5 111 366.7" stroke="#9c6cd4" stroke-width="0.9" stroke-opacity="0.45"/>
<path d="M111 366.7Q110.7 368.9 109.5 370.8" stroke="#9c6cd4" stroke-width="0.9" stroke-opacity="0.45"/>
<path d="M109.5 370.8Q108.2 372.6 106.1 374.1" stroke="#9c6cd4" stroke-width="0.9" stroke-opacity="0.45"/>
<path d="M110.7 362Q110.3 364.9 110.9 367.3" stroke="#9c6cd4" stroke-width="0.9" stroke-opacity="0.45"/>
<path d="M110.9 367.3Q111.5 369.7 113.1 371.7" stroke="#9c6cd4" stroke-width="0.9" stroke-opacity="0.45"/>
<path d="M113.1 371.7Q114.6 373.6 117.2 375" stroke="#9c6cd4" stroke-width="0.9" stroke-opacity="0.45"/>
<path d="M110.7 362Q121.3 367.6 131.4 368.7" stroke="#9c6cd4" stroke-width="0.9" stroke-opacity="0.45"/>
<path d="M131.4 368.7Q141.5 369.7 151 366.2" stroke="#9c6cd4" stroke-width="0.9" stroke-opacity="0.45"/>
<path d="M151 366.2Q160.5 362.7 169.4 354.6" stroke="#9c6cd4" stroke-width="0.9" stroke-opacity="0.45"/>
<path d="M123.2 362.9Q131.8 366.8 139.9 367.1" stroke="#9c6cd4" stroke-width="0.9" stroke-opacity="0.45"/>
<path d="M139.9 367.1Q147.9 367.5 155.3 364.4" stroke="#9c6cd4" stroke-width="0.9" stroke-opacity="0.45"/>
<path d="M155.3 364.4Q162.6 361.2 169.4 354.6" stroke="#9c6cd4" stroke-width="0.9" stroke-opacity="0.45"/>
<path d="M123.2 362.9Q131.6 358.8 139.7 358.1" stroke="#9c6cd4" stroke-width="0.9" stroke-opacity="0.45"/>
<path d="M139.7 358.1Q147.7 357.3 155.4 359.9" stroke="#9c6cd4" stroke-width="0.9" stroke-opacity="0.45"/>
<path d="M155.4 359.9Q163 362.5 170.3 368.5" stroke="#9c6cd4" stroke-width="0.9" stroke-opacity="0.45"/>
<path d="M106.1 374.1Q108 373 109.9 372.8" stroke="#9c6cd4" stroke-width="0.9" stroke-opacity="0.45"/>
<path d="M109.9 372.8Q111.8 372.5 113.6 373.1" stroke="#9c6cd4" stroke-width="0.9" stroke-opacity="0.45"/>
<path d="M113.6 373.1Q115.4 373.6 117.2 375" stroke="#9c6cd4" stroke-width="0.9" stroke-opacity="0.45"/>
<path d="M106.1 374.1Q116.2 366.4 126.7 363.2" stroke="#9c6cd4" stroke-width="0.9" stroke-opacity="0.45"/>
<path d="M126.7 363.2Q137.2 360.1 148.1 361.4" stroke="#9c6cd4" stroke-width="0.9" stroke-opacity="0.45"/>
<path d="M148.1 361.4Q159 362.7 170.3 368.5" stroke="#9c6cd4" stroke-width="0.9" stroke-opacity="0.45"/>
<path d="M169.4 354.6Q171.1 356.8 171.8 359.1" stroke="#9c6cd4" stroke-width="0.9" stroke-opacity="0.45"/>
<path d="M171.8 359.1Q172.5 361.4 172.1 363.7" stroke="#9c6cd4" stroke-width="0.9" stroke-opacity="0.45"/>
<path d="M172.1 363.7Q171.7 366.1 170.3 368.5" stroke="#9c6cd4" stroke-width="0.9" stroke-opacity="0.45"/>
<path d="M357.7 241.1Q355.3 242.4 353.7 244.1" stroke="#b87462"/>
<path d="M353.7 244.1Q352.2 245.9 351.5 248.1" stroke="#b87462"/>
<path d="M351.5 248.1Q350.8 250.4 351 253.1" stroke="#b87462"/>
<path d="M357.7 241.1Q356.7 244.3 356.9 247.1" stroke="#b87462"/>
<path d="M356.9 247.1Q357.1 250 358.5 252.4" stroke="#b87462"/>
<path d="M358.5 252.4Q359.9 254.9 362.5 257" stroke="#b87462"/>
<path d="M357.7 241.1Q371.5 250.9 385.4 254.3" stroke="#bf6c5e" stroke-width="0.8" stroke-opacity="0.38"/>
<path d="M385.4 254.3Q399.3 257.7 413.2 254.7" stroke="#cd5e56" stroke-width="0.8" stroke-opacity="0.38"/>
<path d="M413.2 254.7Q427.2 251.7 441.3 242.3" stroke="#db4e4e" stroke-width="0.8" stroke-opacity="0.38"/>
<path d="M357.7 241.1Q389.6 263.5 421.8 271.3" stroke="#bf6c5e"/>
<path d="M421.8 271.3Q453.9 279.1 486.3 272.1" stroke="#cd5e56"/>
<path d="M486.3 272.1Q518.6 265.2 551.1 243.6" stroke="#db4e4e"/>
<path d="M351 253.1Q353.4 252.4 355.4 252.6" stroke="#b87462"/>
<path d="M355.4 252.6Q357.5 252.8 359.3 253.9" stroke="#b87462"/>
<path d="M359.3 253.9Q361 255 362.5 257" stroke="#b87462"/>
<path d="M351 253.1Q364.8 241 379.5 235.8" stroke="#bf6c5e" stroke-width="0.8" stroke-opacity="0.38"/>
<path d="M379.5 235.8Q394.1 230.6 409.6 232.2" stroke="#cd5e56" stroke-width="0.8" stroke-opacity="0.38"/>
<path d="M409.6 232.2Q425 233.8 441.3 242.3" stroke="#db4e4e" stroke-width="0.8" stroke-opacity="0.38"/>
<path d="M362.5 257Q377.3 263.5 391 264" stroke="#bf6c5e" stroke-width="0.8" stroke-opacity="0.38"/>
<path d="M391 264Q404.7 264.5 417.2 259.1" stroke="#cd5e56" stroke-width="0.8" stroke-opacity="0.38"/>
<path d="M417.2 259.1Q429.8 253.7 441.3 242.3" stroke="#db4e4e" stroke-width="0.8" stroke-opacity="0.38"/>
<path d="M362.5 257Q385.2 240 408.6 233.2" stroke="#bf6c5e"/>
<path d="M408.6 233.2Q432 226.4 456.1 229.7" stroke="#cd5e56"/>
<path d="M456.1 229.7Q480.3 233 505.2 246.5" stroke="#db4e4e"/>
<path d="M362.5 257Q404.1 275.5 443.3 278" stroke="#bf6c5e"/>
<path d="M443.3 278Q482.6 280.5 519.6 267.1" stroke="#cd5e56"/>
<path d="M519.6 267.1Q556.5 253.6 591.2 224.1" stroke="#db4e4e"/>
<path d="M441.3 242.3Q453.5 247 464.6 246.9" stroke="#e2474a" stroke-width="0.8" stroke-opacity="0.38"/>
<path d="M464.6 246.9Q475.6 246.7 485.5 241.8" stroke="#e2474a" stroke-width="0.8" stroke-opacity="0.38"/>
<path d="M485.5 241.8Q495.4 236.8 504.1 227" stroke="#e2474a" stroke-width="0.8" stroke-opacity="0.38"/>
<path d="M441.3 242.3Q451.5 247.4 461.3 248.4" stroke="#e2474a" stroke-width="0.8" stroke-opacity="0.38"/>
<path d="M461.3 248.4Q471.1 249.4 480.5 246.4" stroke="#e2474a" stroke-width="0.8" stroke-opacity="0.38"/>
<path d="M480.5 246.4Q489.9 243.3 498.8 236.2" stroke="#e2474a" stroke-width="0.8" stroke-opacity="0.38"/>
<path d="M441.3 242.3Q453.6 249 465.4 250.6" stroke="#e2474a" stroke-width="0.8" stroke-opacity="0.38"/>
<path d="M465.4 250.6Q477.2 252.2 488.6 248.6" stroke="#e2474a" stroke-width="0.8" stroke-opacity="0.38"/>
<path d="M488.6 248.6Q500 245 510.9 236.2" stroke="#e2474a" stroke-width="0.8" stroke-opacity="0.38"/>
<path d="M441.3 242.3Q457.2 226.8 474.6 219.4" stroke="#e2474a" stroke-width="0.8" stroke-opacity="0.38"/>
<path d="M474.6 219.4Q491.9 212.1 510.8 213" stroke="#e2474a" stroke-width="0.8" stroke-opacity="0.38"/>
<path d="M510.8 213Q529.6 213.8 549.9 222.9" stroke="#e2474a" stroke-width="0.8" stroke-opacity="0.38"/>
<path d="M441.3 242.3Q459.5 252.9 477.2 255.6" stroke="#e2474a" stroke-width="0.8" stroke-opacity="0.38"/>
<path d="M477.2 255.6Q494.8 258.2 511.8 253" stroke="#e2474a" stroke-width="0.8" stroke-opacity="0.38"/>
<path d="M511.8 253Q528.9 247.7 545.3 234.4" stroke="#e2474a" stroke-width="0.8" stroke-opacity="0.38"/>
<path d="M441.3 242.3Q459.7 230.7 478.1 227" stroke="#e2474a" stroke-width="0.8" stroke-opacity="0.38"/>
<path d="M478.1 227Q496.4 223.3 514.7 227.4" stroke="#e2474a" stroke-width="0.8" stroke-opacity="0.38"/>
<path d="M514.7 227.4Q532.9 231.6 551.1 243.6" stroke="#e2474a" stroke-width="0.8" stroke-opacity="0.38"/>
<path d="M441.3 242.3Q461.6 222.2 483.7 212.9" stroke="#e2474a" stroke-width="0.8" stroke-opacity="0.38"/>
<path d="M483.7 212.9Q505.9 203.5 529.9 204.9" stroke="#e2474a" stroke-width="0.8" stroke-opacity="0.38"/>
<path d="M529.9 204.9Q553.8 206.2 579.7 218.3" stroke="#e2474a" stroke-width="0.8" stroke-opacity="0.38"/>
<path d="M441.3 242.3Q463 225 485.5 218" stroke="#e2474a" stroke-width="0.8" stroke-opacity="0.38"/>
<path d="M485.5 218Q508 211 531.4 214.2" stroke="#e2474a" stroke-width="0.8" stroke-opacity="0.38"/>
<path d="M531.4 214.2Q554.8 217.5 579 231" stroke="#e2474a" stroke-width="0.8" stroke-opacity="0.38"/>
<path d="M441.3 242.3Q467 222.7 493.6 214.7" stroke="#e2474a" stroke-width="0.8" stroke-opacity="0.38"/>
<path d="M493.6 214.7Q520.2 206.7 547.8 210.3" stroke="#e2474a" stroke-width="0.8" stroke-opacity="0.38"/>
<path d="M547.8 210.3Q575.3 214 603.8 229.3" stroke="#e2474a" stroke-width="0.8" stroke-opacity="0.38"/>
<path d="M441.3 242.3Q465.7 224.2 490.6 217.6" stroke="#e2474a" stroke-width="0.8" stroke-opacity="0.38"/>
<path d="M490.6 217.6Q515.4 210.9 540.8 215.5" stroke="#e2474a" stroke-width="0.8" stroke-opacity="0.38"/>
<path d="M540.8 215.5Q566.1 220.2 591.9 236.2" stroke="#e2474a" stroke-width="0.8" stroke-opacity="0.38"/>
<path d="M504.1 227Q504.3 229.1 503.7 230.9" stroke="#e2474a"/>
<path d="M503.7 230.9Q503.2 232.6 502 233.9" stroke="#e2474a"/>
<path d="M502 233.9Q500.7 235.3 498.8 236.2" stroke="#e2474a"/>
<path d="M504.1 227Q506.4 230.1 507.4 233.3" stroke="#e2474a"/>
<path d="M507.4 233.3Q508.3 236.5 507.7 239.8" stroke="#e2474a"/>
<path d="M507.7 239.8Q507.2 243.1 505.2 246.5" stroke="#e2474a"/>
<path d="M504.1 227Q512.2 231.4 520 232.4" stroke="#e2474a"/>
<path d="M520 232.4Q527.8 233.4 535.2 231.1" stroke="#e2474a"/>
<path d="M535.2 231.1Q542.7 228.7 549.9 222.9" stroke="#e2474a"/>
<path d="M504.1 227Q510.2 232.8 516.8 235.5" stroke="#e2474a"/>
<path d="M516.8 235.5Q523.3 238.2 530.5 238" stroke="#e2474a"/>
<path d="M530.5 238Q537.6 237.7 545.3 234.4" stroke="#e2474a"/>
<path d="M504.1 227Q513.7 224.9 522.1 226" stroke="#e2474a"/>
<path d="M522.1 226Q530.5 227.2 537.7 231.6" stroke="#e2474a"/>
<path d="M537.7 231.6Q545 236 551.1 243.6" stroke="#e2474a"/>
<path d="M504.1 227Q520.2 233.3 535.1 233.6" stroke="#e2474a"/>
<path d="M535.1 233.6Q550 233.8 563.7 228" stroke="#e2474a"/>
<path d="M563.7 228Q577.5 222.2 590 210.3" stroke="#e2474a"/>
<path d="M504.1 227Q519.8 218.8 534.7 217.1" stroke="#e2474a"/>
<path d="M534.7 217.1Q549.7 215.4 564 220.2" stroke="#e2474a"/>
<path d="M564 220.2Q578.3 225 591.9 236.2" stroke="#e2474a"/>
<path d="M498.8 236.2Q508.8 239.7 517.8 239.4" stroke="#e2474a"/>
<path d="M517.8 239.4Q526.8 239.1 534.9 235" stroke="#e2474a"/>
<path d="M534.9 235Q542.9 230.8 549.9 222.9" stroke="#e2474a"/>
<path d="M498.8 236.2Q506.7 243.2 515.2 246.3" stroke="#e2474a"/>
<path d="M515.2 246.3Q523.6 249.4 532.6 248.8" stroke="#e2474a"/>
<path d="M532.6 248.8Q541.6 248.1 551.1 243.6" stroke="#e2474a"/>
<path d="M498.8 236.2Q510.4 224.8 523.3 219.1" stroke="#e2474a"/>
<path d="M523.3 219.1Q536.2 213.3 550.3 213.1" stroke="#e2474a"/>
<path d="M550.3 213.1Q564.4 212.9 579.7 218.3" stroke="#e2474a"/>
<path d="M498.8 236.2Q517.8 244.3 535.5 245" stroke="#e2474a"/>
<path d="M535.5 245Q553.2 245.6 569.6 238.9" stroke="#e2474a"/>
<path d="M569.6 238.9Q586 232.1 601 217.9" stroke="#e2474a"/>
<path d="M498.8 236.2Q512.7 243.8 526.3 245.8" stroke="#e2474a"/>
<path d="M526.3 245.8Q539.8 247.7 553 244" stroke="#e2474a"/>
<path d="M553 244Q566.2 240.4 579 231" stroke="#e2474a"/>
<path d="M498.8 236.2Q515.5 223.1 532.7 217.9" stroke="#e2474a"/>
<path d="M532.7 217.9Q550 212.8 567.7 215.6" stroke="#e2474a"/>
<path d="M567.7 215.6Q585.5 218.5 603.8 229.3" stroke="#e2474a"/>
<path d="M498.8 236.2Q514.3 226.5 529.8 223.2" stroke="#e2474a"/>
<path d="M529.8 223.2Q545.4 220 560.9 223.2" stroke="#e2474a"/>
<path d="M560.9 223.2Q576.4 226.5 591.9 236.2" stroke="#e2474a"/>
<path d="M510.9 236.2Q518.8 238.1 525.8 237.3" stroke="#e2474a"/>
<path d="M525.8 237.3Q532.8 236.5 538.8 232.9" stroke="#e2474a"/>
<path d="M538.8 232.9Q544.8 229.3 549.9 222.9" stroke="#e2474a"/>
<path d="M510.9 236.2Q523 225.7 536 220.9" stroke="#e2474a"/>
<path d="M536 220.9Q548.9 216 562.7 216.8" stroke="#e2474a"/>
<path d="M562.7 216.8Q576.5 217.7 591.2 224.1" stroke="#e2474a"/>
<path d="M510.9 236.2Q527.2 245.8 542.9 248.2" stroke="#e2474a"/>
<path d="M542.9 248.2Q558.7 250.7 573.9 245.9" stroke="#e2474a"/>
<path d="M573.9 245.9Q589.1 241.2 603.8 229.3" stroke="#e2474a"/>
<path d="M510.9 236.2Q521.7 245.2 533 249.1" stroke="#e2474a"/>
<path d="M533 249.1Q544.4 253 556.3 251.9" stroke="#e2474a"/>
<path d="M556.3 251.9Q568.3 250.8 580.9 244.7" stroke="#e2474a"/>
<path d="M505.2 246.5Q510 237.6 516.6 232.1" stroke="#e2474a"/>
<path d="M516.6 232.1Q523.2 226.5 531.5 224.2" stroke="#e2474a"/>
<path d="M531.5 224.2Q539.8 221.9 549.9 222.9" stroke="#e2474a"/>
<path d="M505.2 246.5Q513.2 251.1 520.9 252.3" stroke="#e2474a"/>
<path d="M520.9 252.3Q528.7 253.5 536.2 251.3" stroke="#e2474a"/>
<path d="M536.2 251.3Q543.8 249.1 551.1 243.6" stroke="#e2474a"/>
<path d="M505.2 246.5Q523.4 250 538.9 247.1" stroke="#e2474a"/>
<path d="M538.9 247.1Q554.4 244.3 567.2 235.1" stroke="#e2474a"/>
<path d="M567.2 235.1Q579.9 225.9 590 210.3" stroke="#e2474a"/>
<path d="M505.2 246.5Q518 254.6 530.7 257.1" stroke="#e2474a"/>
<path d="M530.7 257.1Q543.4 259.7 555.9 256.5" stroke="#e2474a"/>
<path d="M555.9 256.5Q568.5 253.4 580.9 244.7" stroke="#e2474a"/>
<path d="M549.9 222.9Q550.5 225.4 550.2 227.4" stroke="#e2474a"/>
<path d="M550.2 227.4Q549.8 229.5 548.6 231.3" stroke="#e2474a"/>
<path d="M548.6 231.3Q547.4 233 545.3 234.4" stroke="#e2474a"/>
<path d="M549.9 222.9Q552.8 229.8 557.2 234.5" stroke="#e2474a"/>
<path d="M557.2 234.5Q561.6 239.3 567.5 241.8" stroke="#e2474a"/>
<path d="M567.5 241.8Q573.4 244.3 580.9 244.7" stroke="#e2474a"/>
<path d="M545.3 234.4Q545.2 236.6 545.8 238.4" stroke="#e2474a"/>
<path d="M545.8 238.4Q546.4 240.1 547.8 241.4" stroke="#e2474a"/>
<path d="M547.8 241.4Q549.1 242.7 551.1 243.6" stroke="#e2474a"/>
<path d="M545.3 234.4Q552.9 225.9 561.6 221.2" stroke="#e2474a"/>
<path d="M561.6 221.2Q570.3 216.5 580.1 215.7" stroke="#e2474a"/>
<path d="M580.1 215.7Q590 214.9 601 217.9" stroke="#e2474a"/>
<path d="M545.3 234.4Q554 237.6 562.1 237.5" stroke="#e2474a"/>
<path d="M562.1 237.5Q570.1 237.4 577.4 234" stroke="#e2474a"/>
<path d="M577.4 234Q584.6 230.7 591.2 224.1" stroke="#e2474a"/>
<path d="M545.3 234.4Q550 240.2 555.6 243.3" stroke="#e2474a"/>
<path d="M555.6 243.3Q561.1 246.4 567.4 246.7" stroke="#e2474a"/>
<path d="M567.4 246.7Q573.8 247.1 580.9 244.7" stroke="#e2474a"/>
<path d="M545.3 234.4Q554 242 563.3 245.3" stroke="#e2474a"/>
<path d="M563.3 245.3Q572.6 248.7 582.4 247.9" stroke="#e2474a"/>
<path d="M582.4 247.9Q592.2 247 602.6 242" stroke="#e2474a"/>
<path d="M545.3 234.4Q551.4 242.3 558.6 246.7" stroke="#e2474a"/>
<path d="M558.6 246.7Q565.8 251.1 574.3 252" stroke="#e2474a"/>
<path d="M574.3 252Q582.7 252.9 592.3 250.4" stroke="#e2474a"/>
<path d="M551.1 243.6Q558.5 242.4 564.2 239.2" stroke="#e2474a"/>
<path d="M564.2 239.2Q569.8 236 573.7 230.8" stroke="#e2474a"/>
<path d="M573.7 230.8Q577.6 225.5 579.7 218.3" stroke="#e2474a"/>
<path d="M551.1 243.6Q556.5 233.6 563.8 227.4" stroke="#e2474a"/>
<path d="M563.8 227.4Q571.2 221.3 580.5 218.9" stroke="#e2474a"/>
<path d="M580.5 218.9Q589.8 216.5 601 217.9" stroke="#e2474a"/>
<path d="M551.1 243.6Q558.4 235.7 566.7 231.4" stroke="#e2474a"/>
<path d="M566.7 231.4Q574.9 227.2 584.2 226.7" stroke="#e2474a"/>
<path d="M584.2 226.7Q593.5 226.1 603.8 229.3" stroke="#e2474a"/>
<path d="M551.1 243.6Q557.1 237.8 563.6 235.1" stroke="#e2474a"/>
<path d="M563.6 235.1Q570.1 232.3 577.2 232.6" stroke="#e2474a"/>
<path d="M577.2 232.6Q584.3 232.9 591.9 236.2" stroke="#e2474a"/>
<path d="M551.1 243.6Q559.9 248.9 568.5 250.5" stroke="#e2474a"/>
<path d="M568.5 250.5Q577.1 252.2 585.7 250" stroke="#e2474a"/>
<path d="M585.7 250Q594.2 247.9 602.6 242" stroke="#e2474a"/>
<path d="M590 210.3Q589.1 212.7 587.7 214.4" stroke="#e2474a"/>
<path d="M587.7 214.4Q586.2 216.1 584.2 217.1" stroke="#e2474a"/>
<path d="M584.2 217.1Q582.2 218 579.7 218.3" stroke="#e2474a"/>
<path d="M590 210.3Q591 212.8 592.5 214.5" stroke="#e2474a"/>
<path d="M592.5 214.5Q594.1 216.2 596.2 217" stroke="#e2474a"/>
<path d="M596.2 217Q598.3 217.9 601 217.9" stroke="#e2474a"/>
<path d="M590 210.3Q590.1 215 591.7 218.7" stroke="#e2474a"/>
<path d="M591.7 218.7Q593.3 222.4 596.3 225.1" stroke="#e2474a"/>
<path d="M596.3 225.1Q599.3 227.7 603.8 229.3" stroke="#e2474a"/>
<path d="M590 210.3Q587.5 214.8 586.8 219.2" stroke="#e2474a"/>
<path d="M586.8 219.2Q586.2 223.6 587.5 227.8" stroke="#e2474a"/>
<path d="M587.5 227.8Q588.7 232.1 591.9 236.2" stroke="#e2474a"/>
<path d="M590 210.3Q584.7 215 581.9 220.4" stroke="#e2474a"/>
<path d="M581.9 220.4Q579.1 225.8 578.9 231.9" stroke="#e2474a"/>
<path d="M578.9 231.9Q578.6 238 580.9 244.7" stroke="#e2474a"/>
<path d="M579.7 218.3Q581 220.5 582.7 221.9" stroke="#e2474a"/>
<path d="M582.7 221.9Q584.4 223.2 586.5 223.8" stroke="#e2474a"/>
<path d="M586.5 223.8Q588.7 224.4 591.2 224.1" stroke="#e2474a"/>
<path d="M579.7 218.3Q582.4 222.9 586 225.7" stroke="#e2474a"/>
<path d="M586 225.7Q589.6 228.4 594.1 229.3" stroke="#e2474a"/>
<path d="M594.1 229.3Q598.5 230.2 603.8 229.3" stroke="#e2474a"/>
<path d="M579.7 218.3Q578.1 225.1 578.9 231" stroke="#e2474a"/>
<path d="M578.9 231Q579.8 236.8 583.1 241.7" stroke="#e2474a"/>
<path d="M583.1 241.7Q586.5 246.5 592.3 250.4" stroke="#e2474a"/>
<path d="M601 217.9Q598.7 217.8 596.8 218.5" stroke="#e2474a"/>
<path d="M596.8 218.5Q594.9 219.1 593.5 220.6" stroke="#e2474a"/>
<path d="M593.5 220.6Q592.1 222 591.2 224.1" stroke="#e2474a"/>
<path d="M601 217.9Q595.9 217.7 591.8 219.1" stroke="#e2474a"/>
<path d="M591.8 219.1Q587.7 220.5 584.5 223.5" stroke="#e2474a"/>
<path d="M584.5 223.5Q581.3 226.5 579 231" stroke="#e2474a"/>
<path d="M601 217.9Q600.7 224.7 598.4 229.9" stroke="#e2474a"/>
<path d="M598.4 229.9Q596.1 235.2 591.7 238.9" stroke="#e2474a"/>
<path d="M591.7 238.9Q587.3 242.6 580.9 244.7" stroke="#e2474a"/>
<path d="M601 217.9Q598.6 222.1 598 226.2" stroke="#e2474a"/>
<path d="M598 226.2Q597.4 230.2 598.5 234.2" stroke="#e2474a"/>
<path d="M598.5 234.2Q599.7 238.2 602.6 242" stroke="#e2474a"/>
<path d="M601 217.9Q596 222.4 593.4 227.5" stroke="#e2474a"/>
<path d="M593.4 227.5Q590.7 232.6 590.5 238.3" stroke="#e2474a"/>
<path d="M590.5 238.3Q590.2 244 592.3 250.4" stroke="#e2474a"/>
<path d="M591.2 224.1Q589.9 226.2 589.6 228.2" stroke="#e2474a"/>
<path d="M589.6 228.2Q589.2 230.3 589.8 232.3" stroke="#e2474a"/>
<path d="M589.8 232.3Q590.4 234.3 591.9 236.2" stroke="#e2474a"/>
<path d="M591.2 224.1Q595 225.9 597.5 228.5" stroke="#e2474a"/>
<path d="M597.5 228.5Q600 231.1 601.3 234.4" stroke="#e2474a"/>
<path d="M601.3 234.4Q602.6 237.8 602.6 242" stroke="#e2474a"/>
<path d="M603.8 229.3Q604.9 231.5 605.2 233.7" stroke="#e2474a"/>
<path d="M605.2 233.7Q605.4 235.9 604.8 237.9" stroke="#e2474a"/>
<path d="M604.8 237.9Q604.1 240 602.6 242" stroke="#e2474a"/>
<path d="M603.8 229.3Q599.4 231.5 596.7 234.5" stroke="#e2474a"/>
<path d="M596.7 234.5Q593.9 237.6 592.9 241.6" stroke="#e2474a"/>
<path d="M592.9 241.6Q591.8 245.5 592.3 250.4" stroke="#e2474a"/>
<path d="M591.9 236.2Q593.5 238.5 594.1 240.9" stroke="#e2474a"/>
<path d="M594.1 240.9Q594.7 243.2 594.2 245.6" stroke="#e2474a"/>
<path d="M594.2 245.6Q593.8 248 592.3 250.4" stroke="#e2474a"/>
<path d="M580.9 244.7Q584.8 246.8 588.6 247.2" stroke="#e2474a"/>
<path d="M588.6 247.2Q592.3 247.6 595.8 246.3" stroke="#e2474a"/>
<path d="M595.8 246.3Q599.3 245 602.6 242" stroke="#e2474a"/>
<path d="M602.6 242Q600 242.3 598 243.4" stroke="#e2474a"/>
<path d="M598 243.4Q596 244.4 594.6 246.2" stroke="#e2474a"/>
<path d="M594.6 246.2Q593.1 247.9 592.3 250.4" stroke="#e2474a"/>
</g>
<g>
<circle cx="210.1" cy="24.7" r="2.3" fill="#3cb44b"/>
<circle cx="197.5" cy="30.5" r="2.3" fill="#3cb44b"/>
<circle cx="224.5" cy="29.6" r="2.3" fill="#3cb44b"/>
<circle cx="187.5" cy="40.8" r="2.3" fill="#3cb44b"/>
<circle cx="210.9" cy="39.4" r="2.3" fill="#3cb44b"/>
<circle cx="233.4" cy="41.5" r="2.3" fill="#3cb44b"/>
<circle cx="199.8" cy="48.2" r="2.3" fill="#3cb44b"/>
<circle cx="221.3" cy="50.1" r="2.3" fill="#3cb44b"/>
<circle cx="187.2" cy="57.3" r="2.3" fill="#3cb44b"/>
<circle cx="209.4" cy="58.7" r="2.3" fill="#3cb44b"/>
<circle cx="233.8" cy="58" r="2.3" fill="#3cb44b"/>
<circle cx="197" cy="67.3" r="2.3" fill="#3cb44b"/>
<circle cx="223.8" cy="68.3" r="2.3" fill="#3cb44b"/>
<circle cx="210.1" cy="73.7" r="2.3" fill="#3cb44b"/>
<circle cx="240.8" cy="199" r="5.8" fill="#3cb44b"/>
<circle cx="252.5" cy="203" r="5.5" fill="#3cb44b"/>
<circle cx="153.9" cy="195.6" r="4.6" fill="#bfc72c"/>
<circle cx="104.6" cy="194.4" r="2.6" fill="#bfc72c"/>
<circle cx="115.2" cy="193" r="2.2" fill="#bfc72c"/>
<circle cx="100.3" cy="206" r="2.6" fill="#bfc72c"/>
<circle cx="118.7" cy="204.6" r="2.2" fill="#bfc72c"/>
<circle cx="105.8" cy="216.3" r="2.6" fill="#bfc72c"/>
<circle cx="163.4" cy="218" r="3.6" fill="#bfc72c"/>
<circle cx="197.8" cy="183.4" r="2.2" fill="#bfc72c"/>
<circle cx="191.8" cy="194.1" r="2.2" fill="#bfc72c"/>
<circle cx="238" cy="226" r="6.2" fill="#bfc72c"/>
<circle cx="182.1" cy="263.5" r="4.3" fill="#bfc72c"/>
<circle cx="216.5" cy="241.8" r="2.2" fill="#f0923a"/>
<circle cx="227.8" cy="252" r="2.8" fill="#f0923a"/>
<circle cx="213.6" cy="256.3" r="2.5" fill="#f0923a"/>
<circle cx="303.1" cy="236.1" r="8.6" fill="#3fc2d6"/>
<circle cx="304.1" cy="249.1" r="8.6" fill="#3fc2d6"/>
<circle cx="286.8" cy="362.9" r="3.6" fill="#3fc2d6"/>
<circle cx="332.8" cy="359.2" r="2.6" fill="#3fc2d6"/>
<circle cx="329.3" cy="369.9" r="2.6" fill="#3fc2d6"/>
<circle cx="338.3" cy="368" r="2.3" fill="#3fc2d6"/>
<circle cx="270.8" cy="291.2" r="4.3" fill="#4b8fd8"/>
<circle cx="227.6" cy="306.4" r="3.1" fill="#4b8fd8"/>
<circle cx="291.3" cy="311.7" r="3.6" fill="#4b8fd8"/>
<circle cx="225" cy="340.7" r="3" fill="#4b8fd8"/>
<circle cx="241.2" cy="337.1" r="3" fill="#4b8fd8"/>
<circle cx="253" cy="348.1" r="3" fill="#4b8fd8"/>
<circle cx="217.6" cy="355.2" r="3" fill="#4b8fd8"/>
<circle cx="235.7" cy="353.3" r="3" fill="#4b8fd8"/>
<circle cx="254.6" cy="363.9" r="3" fill="#4b8fd8"/>
<circle cx="219.9" cy="371.3" r="3" fill="#4b8fd8"/>
<circle cx="236.5" cy="367.8" r="3" fill="#4b8fd8"/>
<circle cx="248.3" cy="379.6" r="3" fill="#4b8fd8"/>
<circle cx="231.8" cy="383.6" r="3" fill="#4b8fd8"/>
<circle cx="106.1" cy="349.5" r="2.6" fill="#9c6cd4"/>
<circle cx="117.2" cy="351.4" r="2.6" fill="#9c6cd4"/>
<circle cx="110.7" cy="362" r="2.6" fill="#9c6cd4"/>
<circle cx="123.2" cy="362.9" r="2.6" fill="#9c6cd4"/>
<circle cx="106.1" cy="374.1" r="2.6" fill="#9c6cd4"/>
<circle cx="117.2" cy="375" r="2.6" fill="#9c6cd4"/>
<circle cx="169.4" cy="354.6" r="3.1" fill="#9c6cd4"/>
<circle cx="170.3" cy="368.5" r="3.1" fill="#9c6cd4"/>
<circle cx="357.7" cy="241.1" r="2.1" fill="#b87462"/>
<circle cx="351" cy="253.1" r="2.2" fill="#b87462"/>
<circle cx="362.5" cy="257" r="3" fill="#b87462"/>
<circle cx="441.3" cy="242.3" r="3.6" fill="#e2474a"/>
<circle cx="504.1" cy="227" r="2.6" fill="#e2474a"/>
<circle cx="498.8" cy="236.2" r="2.6" fill="#e2474a"/>
<circle cx="510.9" cy="236.2" r="2.6" fill="#e2474a"/>
<circle cx="505.2" cy="246.5" r="2.6" fill="#e2474a"/>
<circle cx="549.9" cy="222.9" r="3.6" fill="#e2474a"/>
<circle cx="545.3" cy="234.4" r="3.1" fill="#e2474a"/>
<circle cx="551.1" cy="243.6" r="3.1" fill="#e2474a"/>
<circle cx="590" cy="210.3" r="2.6" fill="#e2474a"/>
<circle cx="579.7" cy="218.3" r="2.6" fill="#e2474a"/>
<circle cx="601" cy="217.9" r="2.6" fill="#e2474a"/>
<circle cx="591.2" cy="224.1" r="2.6" fill="#e2474a"/>
<circle cx="579" cy="231" r="2.6" fill="#e2474a"/>
<circle cx="603.8" cy="229.3" r="2.6" fill="#e2474a"/>
<circle cx="591.9" cy="236.2" r="2.6" fill="#e2474a"/>
<circle cx="580.9" cy="244.7" r="2.6" fill="#e2474a"/>
<circle cx="602.6" cy="242" r="2.6" fill="#e2474a"/>
<circle cx="592.3" cy="250.4" r="2.6" fill="#e2474a"/>
</g>
<g font-family="Liberation Sans, sans-serif" fill="#1e1e1e" text-anchor="middle">
<text x="196.9" y="31.9" font-size="6.72" textLength="11.2" lengthAdjust="spacingAndGlyphs">male</text>
<text x="224.4" y="32" font-size="7.11" textLength="27.7" lengthAdjust="spacingAndGlyphs">longitudinal</text>
<text x="211.6" y="41.6" font-size="6.57" textLength="19.1" lengthAdjust="spacingAndGlyphs">students</text>
<text x="186.3" y="59.4" font-size="6.99" textLength="48.2" lengthAdjust="spacingAndGlyphs">adolescent behavior</text>
<text x="210.5" y="75.4" font-size="6.97" textLength="45.6" lengthAdjust="spacingAndGlyphs">longitudinal studies</text>
<text x="253.2" y="205.4" font-size="8.91" textLength="18.7" lengthAdjust="spacingAndGlyphs">female</text>
<text x="153.9" y="197.3" font-size="8.73" textLength="12.8" lengthAdjust="spacingAndGlyphs">child</text>
<text x="116" y="195.4" font-size="6.66" textLength="11.1" lengthAdjust="spacingAndGlyphs">adult</text>
<text x="118.5" y="206.6" font-size="6.97" textLength="42" lengthAdjust="spacingAndGlyphs">adolescent health</text>
<text x="104.8" y="218.1" font-size="6.81" textLength="26.5" lengthAdjust="spacingAndGlyphs">child health</text>
<text x="162.1" y="220.4" font-size="7.66" textLength="36" lengthAdjust="spacingAndGlyphs">cyber bullying</text>
<text x="197.4" y="184.7" font-size="6.66" textLength="18.8" lengthAdjust="spacingAndGlyphs">violence</text>
<text x="191.8" y="196" font-size="7.07" textLength="40.2" lengthAdjust="spacingAndGlyphs">mental disorders</text>
<text x="238.6" y="231.9" font-size="9.64" textLength="36.6" lengthAdjust="spacingAndGlyphs">adolescent</text>
<text x="215.8" y="243.4" font-size="6.84" textLength="29.8" lengthAdjust="spacingAndGlyphs">united states</text>
<text x="214.1" y="257.7" font-size="6.4" textLength="13.4" lengthAdjust="spacingAndGlyphs">abuse</text>
<text x="303.4" y="252.7" font-size="10.02" textLength="27.5" lengthAdjust="spacingAndGlyphs">bullying</text>
<text x="182" y="266.1" font-size="8.83" textLength="39.2" lengthAdjust="spacingAndGlyphs">crime victims</text>
<text x="269.9" y="294.1" font-size="8.25" textLength="77.3" lengthAdjust="spacingAndGlyphs">surveys and questionnaires</text>
<text x="228.4" y="309" font-size="7.98" textLength="18.6" lengthAdjust="spacingAndGlyphs">internet</text>
<text x="293.1" y="314.2" font-size="7.7" textLength="58.6" lengthAdjust="spacingAndGlyphs">socioeconomic factors</text>
<text x="224.7" y="342.8" font-size="7.19" textLength="38.4" lengthAdjust="spacingAndGlyphs">alcohol drinking</text>
<text x="235.3" y="354.7" font-size="6.93" textLength="48.6" lengthAdjust="spacingAndGlyphs">personal satisfaction</text>
<text x="236.5" y="369.6" font-size="6.79" textLength="29" lengthAdjust="spacingAndGlyphs">social media</text>
<text x="231.8" y="385.1" font-size="7.02" textLength="44.7" lengthAdjust="spacingAndGlyphs">behavior, addictive</text>
<text x="287.4" y="365.3" font-size="7.6" textLength="28.6" lengthAdjust="spacingAndGlyphs">depression</text>
<text x="337.4" y="369.3" font-size="6.9" textLength="30.1" lengthAdjust="spacingAndGlyphs">latin america</text>
<text x="105.9" y="352.1" font-size="7.1" textLength="32.2" lengthAdjust="spacingAndGlyphs">epidemiology</text>
<text x="111.5" y="364.2" font-size="6.7" textLength="29.2" lengthAdjust="spacingAndGlyphs">dental caries</text>
<text x="105.9" y="375.9" font-size="7.07" textLength="25.4" lengthAdjust="spacingAndGlyphs">oral health</text>
<text x="170.1" y="356.4" font-size="7.23" textLength="13.3" lengthAdjust="spacingAndGlyphs">brazil</text>
<text x="172.2" y="370" font-size="7.53" textLength="58.6" lengthAdjust="spacingAndGlyphs">cross-sectional studies</text>
<text x="358.6" y="243.4" font-size="7.09" textLength="40.3" lengthAdjust="spacingAndGlyphs">republic of korea</text>
<text x="351.4" y="254.4" font-size="6.93" textLength="25.8" lengthAdjust="spacingAndGlyphs">peer group</text>
<text x="442.5" y="244.9" font-size="7.25" textLength="27.3" lengthAdjust="spacingAndGlyphs">aggression</text>
<text x="511" y="237.8" font-size="7.14" textLength="40.3" lengthAdjust="spacingAndGlyphs">nursing students</text>
<text x="505.2" y="248.1" font-size="7.02" textLength="42.6" lengthAdjust="spacingAndGlyphs">clinical placement</text>
<text x="550.5" y="225.6" font-size="7.01" textLength="50.6" lengthAdjust="spacingAndGlyphs">workplace violence</text>
<text x="546.2" y="235.4" font-size="6.73" textLength="16.9" lengthAdjust="spacingAndGlyphs">nurses</text>
<text x="551" y="244.7" font-size="6.88" textLength="26.5" lengthAdjust="spacingAndGlyphs">workplace</text>
<text x="601" y="219.4" font-size="6.88" textLength="39.1" lengthAdjust="spacingAndGlyphs">concept analysis</text>
<text x="605" y="231.5" font-size="6.89" textLength="47.1" lengthAdjust="spacingAndGlyphs">nurses and violence</text>
<text x="602.9" y="244.3" font-size="6.96" textLength="47.6" lengthAdjust="spacingAndGlyphs">terminology as topic</text>
</g>
</svg>
<svg style="position:absolute;left:27px;top:390px" width="60" height="25" viewBox="27 390 60 25"><rect x="28.5" y="391.5" width="56.5" height="21.5" rx="3.5" fill="#fff" stroke="#dcdcdc" stroke-width="1"/><g style="filter:blur(0.35px)"><path d="M36.2 396.2 C37.6 395.6 38.6 397 39 398.6 L40.6 402.8 C41.6 404.2 43 404.6 43.6 405.8 C43.4 407.4 41.6 407.4 40.4 406.4 L38.6 404.2 L36.6 408 C35.6 409.2 33.6 408.6 33.8 407 L35.6 400.4 Z" fill="#5cc4c8"/><path d="M36.6 397.2 C37.8 397 38.2 398.4 38.4 400 L37.6 403.4 L36.2 401.6 Z" fill="#3aa0b8"/><ellipse cx="37.2" cy="399.6" rx="1.3" ry="1.5" fill="#d6553a"/><ellipse cx="35.2" cy="406.4" rx="1.5" ry="1.6" fill="#9ccf2e"/><ellipse cx="41.4" cy="405.6" rx="1.2" ry="0.9" fill="#7fd0c8"/></g><text x="44.6" y="405.4" font-family="Liberation Sans, sans-serif" font-size="8.6" fill="#3a3a3a" textLength="35" lengthAdjust="spacingAndGlyphs" style="filter:blur(0.3px)">VOSviewer</text></svg>
<div class="cap" style="top:422px">Рис. 1 Библиометрическая сеть на базе «PubMed»: «вербальный буллинг»</div>
<div class="cap" style="top:442px">(network visualizations)</div>
<div class="cap" style="top:463px;letter-spacing:-0.028px">Fig. 1 Bibliometric network based on PubMed: “verbal bullying” (network visualizations)</div>
</body></html>
